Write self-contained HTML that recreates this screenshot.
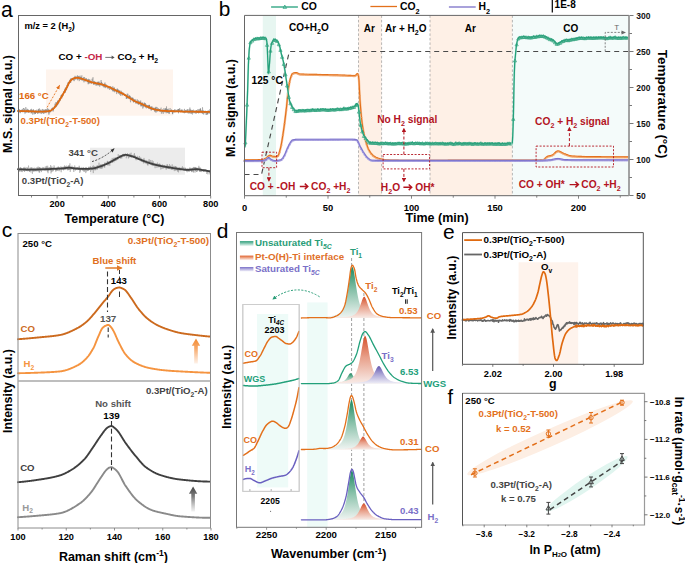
<!DOCTYPE html>
<html><head><meta charset="utf-8"><style>
html,body{margin:0;padding:0;background:#fff;width:685px;height:563px;overflow:hidden}
svg{display:block}
text{font-family:"Liberation Sans", sans-serif}
</style></head><body>
<svg width="685" height="563" viewBox="0 0 685 563" font-family='"Liberation Sans", sans-serif'>
<text x="1" y="16.8" font-size="21.2" font-weight="normal" fill="#000" text-anchor="start" ><tspan>a</tspan></text>
<rect x="46" y="69.5" width="127" height="46.2" fill="#fef4ed" />
<rect x="90" y="147.7" width="95" height="27" fill="#ececec" />
<path d="M18 111 L18.3 111.49 L18.6 110.57 L18.9 109.57 L19.2 110.29 L19.5 109.42 L19.8 111.14 L20.1 113.23 L20.4 110.26 L20.7 110.05 L21 111.87 L21.3 111.66 L21.6 111.25 L21.9 109.58 L22.2 111.05 L22.5 112.24 L22.8 108.93 L23.1 110.38 L23.4 108.04 L23.7 109.04 L24 108.15 L24.3 110.77 L24.6 109.1 L24.9 111.61 L25.2 111.43 L25.5 110.88 L25.8 107.1 L26.1 110.32 L26.4 111.12 L26.7 111.4 L27 108.73 L27.3 110.45 L27.6 109.65 L27.9 109.93 L28.2 112.98 L28.5 109.95 L28.8 111.21 L29.1 112.71 L29.4 110.34 L29.7 111.11 L30 111.48 L30.3 111.41 L30.6 109.33 L30.9 111.45 L31.2 113.55 L31.5 108.83 L31.8 112.76 L32.1 111.56 L32.4 110.34 L32.7 114.64 L33 112.64 L33.3 109.47 L33.6 111.55 L33.9 112.38 L34.2 111.15 L34.5 112.57 L34.8 111.37 L35.1 112.57 L35.4 113.84 L35.7 110.41 L36 111.85 L36.3 110.78 L36.6 111.75 L36.9 109.62 L37.2 110.62 L37.5 111.25 L37.8 113.03 L38.1 113.44 L38.4 109.43 L38.7 110.3 L39 112.65 L39.3 108.36 L39.6 110.85 L39.9 111.44 L40.2 113.64 L40.5 112.72 L40.8 111.07 L41.1 111 L41.4 111.19 L41.7 114.06 L42 110.89 L42.3 111.08 L42.6 112.14 L42.9 111.37 L43.2 111.24 L43.5 109.74 L43.8 111.52 L44.1 110.81 L44.4 113.41 L44.7 112.57 L45 111.46 L45.3 112.57 L45.6 110.92 L45.9 113.17 L46.2 111.43 L46.5 112.37 L46.8 109.31 L47.1 111.96 L47.4 108.62 L47.7 108.02 L48 110.79 L48.3 109.77 L48.6 111.44 L48.9 114.75 L49.2 109.67 L49.5 109.93 L49.8 111.19 L50.1 111.57 L50.4 110.37 L50.7 110.19 L51 111.52 L51.3 111.05 L51.6 108.34 L51.9 109.69 L52.2 109.67 L52.5 107.67 L52.8 109.58 L53.1 107.52 L53.4 110.23 L53.7 108.67 L54 108.18 L54.3 106.73 L54.6 107.13 L54.9 103.7 L55.2 104.72 L55.5 106.75 L55.8 102.3 L56.1 106.74 L56.4 102.12 L56.7 105.77 L57 102.73 L57.3 104.92 L57.6 103.41 L57.9 100.24 L58.2 104.29 L58.5 104.13 L58.8 101.21 L59.1 100.4 L59.4 100.1 L59.7 98.29 L60 101.17 L60.3 98 L60.6 98.3 L60.9 96.58 L61.2 96.35 L61.5 94.78 L61.8 98.38 L62.1 95.58 L62.4 96.89 L62.7 94.82 L63 93.15 L63.3 93.23 L63.6 92.33 L63.9 92.73 L64.2 91.58 L64.5 91.17 L64.8 88.89 L65.1 89.29 L65.4 92.76 L65.7 88.44 L66 87.29 L66.3 89 L66.6 90.15 L66.9 84.9 L67.2 86.31 L67.5 84.99 L67.8 82.53 L68.1 85.96 L68.4 84.12 L68.7 83.68 L69 81.78 L69.3 83.21 L69.6 81.1 L69.9 81.3 L70.2 79.33 L70.5 78.82 L70.8 82.67 L71.1 79.39 L71.4 80.41 L71.7 79.61 L72 78.7 L72.3 78.36 L72.6 80 L72.9 78.29 L73.2 78.37 L73.5 78.51 L73.8 80.27 L74.1 79.38 L74.4 78.82 L74.7 77.21 L75 75.81 L75.3 79.53 L75.6 79.5 L75.9 77.66 L76.2 78.73 L76.5 79.09 L76.8 79.15 L77.1 79.3 L77.4 77.07 L77.7 80.3 L78 75.86 L78.3 79.33 L78.6 78.79 L78.9 79.47 L79.2 81.17 L79.5 80.6 L79.8 76.4 L80.1 75.58 L80.4 79.72 L80.7 76.81 L81 78.52 L81.3 79.99 L81.6 76.04 L81.9 75.37 L82.2 79.32 L82.5 79.06 L82.8 78.69 L83.1 79.26 L83.4 77.9 L83.7 76.94 L84 79.23 L84.3 78.03 L84.6 77.05 L84.9 80.64 L85.2 79.83 L85.5 80.69 L85.8 78.53 L86.1 79.16 L86.4 78.71 L86.7 79 L87 80.87 L87.3 79.39 L87.6 81.35 L87.9 81.43 L88.2 84.28 L88.5 78.84 L88.8 82.66 L89.1 81.18 L89.4 81.42 L89.7 79.19 L90 80.91 L90.3 82.97 L90.6 81.73 L90.9 82.1 L91.2 81.59 L91.5 84.03 L91.8 82.21 L92.1 78.75 L92.4 81.28 L92.7 79.29 L93 77.28 L93.3 81.77 L93.6 84.87 L93.9 82.85 L94.2 80.93 L94.5 81.37 L94.8 84.8 L95.1 83.28 L95.4 83.16 L95.7 83.06 L96 83.26 L96.3 84.57 L96.6 84.22 L96.9 83.73 L97.2 81.74 L97.5 84.32 L97.8 82.44 L98.1 85.38 L98.4 81.6 L98.7 83.5 L99 83.77 L99.3 81.7 L99.6 86.71 L99.9 86.35 L100.2 83.29 L100.5 85.37 L100.8 84.8 L101.1 80.01 L101.4 84.74 L101.7 84.32 L102 84.64 L102.3 82.84 L102.6 84.24 L102.9 84.48 L103.2 86.79 L103.5 85.5 L103.8 85.05 L104.1 87.64 L104.4 84.36 L104.7 84.73 L105 82.52 L105.3 88.13 L105.6 87.26 L105.9 87.3 L106.2 87.01 L106.5 86.22 L106.8 86.51 L107.1 85.87 L107.4 86.07 L107.7 86.62 L108 89.11 L108.3 87.68 L108.6 86.81 L108.9 86.09 L109.2 86.12 L109.5 89.89 L109.8 88.24 L110.1 87.65 L110.4 87.11 L110.7 86.01 L111 87.85 L111.3 89.52 L111.6 87.61 L111.9 88.03 L112.2 88.19 L112.5 88.88 L112.8 86.27 L113.1 88.63 L113.4 87.78 L113.7 90.76 L114 88.23 L114.3 90.58 L114.6 92.27 L114.9 89.44 L115.2 89.13 L115.5 90.57 L115.8 90.4 L116.1 88.93 L116.4 91.44 L116.7 94.11 L117 90.55 L117.3 90.78 L117.6 89.55 L117.9 91.9 L118.2 89.49 L118.5 89.85 L118.8 93.86 L119.1 90.44 L119.4 93.8 L119.7 94.66 L120 92.74 L120.3 93.36 L120.6 95.77 L120.9 92.42 L121.2 91.92 L121.5 90.84 L121.8 93.25 L122.1 95.74 L122.4 95.06 L122.7 92.13 L123 92.44 L123.3 93.19 L123.6 94.66 L123.9 94.04 L124.2 94.9 L124.5 95.23 L124.8 94.45 L125.1 95.07 L125.4 95.66 L125.7 95.38 L126 96.54 L126.3 98.95 L126.6 97.07 L126.9 96.39 L127.2 93.76 L127.5 97.32 L127.8 93.71 L128.1 94.77 L128.4 98.64 L128.7 98.58 L129 97.38 L129.3 95.04 L129.6 97.41 L129.9 97.1 L130.2 99.43 L130.5 102.26 L130.8 99.13 L131.1 97.7 L131.4 97.26 L131.7 99.25 L132 99.24 L132.3 97.84 L132.6 100.08 L132.9 98.2 L133.2 102.05 L133.5 102.14 L133.8 102.34 L134.1 99.97 L134.4 101.73 L134.7 100.84 L135 100.56 L135.3 100.79 L135.6 99.37 L135.9 99.27 L136.2 103.04 L136.5 101.57 L136.8 102.36 L137.1 103.76 L137.4 99.44 L137.7 101.1 L138 102.78 L138.3 103.26 L138.6 102.12 L138.9 104.53 L139.2 103.31 L139.5 101.12 L139.8 101.7 L140.1 104.64 L140.4 104.2 L140.7 100.48 L141 105.88 L141.3 104.78 L141.6 106.12 L141.9 103.44 L142.2 103.71 L142.5 102.49 L142.8 108.58 L143.1 104.31 L143.4 107.31 L143.7 103.83 L144 105.3 L144.3 102.47 L144.6 104.71 L144.9 107.09 L145.2 103.61 L145.5 107.53 L145.8 106.49 L146.1 104.39 L146.4 105.42 L146.7 105.62 L147 106.42 L147.3 105.76 L147.6 105.42 L147.9 106.39 L148.2 105.35 L148.5 105.06 L148.8 107.2 L149.1 108.85 L149.4 105.05 L149.7 107.67 L150 106.74 L150.3 106.33 L150.6 109.43 L150.9 107.32 L151.2 110.72 L151.5 107.13 L151.8 109.14 L152.1 108.25 L152.4 107.51 L152.7 109.79 L153 108.69 L153.3 110.01 L153.6 109.05 L153.9 107.45 L154.2 109.13 L154.5 109.46 L154.8 111.01 L155.1 108.05 L155.4 109.53 L155.7 106.86 L156 110.78 L156.3 108.03 L156.6 106.91 L156.9 109.82 L157.2 111.77 L157.5 107.56 L157.8 108.32 L158.1 108.94 L158.4 108.37 L158.7 110.87 L159 109 L159.3 109.19 L159.6 111.35 L159.9 109.22 L160.2 111.2 L160.5 108.96 L160.8 108.61 L161.1 107.63 L161.4 113.68 L161.7 110.16 L162 111.11 L162.3 110.69 L162.6 111.03 L162.9 110.87 L163.2 113.91 L163.5 109.15 L163.8 108.32 L164.1 109.23 L164.4 108.72 L164.7 112.12 L165 112.26 L165.3 109.38 L165.6 108.7 L165.9 110.39 L166.2 113.25 L166.5 106.42 L166.8 111.87 L167.1 109.28 L167.4 112.73 L167.7 109.3 L168 110.6 L168.3 108.63 L168.6 109.5 L168.9 113.35 L169.2 112.44 L169.5 110.47 L169.8 109.72 L170.1 108.06 L170.4 110.51 L170.7 111.11 L171 111.03 L171.3 111.03 L171.6 109.37 L171.9 111.09 L172.2 111.15 L172.5 113.32 L172.8 114.26 L173.1 111.01 L173.4 110 L173.7 111.15 L174 110.28 L174.3 110.07 L174.6 111.19 L174.9 109.6 L175.2 112.29 L175.5 111.15 L175.8 111.73 L176.1 111.04 L176.4 110.17 L176.7 109.82 L177 110.99 L177.3 110.49 L177.6 111.77 L177.9 111.4 L178.2 109.2 L178.5 111.53 L178.8 109.25 L179.1 110.44 L179.4 110.98 L179.7 108.09 L180 111.62 L180.3 111.73 L180.6 111.24 L180.9 110.82 L181.2 110.91 L181.5 109.94 L181.8 111.09 L182.1 110.64 L182.4 111.7 L182.7 109.6 L183 111.95 L183.3 111.8 L183.6 111.35 L183.9 110.87 L184.2 112.48 L184.5 108.89 L184.8 112.35 L185.1 112 L185.4 112.07 L185.7 112.23 L186 110.55 L186.3 111.2 L186.6 112.66 L186.9 112.33 L187.2 111.97 L187.5 109.17 L187.8 112.51 L188.1 113.54 L188.4 113.29 L188.7 112.03 L189 109.12 L189.3 113.19 L189.6 111.42 L189.9 107.55 L190.2 112.28 L190.5 109.25 L190.8 109.57 L191.1 110.65 L191.4 113.75 L191.7 111.08 L192 112.13 L192.3 114.53 L192.6 114.29 L192.9 111.53 L193.2 111.31 L193.5 109.66 L193.8 110.58 L194.1 112.4 L194.4 112.36 L194.7 111.9 L195 113.34 L195.3 110.47 L195.6 111.63 L195.9 112.92 L196.2 112.68 L196.5 113.47 L196.8 112.38 L197.1 111.24 L197.4 112.33 L197.7 110.12 L198 109.08 L198.3 112.69 L198.6 111.66 L198.9 112.26 L199.2 109 L199.5 111.17 L199.8 110.79 L200.1 110.36 L200.4 108.1 L200.7 111.22 L201 113.23 L201.3 112.39 L201.6 110.8 L201.9 111.75 L202.2 113.01 L202.5 107.29 L202.8 111.58 L203.1 112.66 L203.4 112.89 L203.7 114.55 L204 113.63 L204.3 112.3 L204.6 112.28 L204.9 113.07 L205.2 110.91 L205.5 111.73 L205.8 113.27 L206.1 114.97 L206.4 111.54 L206.7 111.72 L207 112.12 L207.3 113.98 L207.6 111.75 L207.9 114.19 L208.2 110.23 L208.5 111.5 L208.8 111.48 L209.1 113.08 L209.4 113.5 L209.7 109.35 L210 110.31" fill="none" stroke="#8a8a8a" stroke-width="0.5" stroke-linejoin="round" stroke-linecap="round" />
<path d="M18 111.38 L18.3 110.27 L18.6 109.3 L18.9 112.19 L19.2 111.58 L19.5 111.59 L19.8 110.51 L20.1 112.21 L20.4 110.78 L20.7 112.3 L21 110.04 L21.3 110.12 L21.6 111.31 L21.9 110.3 L22.2 111.86 L22.5 111.4 L22.8 110.07 L23.1 111.2 L23.4 110.73 L23.7 112.17 L24 110.43 L24.3 110.66 L24.6 112.52 L24.9 113.68 L25.2 113.42 L25.5 111.25 L25.8 111.43 L26.1 112.92 L26.4 111.06 L26.7 110.11 L27 111.35 L27.3 111.74 L27.6 110.3 L27.9 109.39 L28.2 109.63 L28.5 112.01 L28.8 110.41 L29.1 111.12 L29.4 111.52 L29.7 111.99 L30 110.92 L30.3 111.87 L30.6 110.32 L30.9 110.92 L31.2 110.18 L31.5 112.62 L31.8 111.33 L32.1 110.54 L32.4 110.99 L32.7 111.14 L33 112.19 L33.3 109.62 L33.6 110.26 L33.9 111.02 L34.2 114.3 L34.5 112.54 L34.8 111.35 L35.1 112.29 L35.4 113.81 L35.7 111.25 L36 111.11 L36.3 112.89 L36.6 112.1 L36.9 112.3 L37.2 110.99 L37.5 113.73 L37.8 113.5 L38.1 112.22 L38.4 112.36 L38.7 109.31 L39 112.31 L39.3 111.38 L39.6 112.09 L39.9 112.37 L40.2 111.22 L40.5 109.7 L40.8 112.01 L41.1 110.76 L41.4 111.22 L41.7 110.91 L42 111.2 L42.3 108.98 L42.6 112.94 L42.9 111.85 L43.2 112.81 L43.5 113.78 L43.8 111.56 L44.1 109.5 L44.4 110.51 L44.7 110.15 L45 110.93 L45.3 111.57 L45.6 109.22 L45.9 111.84 L46.2 109.74 L46.5 111.76 L46.8 111.29 L47.1 111.04 L47.4 111.29 L47.7 110.72 L48 110.6 L48.3 109.34 L48.6 111.14 L48.9 113.18 L49.2 113.25 L49.5 112.43 L49.8 111.65 L50.1 110.01 L50.4 112.28 L50.7 110.46 L51 110.3 L51.3 109.88 L51.6 110.12 L51.9 109.33 L52.2 109.52 L52.5 108.17 L52.8 108.74 L53.1 111.48 L53.4 108.57 L53.7 108.09 L54 108.63 L54.3 108.48 L54.6 106.07 L54.9 106.71 L55.2 107.59 L55.5 106.46 L55.8 105.9 L56.1 107.12 L56.4 104.2 L56.7 104.63 L57 103.52 L57.3 105.33 L57.6 101 L57.9 101.98 L58.2 101.67 L58.5 102.54 L58.8 102 L59.1 102.41 L59.4 98.59 L59.7 100.72 L60 99.05 L60.3 98.13 L60.6 98.99 L60.9 96.84 L61.2 95.03 L61.5 96.44 L61.8 94.66 L62.1 95.1 L62.4 95.73 L62.7 95.15 L63 96.07 L63.3 93.54 L63.6 91.51 L63.9 91.86 L64.2 91.15 L64.5 90.29 L64.8 91.62 L65.1 89.87 L65.4 87.84 L65.7 90.32 L66 88.87 L66.3 88.85 L66.6 87.99 L66.9 87.97 L67.2 86.69 L67.5 87.41 L67.8 85.87 L68.1 85.21 L68.4 84.62 L68.7 81.93 L69 82.82 L69.3 82.18 L69.6 82.21 L69.9 80 L70.2 82.97 L70.5 80.92 L70.8 79.14 L71.1 78.29 L71.4 79.62 L71.7 79.57 L72 78.61 L72.3 79.29 L72.6 78.25 L72.9 79.4 L73.2 77.8 L73.5 78.43 L73.8 79.46 L74.1 81.17 L74.4 77.06 L74.7 77.6 L75 77.11 L75.3 78.87 L75.6 76.64 L75.9 77.34 L76.2 77.81 L76.5 76.72 L76.8 76.73 L77.1 77.27 L77.4 75.45 L77.7 76.22 L78 77.42 L78.3 78.1 L78.6 77.78 L78.9 76.06 L79.2 77.6 L79.5 79.09 L79.8 78.88 L80.1 78.23 L80.4 77.39 L80.7 79.17 L81 77.89 L81.3 77.31 L81.6 77.81 L81.9 80.43 L82.2 79.14 L82.5 80.3 L82.8 78.55 L83.1 80.25 L83.4 78.62 L83.7 79.22 L84 82.3 L84.3 80.47 L84.6 79.15 L84.9 79.73 L85.2 80.29 L85.5 81.39 L85.8 79.58 L86.1 78.27 L86.4 80.02 L86.7 80.46 L87 80.67 L87.3 82.14 L87.6 81.12 L87.9 81.79 L88.2 79.75 L88.5 82.08 L88.8 83.58 L89.1 82.2 L89.4 81.73 L89.7 81.72 L90 83.67 L90.3 80.72 L90.6 81.74 L90.9 82.48 L91.2 82.9 L91.5 81.66 L91.8 82.59 L92.1 82.01 L92.4 82.54 L92.7 82.34 L93 81.28 L93.3 82.61 L93.6 83.69 L93.9 81.68 L94.2 82.56 L94.5 83.65 L94.8 81.76 L95.1 83.23 L95.4 81.89 L95.7 84.42 L96 85.8 L96.3 85.54 L96.6 83.07 L96.9 84.21 L97.2 83.57 L97.5 83.6 L97.8 85.29 L98.1 82.12 L98.4 84.85 L98.7 83.67 L99 85.37 L99.3 84.06 L99.6 83.16 L99.9 84.29 L100.2 84.87 L100.5 84.16 L100.8 84.74 L101.1 83.67 L101.4 81.94 L101.7 85.43 L102 85.29 L102.3 84.75 L102.6 84.75 L102.9 85.93 L103.2 84.34 L103.5 84.16 L103.8 84.84 L104.1 86.49 L104.4 83.7 L104.7 86.71 L105 84.75 L105.3 84.35 L105.6 87.11 L105.9 85.7 L106.2 84.46 L106.5 85.64 L106.8 87.21 L107.1 87.62 L107.4 85.92 L107.7 86.98 L108 87.45 L108.3 86.05 L108.6 87.3 L108.9 86.99 L109.2 86.55 L109.5 86.73 L109.8 87.49 L110.1 87.58 L110.4 87.04 L110.7 87.33 L111 89.21 L111.3 88.34 L111.6 89.24 L111.9 89.75 L112.2 89.21 L112.5 91.26 L112.8 87.93 L113.1 89.92 L113.4 88.81 L113.7 91.41 L114 91.4 L114.3 87.44 L114.6 88.71 L114.9 90.7 L115.2 90.99 L115.5 91.08 L115.8 90.32 L116.1 91.06 L116.4 91.43 L116.7 90.74 L117 92.13 L117.3 88.57 L117.6 91.96 L117.9 90.21 L118.2 92.59 L118.5 91.39 L118.8 90.78 L119.1 92.33 L119.4 91.02 L119.7 91.16 L120 90.56 L120.3 92.43 L120.6 93.16 L120.9 93.89 L121.2 92.73 L121.5 94.21 L121.8 93.21 L122.1 93.24 L122.4 94.15 L122.7 94.85 L123 93.45 L123.3 93.73 L123.6 94.01 L123.9 94.46 L124.2 93.54 L124.5 95.9 L124.8 94.49 L125.1 95.65 L125.4 94.4 L125.7 95.92 L126 96.16 L126.3 95.44 L126.6 98.38 L126.9 96.72 L127.2 98.5 L127.5 97.77 L127.8 96.13 L128.1 96.63 L128.4 97.74 L128.7 97.51 L129 97.68 L129.3 97.5 L129.6 95.97 L129.9 97.95 L130.2 95.9 L130.5 99 L130.8 97.96 L131.1 98.16 L131.4 98.91 L131.7 99.65 L132 97.92 L132.3 97.75 L132.6 98.69 L132.9 97.77 L133.2 99.16 L133.5 102.2 L133.8 99.39 L134.1 101.48 L134.4 99.36 L134.7 101.39 L135 100.84 L135.3 101.27 L135.6 102.12 L135.9 103.59 L136.2 101.97 L136.5 102.02 L136.8 100.91 L137.1 102.79 L137.4 101.98 L137.7 103.31 L138 102.45 L138.3 104.58 L138.6 100.51 L138.9 102.52 L139.2 103.96 L139.5 102.7 L139.8 102.32 L140.1 103.03 L140.4 101.89 L140.7 103.7 L141 106.43 L141.3 105.1 L141.6 102.69 L141.9 103.08 L142.2 103.73 L142.5 105.45 L142.8 103.53 L143.1 103.82 L143.4 105.73 L143.7 105.85 L144 104.61 L144.3 103.92 L144.6 103.59 L144.9 104.7 L145.2 103.13 L145.5 106.64 L145.8 105.23 L146.1 106.63 L146.4 108.33 L146.7 107.69 L147 105.2 L147.3 107.61 L147.6 108.06 L147.9 106.05 L148.2 105.95 L148.5 107.03 L148.8 105.48 L149.1 109.07 L149.4 104.83 L149.7 106.42 L150 107.49 L150.3 107.66 L150.6 108.23 L150.9 108.47 L151.2 108.04 L151.5 109.68 L151.8 106.11 L152.1 108.62 L152.4 107.93 L152.7 108.99 L153 109.19 L153.3 108.01 L153.6 108.41 L153.9 110.11 L154.2 109.69 L154.5 108.61 L154.8 111.75 L155.1 112.12 L155.4 107.94 L155.7 110 L156 112.54 L156.3 110.67 L156.6 110.1 L156.9 109.68 L157.2 109.36 L157.5 109.79 L157.8 109.47 L158.1 110.99 L158.4 109.75 L158.7 109.76 L159 108.96 L159.3 110.3 L159.6 109.4 L159.9 110.25 L160.2 111.67 L160.5 110.95 L160.8 111.15 L161.1 111.02 L161.4 110.72 L161.7 110.54 L162 110.37 L162.3 111.6 L162.6 109.55 L162.9 112.3 L163.2 110.85 L163.5 109.99 L163.8 110.3 L164.1 110.11 L164.4 111.07 L164.7 110.1 L165 112.21 L165.3 110.06 L165.6 108.4 L165.9 110.15 L166.2 108.73 L166.5 110.95 L166.8 112.2 L167.1 111.75 L167.4 109.53 L167.7 110.19 L168 113.06 L168.3 111.43 L168.6 111.09 L168.9 112.29 L169.2 113.87 L169.5 112.58 L169.8 111.29 L170.1 111.54 L170.4 111.84 L170.7 110.47 L171 109.98 L171.3 111.24 L171.6 110.12 L171.9 111.13 L172.2 111.32 L172.5 113.85 L172.8 110.27 L173.1 111.1 L173.4 111.06 L173.7 111.75 L174 112.44 L174.3 110.72 L174.6 110.36 L174.9 109.45 L175.2 110.26 L175.5 111.92 L175.8 111.38 L176.1 110.2 L176.4 110.93 L176.7 111.4 L177 111.94 L177.3 110.71 L177.6 111.11 L177.9 109.36 L178.2 110.12 L178.5 113.24 L178.8 108.97 L179.1 111.07 L179.4 111.7 L179.7 111.05 L180 110.57 L180.3 111.42 L180.6 111.49 L180.9 111.41 L181.2 109.4 L181.5 111.36 L181.8 110.57 L182.1 110.92 L182.4 111.8 L182.7 112.28 L183 112.57 L183.3 111.01 L183.6 112.62 L183.9 112.9 L184.2 112.87 L184.5 113.16 L184.8 111.43 L185.1 111.41 L185.4 112.53 L185.7 110.07 L186 111.85 L186.3 111.02 L186.6 111.21 L186.9 109.67 L187.2 110.63 L187.5 111.61 L187.8 112.64 L188.1 112.76 L188.4 111.55 L188.7 111.44 L189 110.72 L189.3 112.11 L189.6 111.38 L189.9 112.35 L190.2 113.64 L190.5 111.63 L190.8 109.99 L191.1 110.71 L191.4 110.04 L191.7 110.34 L192 113.16 L192.3 111.95 L192.6 109.98 L192.9 112.43 L193.2 113.12 L193.5 111.3 L193.8 110.95 L194.1 111.33 L194.4 112.03 L194.7 112.44 L195 113.05 L195.3 113.09 L195.6 113.06 L195.9 113.26 L196.2 112.48 L196.5 110.01 L196.8 111.59 L197.1 112.09 L197.4 111.31 L197.7 112.77 L198 111.34 L198.3 110.71 L198.6 113.38 L198.9 112.5 L199.2 112 L199.5 112.8 L199.8 112.96 L200.1 112.15 L200.4 109 L200.7 111.01 L201 111.26 L201.3 110.66 L201.6 112 L201.9 113.12 L202.2 111.23 L202.5 110.5 L202.8 114.06 L203.1 111.27 L203.4 110.4 L203.7 112.05 L204 112.26 L204.3 110.99 L204.6 112.68 L204.9 111.24 L205.2 110.75 L205.5 111.99 L205.8 112.66 L206.1 111.08 L206.4 112.17 L206.7 111.69 L207 114.97 L207.3 111 L207.6 113.35 L207.9 111.74 L208.2 111.66 L208.5 112.61 L208.8 112.81 L209.1 113.23 L209.4 112.17 L209.7 111.12 L210 111.2" fill="none" stroke="#7a7a7a" stroke-width="0.5" stroke-linejoin="round" stroke-linecap="round" />
<path d="M18 111 L18.35 111.01 L18.7 111.02 L19.05 111.02 L19.4 111.03 L19.75 111.04 L20.1 111.05 L20.45 111.06 L20.8 111.06 L21.15 111.07 L21.5 111.08 L21.85 111.09 L22.2 111.1 L22.55 111.11 L22.9 111.12 L23.25 111.12 L23.6 111.13 L23.95 111.14 L24.3 111.15 L24.65 111.16 L25 111.17 L25.35 111.18 L25.7 111.19 L26.05 111.19 L26.4 111.2 L26.75 111.21 L27.1 111.22 L27.45 111.23 L27.8 111.24 L28.15 111.25 L28.5 111.26 L28.85 111.27 L29.2 111.28 L29.55 111.29 L29.9 111.3 L30.25 111.31 L30.6 111.32 L30.95 111.33 L31.3 111.34 L31.65 111.35 L32 111.37 L32.35 111.38 L32.7 111.39 L33.05 111.41 L33.4 111.42 L33.75 111.43 L34.1 111.45 L34.45 111.46 L34.8 111.48 L35.15 111.49 L35.5 111.5 L35.85 111.52 L36.2 111.53 L36.55 111.54 L36.9 111.55 L37.25 111.56 L37.6 111.57 L37.95 111.58 L38.3 111.58 L38.65 111.59 L39 111.59 L39.35 111.6 L39.7 111.6 L40.05 111.6 L40.4 111.6 L40.75 111.6 L41.1 111.59 L41.45 111.59 L41.8 111.59 L42.15 111.58 L42.5 111.57 L42.85 111.57 L43.2 111.56 L43.55 111.55 L43.9 111.54 L44.25 111.52 L44.6 111.51 L44.95 111.5 L45.3 111.48 L45.65 111.47 L46 111.45 L46.35 111.43 L46.7 111.42 L47.05 111.4 L47.4 111.37 L47.75 111.32 L48.1 111.27 L48.45 111.2 L48.8 111.12 L49.15 111.04 L49.5 110.94 L49.85 110.84 L50.2 110.73 L50.55 110.6 L50.9 110.43 L51.25 110.24 L51.6 110.02 L51.95 109.79 L52.3 109.54 L52.65 109.27 L53 109 L53.35 108.7 L53.7 108.36 L54.05 107.98 L54.4 107.57 L54.75 107.13 L55.1 106.69 L55.45 106.23 L55.8 105.76 L56.15 105.3 L56.5 104.82 L56.85 104.32 L57.2 103.8 L57.55 103.27 L57.9 102.73 L58.25 102.18 L58.6 101.63 L58.95 101.08 L59.3 100.52 L59.65 99.96 L60 99.38 L60.35 98.8 L60.7 98.21 L61.05 97.62 L61.4 97.02 L61.75 96.43 L62.1 95.83 L62.45 95.23 L62.8 94.63 L63.15 94.02 L63.5 93.41 L63.85 92.8 L64.2 92.19 L64.55 91.57 L64.9 90.95 L65.25 90.33 L65.6 89.71 L65.95 89.09 L66.3 88.45 L66.65 87.77 L67 87.06 L67.35 86.33 L67.7 85.6 L68.05 84.87 L68.4 84.16 L68.75 83.47 L69.1 82.82 L69.45 82.22 L69.8 81.67 L70.15 81.2 L70.5 80.8 L70.85 80.45 L71.2 80.12 L71.55 79.8 L71.9 79.5 L72.25 79.23 L72.6 78.98 L72.95 78.75 L73.3 78.57 L73.65 78.41 L74 78.3 L74.35 78.21 L74.7 78.12 L75.05 78.04 L75.4 77.97 L75.75 77.91 L76.1 77.86 L76.45 77.82 L76.8 77.8 L77.15 77.8 L77.5 77.82 L77.85 77.86 L78.2 77.92 L78.55 77.98 L78.9 78.05 L79.25 78.13 L79.6 78.21 L79.95 78.29 L80.3 78.37 L80.65 78.45 L81 78.54 L81.35 78.64 L81.7 78.74 L82.05 78.85 L82.4 78.96 L82.75 79.07 L83.1 79.19 L83.45 79.31 L83.8 79.44 L84.15 79.56 L84.5 79.68 L84.85 79.81 L85.2 79.93 L85.55 80.05 L85.9 80.17 L86.25 80.28 L86.6 80.41 L86.95 80.53 L87.3 80.66 L87.65 80.79 L88 80.92 L88.35 81.05 L88.7 81.18 L89.05 81.31 L89.4 81.44 L89.75 81.57 L90.1 81.69 L90.45 81.82 L90.8 81.93 L91.15 82.05 L91.5 82.16 L91.85 82.26 L92.2 82.35 L92.55 82.45 L92.9 82.53 L93.25 82.62 L93.6 82.7 L93.95 82.78 L94.3 82.86 L94.65 82.93 L95 83 L95.35 83.07 L95.7 83.14 L96.05 83.21 L96.4 83.28 L96.75 83.35 L97.1 83.41 L97.45 83.48 L97.8 83.55 L98.15 83.62 L98.5 83.69 L98.85 83.76 L99.2 83.83 L99.55 83.9 L99.9 83.98 L100.25 84.06 L100.6 84.14 L100.95 84.22 L101.3 84.31 L101.65 84.4 L102 84.5 L102.35 84.6 L102.7 84.7 L103.05 84.81 L103.4 84.92 L103.75 85.04 L104.1 85.16 L104.45 85.28 L104.8 85.4 L105.15 85.53 L105.5 85.66 L105.85 85.79 L106.2 85.93 L106.55 86.06 L106.9 86.2 L107.25 86.34 L107.6 86.49 L107.95 86.63 L108.3 86.78 L108.65 86.92 L109 87.07 L109.35 87.22 L109.7 87.37 L110.05 87.52 L110.4 87.68 L110.75 87.84 L111.1 88 L111.45 88.17 L111.8 88.35 L112.15 88.52 L112.5 88.7 L112.85 88.88 L113.2 89.06 L113.55 89.25 L113.9 89.43 L114.25 89.61 L114.6 89.8 L114.95 89.98 L115.3 90.15 L115.65 90.33 L116 90.5 L116.35 90.67 L116.7 90.83 L117.05 90.99 L117.4 91.15 L117.75 91.31 L118.1 91.47 L118.45 91.62 L118.8 91.78 L119.15 91.93 L119.5 92.09 L119.85 92.25 L120.2 92.41 L120.55 92.57 L120.9 92.74 L121.25 92.91 L121.6 93.08 L121.95 93.26 L122.3 93.45 L122.65 93.64 L123 93.83 L123.35 94.04 L123.7 94.25 L124.05 94.46 L124.4 94.68 L124.75 94.9 L125.1 95.13 L125.45 95.36 L125.8 95.59 L126.15 95.82 L126.5 96.04 L126.85 96.27 L127.2 96.5 L127.55 96.72 L127.9 96.94 L128.25 97.15 L128.6 97.37 L128.95 97.59 L129.3 97.82 L129.65 98.04 L130 98.27 L130.35 98.49 L130.7 98.71 L131.05 98.94 L131.4 99.16 L131.75 99.38 L132.1 99.59 L132.45 99.8 L132.8 100.01 L133.15 100.22 L133.5 100.42 L133.85 100.61 L134.2 100.79 L134.55 100.97 L134.9 101.15 L135.25 101.32 L135.6 101.48 L135.95 101.64 L136.3 101.79 L136.65 101.94 L137 102.09 L137.35 102.24 L137.7 102.38 L138.05 102.52 L138.4 102.66 L138.75 102.8 L139.1 102.93 L139.45 103.07 L139.8 103.21 L140.15 103.35 L140.5 103.49 L140.85 103.63 L141.2 103.77 L141.55 103.91 L141.9 104.06 L142.25 104.21 L142.6 104.36 L142.95 104.52 L143.3 104.69 L143.65 104.86 L144 105.03 L144.35 105.21 L144.7 105.39 L145.05 105.56 L145.4 105.74 L145.75 105.92 L146.1 106.09 L146.45 106.25 L146.8 106.41 L147.15 106.56 L147.5 106.72 L147.85 106.87 L148.2 107.02 L148.55 107.17 L148.9 107.32 L149.25 107.48 L149.6 107.62 L149.95 107.77 L150.3 107.92 L150.65 108.06 L151 108.2 L151.35 108.34 L151.7 108.48 L152.05 108.61 L152.4 108.73 L152.75 108.85 L153.1 108.97 L153.45 109.08 L153.8 109.19 L154.15 109.29 L154.5 109.38 L154.85 109.47 L155.2 109.55 L155.55 109.62 L155.9 109.7 L156.25 109.78 L156.6 109.85 L156.95 109.92 L157.3 109.99 L157.65 110.06 L158 110.13 L158.35 110.19 L158.7 110.26 L159.05 110.32 L159.4 110.37 L159.75 110.43 L160.1 110.48 L160.45 110.53 L160.8 110.58 L161.15 110.62 L161.5 110.66 L161.85 110.7 L162.2 110.74 L162.55 110.77 L162.9 110.79 L163.25 110.82 L163.6 110.84 L163.95 110.86 L164.3 110.88 L164.65 110.9 L165 110.92 L165.35 110.94 L165.7 110.96 L166.05 110.98 L166.4 110.99 L166.75 111.01 L167.1 111.03 L167.45 111.04 L167.8 111.06 L168.15 111.07 L168.5 111.08 L168.85 111.1 L169.2 111.11 L169.55 111.12 L169.9 111.13 L170.25 111.15 L170.6 111.16 L170.95 111.17 L171.3 111.18 L171.65 111.19 L172 111.2 L172.35 111.21 L172.7 111.22 L173.05 111.24 L173.4 111.25 L173.75 111.26 L174.1 111.27 L174.45 111.28 L174.8 111.29 L175.15 111.31 L175.5 111.32 L175.85 111.33 L176.2 111.34 L176.55 111.36 L176.9 111.37 L177.25 111.38 L177.6 111.39 L177.95 111.41 L178.3 111.42 L178.65 111.43 L179 111.44 L179.35 111.45 L179.7 111.47 L180.05 111.48 L180.4 111.49 L180.75 111.5 L181.1 111.51 L181.45 111.52 L181.8 111.53 L182.15 111.54 L182.5 111.55 L182.85 111.56 L183.2 111.57 L183.55 111.57 L183.9 111.58 L184.25 111.59 L184.6 111.59 L184.95 111.6 L185.3 111.6 L185.65 111.61 L186 111.61 L186.35 111.62 L186.7 111.62 L187.05 111.63 L187.4 111.63 L187.75 111.64 L188.1 111.64 L188.45 111.65 L188.8 111.65 L189.15 111.65 L189.5 111.66 L189.85 111.66 L190.2 111.67 L190.55 111.67 L190.9 111.68 L191.25 111.68 L191.6 111.68 L191.95 111.69 L192.3 111.69 L192.65 111.7 L193 111.7 L193.35 111.7 L193.7 111.71 L194.05 111.71 L194.4 111.71 L194.75 111.72 L195.1 111.72 L195.45 111.72 L195.8 111.73 L196.15 111.73 L196.5 111.73 L196.85 111.74 L197.2 111.74 L197.55 111.74 L197.9 111.75 L198.25 111.75 L198.6 111.75 L198.95 111.75 L199.3 111.76 L199.65 111.76 L200 111.76 L200.35 111.77 L200.7 111.77 L201.05 111.77 L201.4 111.77 L201.75 111.77 L202.1 111.78 L202.45 111.78 L202.8 111.78 L203.15 111.78 L203.5 111.78 L203.85 111.79 L204.2 111.79 L204.55 111.79 L204.9 111.79 L205.25 111.79 L205.6 111.79 L205.95 111.79 L206.3 111.79 L206.65 111.8 L207 111.8 L207.35 111.8 L207.7 111.8 L208.05 111.8 L208.4 111.8 L208.75 111.8 L209.1 111.8 L209.45 111.8 L209.8 111.8" fill="none" stroke="#e06a10" stroke-width="1.8" stroke-linejoin="round" stroke-linecap="round" />
<path d="M18 170 L18.3 170.13 L18.6 171.42 L18.9 169.91 L19.2 170.92 L19.5 171.65 L19.8 169.56 L20.1 166.99 L20.4 167.49 L20.7 167.1 L21 171.85 L21.3 168.05 L21.6 171.31 L21.9 170.32 L22.2 172.1 L22.5 171 L22.8 169.28 L23.1 169.14 L23.4 169.6 L23.7 169.75 L24 168.66 L24.3 169.45 L24.6 172.02 L24.9 166.86 L25.2 169.93 L25.5 168.12 L25.8 169.84 L26.1 170.86 L26.4 169.47 L26.7 170.77 L27 167.09 L27.3 171.31 L27.6 168.64 L27.9 170.56 L28.2 169.87 L28.5 165.55 L28.8 168.41 L29.1 169.94 L29.4 172.03 L29.7 170.05 L30 170 L30.3 167.39 L30.6 171.84 L30.9 172.42 L31.2 169.64 L31.5 169.25 L31.8 167.06 L32.1 170.97 L32.4 173.81 L32.7 170.71 L33 171.56 L33.3 170.43 L33.6 168.04 L33.9 171.66 L34.2 167.64 L34.5 169.23 L34.8 169.99 L35.1 170.93 L35.4 170.2 L35.7 170.15 L36 168.35 L36.3 167.52 L36.6 169.62 L36.9 168.41 L37.2 167.47 L37.5 167.53 L37.8 168.73 L38.1 166.6 L38.4 167.38 L38.7 166.92 L39 169.76 L39.3 170.1 L39.6 172.59 L39.9 167.11 L40.2 168.38 L40.5 170.86 L40.8 169.09 L41.1 168.91 L41.4 172.09 L41.7 168.88 L42 167.59 L42.3 167.33 L42.6 169.91 L42.9 169.85 L43.2 167.22 L43.5 167.82 L43.8 170.18 L44.1 170.24 L44.4 168.32 L44.7 170.28 L45 170.19 L45.3 166.5 L45.6 168.79 L45.9 169.91 L46.2 168.35 L46.5 165.89 L46.8 168.78 L47.1 170.38 L47.4 171.66 L47.7 165.75 L48 173.24 L48.3 167.38 L48.6 170.62 L48.9 171.04 L49.2 170.63 L49.5 169.31 L49.8 167.25 L50.1 170.03 L50.4 167.91 L50.7 165.07 L51 173.42 L51.3 170.09 L51.6 171.81 L51.9 167.53 L52.2 171.23 L52.5 171.4 L52.8 171.33 L53.1 168.86 L53.4 167 L53.7 168.58 L54 165.4 L54.3 166.17 L54.6 168.96 L54.9 167.26 L55.2 168.53 L55.5 168.61 L55.8 171.78 L56.1 170.78 L56.4 168.67 L56.7 170.62 L57 167.5 L57.3 168.18 L57.6 170.12 L57.9 166.75 L58.2 168.24 L58.5 166.6 L58.8 168.84 L59.1 171.19 L59.4 167.46 L59.7 168.97 L60 167.2 L60.3 166.8 L60.6 166.65 L60.9 170.84 L61.2 172.24 L61.5 169.28 L61.8 167.39 L62.1 169.59 L62.4 167.95 L62.7 169.69 L63 168.86 L63.3 168.81 L63.6 169.28 L63.9 167.39 L64.2 167.62 L64.5 165.51 L64.8 167.47 L65.1 165.89 L65.4 167.84 L65.7 166.52 L66 168.13 L66.3 168.63 L66.6 165.66 L66.9 166.57 L67.2 166.34 L67.5 168.95 L67.8 170.42 L68.1 169.06 L68.4 167.17 L68.7 169.99 L69 165.33 L69.3 170.05 L69.6 166.69 L69.9 163.39 L70.2 171.9 L70.5 170.26 L70.8 166.22 L71.1 168.13 L71.4 167.58 L71.7 168.12 L72 165.7 L72.3 167 L72.6 168.85 L72.9 168.52 L73.2 170.1 L73.5 168.41 L73.8 172 L74.1 167.26 L74.4 168.83 L74.7 165.48 L75 166.55 L75.3 170.62 L75.6 167.1 L75.9 169.42 L76.2 168.51 L76.5 166.99 L76.8 168.1 L77.1 167.85 L77.4 167.91 L77.7 169.87 L78 169.72 L78.3 167.82 L78.6 167.31 L78.9 169.19 L79.2 168.6 L79.5 170.38 L79.8 172.93 L80.1 170.11 L80.4 168.75 L80.7 168.55 L81 167.49 L81.3 167.42 L81.6 167.28 L81.9 168.24 L82.2 168.2 L82.5 170.03 L82.8 168.25 L83.1 168.57 L83.4 166.98 L83.7 171.46 L84 169.69 L84.3 171.69 L84.6 170.14 L84.9 171.23 L85.2 168.51 L85.5 170.02 L85.8 173.12 L86.1 166.98 L86.4 170.72 L86.7 171.53 L87 169.53 L87.3 170.06 L87.6 170.85 L87.9 167.79 L88.2 169.48 L88.5 167.43 L88.8 167.72 L89.1 167.8 L89.4 168.54 L89.7 168.99 L90 169.46 L90.3 166.45 L90.6 171.86 L90.9 170.53 L91.2 169.82 L91.5 168.06 L91.8 168.47 L92.1 169.47 L92.4 169.22 L92.7 165.84 L93 169.68 L93.3 173.11 L93.6 165.43 L93.9 169.92 L94.2 168.86 L94.5 168.02 L94.8 170.33 L95.1 166.15 L95.4 168.23 L95.7 170.23 L96 167.48 L96.3 167.04 L96.6 167.8 L96.9 166.81 L97.2 169.91 L97.5 165.87 L97.8 168.63 L98.1 165.12 L98.4 168.1 L98.7 166.76 L99 162.68 L99.3 166.72 L99.6 164.92 L99.9 165.82 L100.2 168.91 L100.5 164.54 L100.8 164.53 L101.1 168.45 L101.4 166.21 L101.7 168.39 L102 166.33 L102.3 164.28 L102.6 165.48 L102.9 167.44 L103.2 166.86 L103.5 165.23 L103.8 165.18 L104.1 164.8 L104.4 163.93 L104.7 167.83 L105 164.62 L105.3 162.66 L105.6 163.58 L105.9 165.38 L106.2 165.11 L106.5 163.72 L106.8 162.73 L107.1 163.71 L107.4 160.84 L107.7 161.3 L108 164.54 L108.3 162.34 L108.6 163.57 L108.9 164.79 L109.2 163.73 L109.5 162.57 L109.8 165.82 L110.1 163.32 L110.4 161.53 L110.7 163.12 L111 162.44 L111.3 160.25 L111.6 161.57 L111.9 161.02 L112.2 157.95 L112.5 160.65 L112.8 160.29 L113.1 159.86 L113.4 157.74 L113.7 159.63 L114 159.96 L114.3 160 L114.6 157.83 L114.9 160.49 L115.2 157.34 L115.5 158.76 L115.8 161.04 L116.1 157.66 L116.4 157.79 L116.7 160.17 L117 157.67 L117.3 157.66 L117.6 158.34 L117.9 159.53 L118.2 154.17 L118.5 156.24 L118.8 155.8 L119.1 155.53 L119.4 155.75 L119.7 155.62 L120 157.29 L120.3 155.23 L120.6 156.7 L120.9 156.99 L121.2 155.03 L121.5 156.27 L121.8 158.54 L122.1 156.3 L122.4 154.64 L122.7 155.43 L123 153.95 L123.3 155.75 L123.6 156.6 L123.9 153.83 L124.2 154.73 L124.5 156.78 L124.8 154.16 L125.1 155.22 L125.4 153.27 L125.7 153.59 L126 154.09 L126.3 158.33 L126.6 154.32 L126.9 154.16 L127.2 154.15 L127.5 154.83 L127.8 156.17 L128.1 155.5 L128.4 158.49 L128.7 155.68 L129 157.69 L129.3 155.94 L129.6 156.54 L129.9 153.43 L130.2 155.57 L130.5 155.75 L130.8 155.57 L131.1 152.68 L131.4 157.5 L131.7 155.61 L132 155.62 L132.3 155.99 L132.6 156.12 L132.9 157.21 L133.2 154.69 L133.5 155.33 L133.8 157.35 L134.1 157.23 L134.4 156.53 L134.7 156.34 L135 156.06 L135.3 157.39 L135.6 159.46 L135.9 156.09 L136.2 160.25 L136.5 159.32 L136.8 157.42 L137.1 159.48 L137.4 156.1 L137.7 155.82 L138 156.64 L138.3 158.14 L138.6 158.4 L138.9 158.23 L139.2 159.31 L139.5 155.94 L139.8 160.17 L140.1 157.3 L140.4 158.6 L140.7 159.11 L141 158.07 L141.3 157.86 L141.6 158.55 L141.9 160.22 L142.2 161.28 L142.5 161.36 L142.8 159.05 L143.1 159.49 L143.4 159.4 L143.7 161.66 L144 157.9 L144.3 163.13 L144.6 160.56 L144.9 160.21 L145.2 162.07 L145.5 163.27 L145.8 162.3 L146.1 163.52 L146.4 162.2 L146.7 164.02 L147 164.15 L147.3 162.15 L147.6 164.66 L147.9 162.77 L148.2 162.75 L148.5 161.27 L148.8 162.36 L149.1 164.13 L149.4 160.96 L149.7 164.13 L150 163.76 L150.3 163.74 L150.6 159.96 L150.9 163.34 L151.2 164.61 L151.5 162.5 L151.8 163.92 L152.1 160.16 L152.4 165.01 L152.7 163.01 L153 165.5 L153.3 161.34 L153.6 165.39 L153.9 164.02 L154.2 165.73 L154.5 163.1 L154.8 163.66 L155.1 168.21 L155.4 163.48 L155.7 163.75 L156 164.49 L156.3 163.4 L156.6 166.93 L156.9 167.83 L157.2 164.1 L157.5 162.57 L157.8 167.17 L158.1 167.14 L158.4 166.75 L158.7 167.34 L159 164.24 L159.3 165.4 L159.6 163.56 L159.9 163.57 L160.2 167.38 L160.5 164.86 L160.8 169.53 L161.1 166.14 L161.4 165.08 L161.7 167.39 L162 169.01 L162.3 167.02 L162.6 164.41 L162.9 166.95 L163.2 168.57 L163.5 165.71 L163.8 165.32 L164.1 168.17 L164.4 166.86 L164.7 164.97 L165 166.15 L165.3 165.61 L165.6 167.31 L165.9 167.07 L166.2 168.74 L166.5 168.1 L166.8 164.6 L167.1 167.73 L167.4 168.54 L167.7 167.9 L168 168.85 L168.3 166.43 L168.6 165.85 L168.9 168.84 L169.2 165.77 L169.5 164.11 L169.8 169.13 L170.1 166.45 L170.4 167.15 L170.7 165.5 L171 165.66 L171.3 165.97 L171.6 167.27 L171.9 168.46 L172.2 164.34 L172.5 169.15 L172.8 166.18 L173.1 166.41 L173.4 169.18 L173.7 168.06 L174 165.82 L174.3 171.15 L174.6 166.97 L174.9 168.75 L175.2 168.72 L175.5 170.66 L175.8 167.78 L176.1 170.12 L176.4 167.42 L176.7 170.38 L177 167.48 L177.3 168.14 L177.6 171.71 L177.9 169.28 L178.2 169 L178.5 172.37 L178.8 169.47 L179.1 167.67 L179.4 170.14 L179.7 167.18 L180 170.84 L180.3 171 L180.6 168.26 L180.9 168.22 L181.2 169.52 L181.5 169.31 L181.8 167.8 L182.1 170.26 L182.4 166.22 L182.7 168.77 L183 168.86 L183.3 169.1 L183.6 170.04 L183.9 167.67 L184.2 170.54 L184.5 169.37 L184.8 168.66 L185.1 167.57 L185.4 167.88 L185.7 170.31 L186 168.26 L186.3 169.88 L186.6 171.45 L186.9 171.41 L187.2 172.24 L187.5 169.34 L187.8 168.1 L188.1 171.38 L188.4 170.26 L188.7 171.52 L189 169.77 L189.3 171.6 L189.6 171.03 L189.9 170.81 L190.2 170.45 L190.5 170.26 L190.8 169.97 L191.1 169.93 L191.4 171.1 L191.7 168.72 L192 172.2 L192.3 169.29 L192.6 170.97 L192.9 169.26 L193.2 168.99 L193.5 172.52 L193.8 168.84 L194.1 167.3 L194.4 168.16 L194.7 168.76 L195 172.61 L195.3 169.55 L195.6 170.67 L195.9 167.64 L196.2 169.75 L196.5 170.25 L196.8 172.02 L197.1 168.13 L197.4 170.19 L197.7 169.74 L198 167.71 L198.3 169.31 L198.6 168.97 L198.9 165.8 L199.2 170.42 L199.5 170.38 L199.8 168.91 L200.1 167.56 L200.4 172.02 L200.7 170.19 L201 171.42 L201.3 172.09 L201.6 169.14 L201.9 171.28 L202.2 169.69 L202.5 170.02 L202.8 170.03 L203.1 170.21 L203.4 172 L203.7 170.5 L204 170.11 L204.3 169.97 L204.6 170.98 L204.9 169.1 L205.2 169.76 L205.5 170.51 L205.8 169.75 L206.1 170.5 L206.4 169.77 L206.7 173.91 L207 172.9 L207.3 171.57 L207.6 170.83 L207.9 174.39 L208.2 171.52 L208.5 170.93 L208.8 171.58 L209.1 171.63 L209.4 173.41 L209.7 171.22 L210 174.58" fill="none" stroke="#9a9a9a" stroke-width="0.5" stroke-linejoin="round" stroke-linecap="round" />
<path d="M18 168.26 L18.3 169.95 L18.6 168.17 L18.9 171.18 L19.2 168.92 L19.5 169.22 L19.8 170.28 L20.1 170.65 L20.4 168.15 L20.7 168.98 L21 167.88 L21.3 169.52 L21.6 169.28 L21.9 169.03 L22.2 168.69 L22.5 169.02 L22.8 168.65 L23.1 170.02 L23.4 171.08 L23.7 167.43 L24 169.36 L24.3 169.05 L24.6 170.03 L24.9 168.51 L25.2 169.37 L25.5 168.43 L25.8 170.28 L26.1 169.66 L26.4 169.39 L26.7 169.96 L27 169.31 L27.3 167.92 L27.6 170.21 L27.9 169.89 L28.2 169.43 L28.5 170.64 L28.8 170.89 L29.1 168.44 L29.4 168.77 L29.7 171.24 L30 171.11 L30.3 168.82 L30.6 168.34 L30.9 168.92 L31.2 169.07 L31.5 167.91 L31.8 169.63 L32.1 168.23 L32.4 168.3 L32.7 170.56 L33 168.86 L33.3 169.5 L33.6 170.24 L33.9 170.44 L34.2 169.21 L34.5 169.61 L34.8 168.68 L35.1 171.41 L35.4 170.24 L35.7 168.37 L36 169.54 L36.3 170.29 L36.6 170.03 L36.9 171.46 L37.2 170.97 L37.5 168.93 L37.8 169.4 L38.1 168.13 L38.4 169.75 L38.7 169.64 L39 172.34 L39.3 169.57 L39.6 167.23 L39.9 168.74 L40.2 169.56 L40.5 168.1 L40.8 168.51 L41.1 169.03 L41.4 169.78 L41.7 169.23 L42 168.46 L42.3 170.23 L42.6 168.81 L42.9 168.84 L43.2 167.9 L43.5 168.52 L43.8 170.04 L44.1 167.62 L44.4 169.25 L44.7 170.07 L45 168.9 L45.3 169.54 L45.6 168.09 L45.9 170.65 L46.2 170.42 L46.5 169.48 L46.8 167.35 L47.1 168.09 L47.4 170.23 L47.7 170.99 L48 169.47 L48.3 170.47 L48.6 168.48 L48.9 168.91 L49.2 169.1 L49.5 169.53 L49.8 167.44 L50.1 170.05 L50.4 170.44 L50.7 167.8 L51 167.56 L51.3 169.36 L51.6 168.27 L51.9 166.43 L52.2 169.8 L52.5 169.09 L52.8 168.4 L53.1 171.14 L53.4 169.02 L53.7 168.06 L54 168.95 L54.3 167.73 L54.6 168.01 L54.9 169.21 L55.2 168.2 L55.5 168.3 L55.8 170.54 L56.1 169.67 L56.4 169.6 L56.7 169.29 L57 169.24 L57.3 170.26 L57.6 168.68 L57.9 170.66 L58.2 167.67 L58.5 168.39 L58.8 167.19 L59.1 168.28 L59.4 169.18 L59.7 170.16 L60 167.9 L60.3 168.6 L60.6 168.2 L60.9 167.78 L61.2 167.28 L61.5 168.59 L61.8 166.67 L62.1 168.61 L62.4 168.49 L62.7 167.74 L63 167.34 L63.3 166.9 L63.6 170.32 L63.9 166.87 L64.2 169.9 L64.5 168.84 L64.8 167.77 L65.1 166.88 L65.4 169.17 L65.7 169.85 L66 166.98 L66.3 167.61 L66.6 169 L66.9 168.2 L67.2 169.94 L67.5 167.17 L67.8 168.33 L68.1 166.4 L68.4 169.94 L68.7 166.93 L69 165.35 L69.3 167.57 L69.6 167.57 L69.9 169.77 L70.2 167.4 L70.5 167.78 L70.8 168.46 L71.1 169.56 L71.4 167.85 L71.7 169.07 L72 168.56 L72.3 167.75 L72.6 168.2 L72.9 168.21 L73.2 167.26 L73.5 169.57 L73.8 166.86 L74.1 169.63 L74.4 169.44 L74.7 168.37 L75 167.7 L75.3 168.3 L75.6 169.07 L75.9 169.38 L76.2 168.92 L76.5 169.68 L76.8 168.05 L77.1 168.91 L77.4 167.01 L77.7 169.5 L78 168.87 L78.3 168.28 L78.6 169.97 L78.9 169.48 L79.2 165.77 L79.5 168.81 L79.8 167.24 L80.1 169.93 L80.4 171.45 L80.7 168.27 L81 168.91 L81.3 168.57 L81.6 169.22 L81.9 169.54 L82.2 170.23 L82.5 167.82 L82.8 170.55 L83.1 167.89 L83.4 169.18 L83.7 170.12 L84 169.65 L84.3 167.9 L84.6 168.15 L84.9 168.41 L85.2 168.85 L85.5 170.12 L85.8 167.52 L86.1 169.39 L86.4 169.53 L86.7 169.47 L87 169.37 L87.3 170.47 L87.6 169.37 L87.9 169.75 L88.2 169.43 L88.5 170.72 L88.8 166.78 L89.1 170.15 L89.4 168.49 L89.7 168.45 L90 167.7 L90.3 166.73 L90.6 168.29 L90.9 167.95 L91.2 169.18 L91.5 167.07 L91.8 170.14 L92.1 168.88 L92.4 168.3 L92.7 167.78 L93 167.65 L93.3 167.24 L93.6 167.81 L93.9 168.34 L94.2 168.08 L94.5 166.7 L94.8 167.84 L95.1 167.1 L95.4 168.14 L95.7 169.87 L96 168.46 L96.3 167.38 L96.6 165.89 L96.9 166.02 L97.2 165.63 L97.5 168.1 L97.8 166.41 L98.1 167.19 L98.4 166.37 L98.7 167.02 L99 168.32 L99.3 166 L99.6 166.27 L99.9 165.68 L100.2 167.36 L100.5 165.25 L100.8 165.03 L101.1 164.66 L101.4 164.53 L101.7 166.42 L102 168.54 L102.3 164.64 L102.6 166.59 L102.9 165.73 L103.2 164.18 L103.5 164.93 L103.8 164.86 L104.1 164.25 L104.4 166.91 L104.7 162.71 L105 165.01 L105.3 164.83 L105.6 163.73 L105.9 164.37 L106.2 165.01 L106.5 164.11 L106.8 164.25 L107.1 164.41 L107.4 161.37 L107.7 164.96 L108 165.67 L108.3 164.15 L108.6 164.05 L108.9 161.33 L109.2 162.56 L109.5 161.68 L109.8 161.77 L110.1 163.28 L110.4 161.25 L110.7 161.81 L111 159.76 L111.3 161.45 L111.6 161.55 L111.9 160.53 L112.2 160.34 L112.5 162.93 L112.8 159.46 L113.1 159.45 L113.4 159.53 L113.7 161.48 L114 162.25 L114.3 160.19 L114.6 158.89 L114.9 159.02 L115.2 160.43 L115.5 158.15 L115.8 160.49 L116.1 160.28 L116.4 158.68 L116.7 159.13 L117 159.08 L117.3 159.79 L117.6 156.87 L117.9 159.1 L118.2 157.31 L118.5 156.75 L118.8 157.53 L119.1 157.04 L119.4 156.07 L119.7 155.27 L120 155.81 L120.3 158.2 L120.6 158.59 L120.9 157.04 L121.2 157.46 L121.5 155.51 L121.8 155.84 L122.1 156.08 L122.4 154.51 L122.7 154.48 L123 155.52 L123.3 154.98 L123.6 154.09 L123.9 155.55 L124.2 154.78 L124.5 156.09 L124.8 154.95 L125.1 154.6 L125.4 155.04 L125.7 154.72 L126 154.2 L126.3 154.5 L126.6 155.75 L126.9 155.68 L127.2 156.4 L127.5 153.29 L127.8 154.73 L128.1 154.77 L128.4 155.46 L128.7 154.87 L129 154.88 L129.3 156.34 L129.6 155.78 L129.9 154.44 L130.2 157.19 L130.5 156.92 L130.8 155.34 L131.1 156.92 L131.4 155.35 L131.7 157.41 L132 156.07 L132.3 155.53 L132.6 156.08 L132.9 155.76 L133.2 156.88 L133.5 156.97 L133.8 156.93 L134.1 156.41 L134.4 153.23 L134.7 157.34 L135 155.35 L135.3 157.74 L135.6 158.81 L135.9 158.03 L136.2 157.45 L136.5 157.81 L136.8 157.99 L137.1 157.68 L137.4 157.77 L137.7 157.54 L138 159.91 L138.3 158.76 L138.6 159.92 L138.9 158.77 L139.2 159.24 L139.5 159.1 L139.8 159.89 L140.1 160.4 L140.4 159.89 L140.7 159.04 L141 159.05 L141.3 161.76 L141.6 159.82 L141.9 159.93 L142.2 161.92 L142.5 161.64 L142.8 161.17 L143.1 160.3 L143.4 163.34 L143.7 161.38 L144 161.66 L144.3 161.02 L144.6 159.81 L144.9 160.01 L145.2 161.98 L145.5 162.07 L145.8 161.51 L146.1 160.63 L146.4 160.46 L146.7 161.75 L147 160.65 L147.3 163.26 L147.6 163.63 L147.9 165.52 L148.2 163.55 L148.5 162.08 L148.8 161.89 L149.1 159.25 L149.4 162.38 L149.7 162.93 L150 164.24 L150.3 163.96 L150.6 164.03 L150.9 163.73 L151.2 164.3 L151.5 165.23 L151.8 162.65 L152.1 163.39 L152.4 162.49 L152.7 165.77 L153 165.51 L153.3 165.02 L153.6 163.03 L153.9 164.57 L154.2 164.22 L154.5 164.63 L154.8 164.43 L155.1 165.25 L155.4 164.36 L155.7 165.76 L156 165.18 L156.3 164.68 L156.6 164.95 L156.9 164.67 L157.2 166.07 L157.5 164.98 L157.8 165.65 L158.1 164.99 L158.4 163.89 L158.7 166.5 L159 164.47 L159.3 166.38 L159.6 166.17 L159.9 164.03 L160.2 164.84 L160.5 165.36 L160.8 165.09 L161.1 164.77 L161.4 166.87 L161.7 165.89 L162 166.61 L162.3 165.8 L162.6 166.64 L162.9 165.57 L163.2 166.4 L163.5 167.1 L163.8 166.58 L164.1 166.1 L164.4 165.48 L164.7 166.87 L165 167.11 L165.3 166.52 L165.6 166.03 L165.9 167.47 L166.2 169.58 L166.5 166.67 L166.8 167.4 L167.1 167.49 L167.4 164.42 L167.7 167.32 L168 166.49 L168.3 168.76 L168.6 167.07 L168.9 166.56 L169.2 167.2 L169.5 167.66 L169.8 166.94 L170.1 167.53 L170.4 166.19 L170.7 167.44 L171 168.55 L171.3 169.87 L171.6 168.58 L171.9 168.17 L172.2 169.19 L172.5 169.06 L172.8 169.79 L173.1 169.23 L173.4 168 L173.7 168.45 L174 168.41 L174.3 168.59 L174.6 168.53 L174.9 167.53 L175.2 166.17 L175.5 167.74 L175.8 166.34 L176.1 168.61 L176.4 168.59 L176.7 166.85 L177 169.4 L177.3 169.63 L177.6 168.85 L177.9 170.56 L178.2 170.81 L178.5 167.58 L178.8 170.01 L179.1 169.41 L179.4 169.43 L179.7 170.02 L180 168.31 L180.3 168.49 L180.6 168.28 L180.9 168.4 L181.2 169.14 L181.5 167.74 L181.8 168.22 L182.1 169.98 L182.4 169.33 L182.7 169.86 L183 167.48 L183.3 168.69 L183.6 168.97 L183.9 169.63 L184.2 169 L184.5 170.64 L184.8 169.62 L185.1 169.72 L185.4 169.74 L185.7 170.5 L186 169.26 L186.3 170.97 L186.6 170.28 L186.9 169.96 L187.2 169.84 L187.5 170.35 L187.8 170.88 L188.1 170.79 L188.4 170.18 L188.7 170.7 L189 169.88 L189.3 171.06 L189.6 169.68 L189.9 167.48 L190.2 171.08 L190.5 169.75 L190.8 168.36 L191.1 169.37 L191.4 168.61 L191.7 171.75 L192 170.02 L192.3 167.79 L192.6 170.01 L192.9 168.98 L193.2 171.41 L193.5 168.23 L193.8 166.93 L194.1 169.37 L194.4 168.91 L194.7 168.81 L195 166.96 L195.3 169.68 L195.6 170.99 L195.9 167.18 L196.2 170.45 L196.5 168.6 L196.8 171.7 L197.1 169.68 L197.4 169.04 L197.7 170.44 L198 169.86 L198.3 168.71 L198.6 170.14 L198.9 168.89 L199.2 167.58 L199.5 171.69 L199.8 169.22 L200.1 169 L200.4 170.07 L200.7 168.11 L201 168.39 L201.3 169.36 L201.6 169.4 L201.9 170.08 L202.2 171.26 L202.5 169.61 L202.8 170.69 L203.1 170.85 L203.4 169.11 L203.7 170.55 L204 169.35 L204.3 171.53 L204.6 170.93 L204.9 170.51 L205.2 169.12 L205.5 170.71 L205.8 169.82 L206.1 171.43 L206.4 170.6 L206.7 169.91 L207 171.81 L207.3 171.64 L207.6 170.29 L207.9 172.2 L208.2 170.7 L208.5 170.73 L208.8 171.24 L209.1 170.36 L209.4 170.73 L209.7 171.08 L210 172.93" fill="none" stroke="#8a8a8a" stroke-width="0.5" stroke-linejoin="round" stroke-linecap="round" />
<path d="M18 169.2 L18.35 169.22 L18.7 169.24 L19.05 169.26 L19.4 169.28 L19.75 169.3 L20.1 169.32 L20.45 169.33 L20.8 169.35 L21.15 169.37 L21.5 169.38 L21.85 169.4 L22.2 169.42 L22.55 169.43 L22.9 169.45 L23.25 169.46 L23.6 169.47 L23.95 169.49 L24.3 169.5 L24.65 169.51 L25 169.52 L25.35 169.53 L25.7 169.54 L26.05 169.55 L26.4 169.56 L26.75 169.57 L27.1 169.57 L27.45 169.58 L27.8 169.58 L28.15 169.59 L28.5 169.59 L28.85 169.6 L29.2 169.6 L29.55 169.6 L29.9 169.6 L30.25 169.6 L30.6 169.6 L30.95 169.6 L31.3 169.6 L31.65 169.59 L32 169.59 L32.35 169.59 L32.7 169.59 L33.05 169.58 L33.4 169.58 L33.75 169.57 L34.1 169.57 L34.45 169.56 L34.8 169.56 L35.15 169.55 L35.5 169.55 L35.85 169.54 L36.2 169.53 L36.55 169.53 L36.9 169.52 L37.25 169.51 L37.6 169.5 L37.95 169.5 L38.3 169.49 L38.65 169.48 L39 169.47 L39.35 169.46 L39.7 169.46 L40.05 169.45 L40.4 169.44 L40.75 169.43 L41.1 169.42 L41.45 169.41 L41.8 169.4 L42.15 169.4 L42.5 169.39 L42.85 169.38 L43.2 169.37 L43.55 169.35 L43.9 169.34 L44.25 169.33 L44.6 169.32 L44.95 169.3 L45.3 169.29 L45.65 169.27 L46 169.26 L46.35 169.24 L46.7 169.22 L47.05 169.21 L47.4 169.19 L47.75 169.17 L48.1 169.15 L48.45 169.14 L48.8 169.12 L49.15 169.1 L49.5 169.08 L49.85 169.06 L50.2 169.04 L50.55 169.02 L50.9 169 L51.25 168.99 L51.6 168.97 L51.95 168.95 L52.3 168.93 L52.65 168.91 L53 168.9 L53.35 168.88 L53.7 168.86 L54.05 168.84 L54.4 168.83 L54.75 168.81 L55.1 168.8 L55.45 168.78 L55.8 168.77 L56.15 168.75 L56.5 168.74 L56.85 168.73 L57.2 168.71 L57.55 168.7 L57.9 168.69 L58.25 168.68 L58.6 168.66 L58.95 168.65 L59.3 168.63 L59.65 168.62 L60 168.61 L60.35 168.59 L60.7 168.57 L61.05 168.55 L61.4 168.54 L61.75 168.52 L62.1 168.49 L62.45 168.47 L62.8 168.43 L63.15 168.39 L63.5 168.35 L63.85 168.3 L64.2 168.25 L64.55 168.19 L64.9 168.14 L65.25 168.08 L65.6 168.03 L65.95 167.98 L66.3 167.93 L66.65 167.88 L67 167.83 L67.35 167.79 L67.7 167.76 L68.05 167.73 L68.4 167.71 L68.75 167.7 L69.1 167.7 L69.45 167.71 L69.8 167.73 L70.15 167.76 L70.5 167.79 L70.85 167.84 L71.2 167.89 L71.55 167.94 L71.9 168 L72.25 168.06 L72.6 168.12 L72.95 168.18 L73.3 168.25 L73.65 168.31 L74 168.37 L74.35 168.42 L74.7 168.47 L75.05 168.52 L75.4 168.55 L75.75 168.58 L76.1 168.61 L76.45 168.62 L76.8 168.64 L77.15 168.66 L77.5 168.68 L77.85 168.7 L78.2 168.71 L78.55 168.73 L78.9 168.75 L79.25 168.76 L79.6 168.78 L79.95 168.79 L80.3 168.8 L80.65 168.82 L81 168.83 L81.35 168.84 L81.7 168.85 L82.05 168.86 L82.4 168.87 L82.75 168.88 L83.1 168.88 L83.45 168.89 L83.8 168.89 L84.15 168.9 L84.5 168.9 L84.85 168.9 L85.2 168.9 L85.55 168.9 L85.9 168.89 L86.25 168.89 L86.6 168.88 L86.95 168.87 L87.3 168.86 L87.65 168.85 L88 168.84 L88.35 168.82 L88.7 168.8 L89.05 168.79 L89.4 168.77 L89.75 168.75 L90.1 168.73 L90.45 168.71 L90.8 168.68 L91.15 168.66 L91.5 168.64 L91.85 168.61 L92.2 168.58 L92.55 168.55 L92.9 168.5 L93.25 168.45 L93.6 168.39 L93.95 168.32 L94.3 168.25 L94.65 168.16 L95 168.08 L95.35 167.98 L95.7 167.89 L96.05 167.78 L96.4 167.68 L96.75 167.57 L97.1 167.46 L97.45 167.34 L97.8 167.23 L98.15 167.11 L98.5 166.99 L98.85 166.88 L99.2 166.76 L99.55 166.65 L99.9 166.53 L100.25 166.42 L100.6 166.3 L100.95 166.18 L101.3 166.06 L101.65 165.94 L102 165.81 L102.35 165.68 L102.7 165.54 L103.05 165.41 L103.4 165.27 L103.75 165.13 L104.1 164.98 L104.45 164.84 L104.8 164.69 L105.15 164.54 L105.5 164.39 L105.85 164.23 L106.2 164.08 L106.55 163.92 L106.9 163.76 L107.25 163.6 L107.6 163.44 L107.95 163.28 L108.3 163.11 L108.65 162.95 L109 162.78 L109.35 162.61 L109.7 162.44 L110.05 162.28 L110.4 162.1 L110.75 161.92 L111.1 161.73 L111.45 161.54 L111.8 161.34 L112.15 161.14 L112.5 160.93 L112.85 160.72 L113.2 160.51 L113.55 160.29 L113.9 160.08 L114.25 159.87 L114.6 159.66 L114.95 159.45 L115.3 159.24 L115.65 159.03 L116 158.83 L116.35 158.64 L116.7 158.45 L117.05 158.26 L117.4 158.09 L117.75 157.92 L118.1 157.75 L118.45 157.59 L118.8 157.42 L119.15 157.24 L119.5 157.07 L119.85 156.89 L120.2 156.71 L120.55 156.53 L120.9 156.35 L121.25 156.18 L121.6 156.01 L121.95 155.85 L122.3 155.7 L122.65 155.55 L123 155.42 L123.35 155.3 L123.7 155.19 L124.05 155.1 L124.4 155.02 L124.75 154.96 L125.1 154.92 L125.45 154.9 L125.8 154.9 L126.15 154.92 L126.5 154.94 L126.85 154.98 L127.2 155.03 L127.55 155.1 L127.9 155.16 L128.25 155.24 L128.6 155.33 L128.95 155.42 L129.3 155.51 L129.65 155.61 L130 155.71 L130.35 155.81 L130.7 155.92 L131.05 156.02 L131.4 156.13 L131.75 156.23 L132.1 156.33 L132.45 156.43 L132.8 156.54 L133.15 156.66 L133.5 156.78 L133.85 156.91 L134.2 157.04 L134.55 157.18 L134.9 157.32 L135.25 157.46 L135.6 157.61 L135.95 157.76 L136.3 157.91 L136.65 158.06 L137 158.22 L137.35 158.37 L137.7 158.52 L138.05 158.67 L138.4 158.82 L138.75 158.97 L139.1 159.12 L139.45 159.26 L139.8 159.4 L140.15 159.54 L140.5 159.68 L140.85 159.82 L141.2 159.96 L141.55 160.1 L141.9 160.24 L142.25 160.38 L142.6 160.52 L142.95 160.66 L143.3 160.8 L143.65 160.94 L144 161.08 L144.35 161.22 L144.7 161.35 L145.05 161.49 L145.4 161.62 L145.75 161.75 L146.1 161.88 L146.45 162.01 L146.8 162.13 L147.15 162.25 L147.5 162.37 L147.85 162.49 L148.2 162.61 L148.55 162.73 L148.9 162.85 L149.25 162.97 L149.6 163.08 L149.95 163.2 L150.3 163.31 L150.65 163.42 L151 163.53 L151.35 163.64 L151.7 163.75 L152.05 163.86 L152.4 163.96 L152.75 164.06 L153.1 164.17 L153.45 164.26 L153.8 164.36 L154.15 164.46 L154.5 164.55 L154.85 164.64 L155.2 164.73 L155.55 164.81 L155.9 164.9 L156.25 164.98 L156.6 165.07 L156.95 165.15 L157.3 165.23 L157.65 165.31 L158 165.38 L158.35 165.46 L158.7 165.53 L159.05 165.61 L159.4 165.68 L159.75 165.75 L160.1 165.83 L160.45 165.9 L160.8 165.97 L161.15 166.03 L161.5 166.1 L161.85 166.17 L162.2 166.24 L162.55 166.3 L162.9 166.37 L163.25 166.43 L163.6 166.5 L163.95 166.56 L164.3 166.62 L164.65 166.68 L165 166.74 L165.35 166.8 L165.7 166.86 L166.05 166.92 L166.4 166.98 L166.75 167.04 L167.1 167.09 L167.45 167.15 L167.8 167.21 L168.15 167.26 L168.5 167.32 L168.85 167.38 L169.2 167.44 L169.55 167.49 L169.9 167.55 L170.25 167.61 L170.6 167.66 L170.95 167.72 L171.3 167.78 L171.65 167.84 L172 167.89 L172.35 167.95 L172.7 168.01 L173.05 168.07 L173.4 168.12 L173.75 168.18 L174.1 168.24 L174.45 168.29 L174.8 168.35 L175.15 168.4 L175.5 168.45 L175.85 168.5 L176.2 168.56 L176.55 168.61 L176.9 168.65 L177.25 168.7 L177.6 168.75 L177.95 168.79 L178.3 168.84 L178.65 168.88 L179 168.93 L179.35 168.98 L179.7 169.03 L180.05 169.08 L180.4 169.13 L180.75 169.18 L181.1 169.23 L181.45 169.28 L181.8 169.33 L182.15 169.38 L182.5 169.42 L182.85 169.47 L183.2 169.51 L183.55 169.55 L183.9 169.59 L184.25 169.63 L184.6 169.66 L184.95 169.69 L185.3 169.72 L185.65 169.74 L186 169.76 L186.35 169.78 L186.7 169.79 L187.05 169.8 L187.4 169.8 L187.75 169.8 L188.1 169.79 L188.45 169.78 L188.8 169.76 L189.15 169.74 L189.5 169.72 L189.85 169.69 L190.2 169.66 L190.55 169.63 L190.9 169.6 L191.25 169.56 L191.6 169.53 L191.95 169.5 L192.3 169.46 L192.65 169.43 L193 169.39 L193.35 169.36 L193.7 169.33 L194.05 169.3 L194.4 169.28 L194.75 169.25 L195.1 169.23 L195.45 169.22 L195.8 169.21 L196.15 169.2 L196.5 169.2 L196.85 169.21 L197.2 169.23 L197.55 169.25 L197.9 169.29 L198.25 169.33 L198.6 169.38 L198.95 169.44 L199.3 169.5 L199.65 169.56 L200 169.63 L200.35 169.7 L200.7 169.77 L201.05 169.84 L201.4 169.91 L201.75 169.98 L202.1 170.05 L202.45 170.11 L202.8 170.17 L203.15 170.22 L203.5 170.28 L203.85 170.33 L204.2 170.39 L204.55 170.44 L204.9 170.49 L205.25 170.55 L205.6 170.6 L205.95 170.66 L206.3 170.71 L206.65 170.77 L207 170.82 L207.35 170.88 L207.7 170.93 L208.05 170.99 L208.4 171.04 L208.75 171.1 L209.1 171.16 L209.45 171.21 L209.8 171.27" fill="none" stroke="#404040" stroke-width="1.8" stroke-linejoin="round" stroke-linecap="round" />
<rect x="18.5" y="15.5" width="192" height="180" fill="none" stroke="#666" stroke-width="1"/>
<line x1="31.5" y1="196" x2="31.5" y2="197.5" stroke="#666" stroke-width="0.8" />
<line x1="57.1" y1="196" x2="57.1" y2="198.5" stroke="#666" stroke-width="0.8" />
<line x1="82.7" y1="196" x2="82.7" y2="197.5" stroke="#666" stroke-width="0.8" />
<line x1="108.3" y1="196" x2="108.3" y2="198.5" stroke="#666" stroke-width="0.8" />
<line x1="133.9" y1="196" x2="133.9" y2="197.5" stroke="#666" stroke-width="0.8" />
<line x1="159.5" y1="196" x2="159.5" y2="198.5" stroke="#666" stroke-width="0.8" />
<line x1="185.1" y1="196" x2="185.1" y2="197.5" stroke="#666" stroke-width="0.8" />
<line x1="210.7" y1="196" x2="210.7" y2="198.5" stroke="#666" stroke-width="0.8" />
<text x="57.1" y="207.3" font-size="9.2" font-weight="bold" fill="#000" text-anchor="middle" ><tspan>200</tspan></text>
<text x="108.3" y="207.3" font-size="9.2" font-weight="bold" fill="#000" text-anchor="middle" ><tspan>400</tspan></text>
<text x="159.5" y="207.3" font-size="9.2" font-weight="bold" fill="#000" text-anchor="middle" ><tspan>600</tspan></text>
<text x="210.7" y="207.3" font-size="9.2" font-weight="bold" fill="#000" text-anchor="middle" ><tspan>800</tspan></text>
<text x="64.6" y="222.7" font-size="12.4" font-weight="bold" fill="#000" text-anchor="start" ><tspan>Temperature (°C)</tspan></text>
<text x="11.8" y="104" font-size="12.4" font-weight="bold" fill="#000" text-anchor="middle" transform="rotate(-90 11.8 104)"><tspan>M.S. signal (a.u.)</tspan></text>
<text x="24.5" y="29.2" font-size="9.3" font-weight="bold" fill="#000" text-anchor="start" ><tspan>m/z = 2 (H</tspan><tspan dy="2.79" font-size="6.51">2</tspan><tspan dy="-2.79">)</tspan></text>
<text x="58.5" y="60.3" font-size="9.8" font-weight="bold" fill="#000"><tspan>CO + </tspan><tspan fill="#c62848">-OH</tspan></text>
<path d="M105.3 57.4 H112.8" stroke="#666" stroke-width="0.9"/><path d="M111.6 55.6 L114.6 57.4 L111.6 59.2 Z" fill="#555"/>
<text x="117.5" y="60.3" font-size="9.8" font-weight="bold" fill="#000" text-anchor="start" ><tspan>CO</tspan><tspan dy="2.94" font-size="6.86">2</tspan><tspan dy="-2.94"> + H</tspan><tspan dy="2.94" font-size="6.86">2</tspan></text>
<text x="19" y="98.9" font-size="9.7" font-weight="bold" fill="#e06a10" text-anchor="start" ><tspan>166 °C</tspan></text>
<text x="20.6" y="124.2" font-size="9.6" font-weight="bold" fill="#e3701b" text-anchor="start" ><tspan>0.3Pt/(TiO</tspan><tspan dy="2.88" font-size="6.72">2</tspan><tspan dy="-2.88">-T-500)</tspan></text>
<text x="68.4" y="155.8" font-size="9.6" font-weight="bold" fill="#444" text-anchor="start" ><tspan>341 °C</tspan></text>
<text x="21.8" y="184" font-size="9.6" font-weight="bold" fill="#444" text-anchor="start" ><tspan>0.3Pt/(TiO</tspan><tspan dy="2.88" font-size="6.72">2</tspan><tspan dy="-2.88">-A)</tspan></text>
<defs><marker id="ah_o" viewBox="0 0 10 10" refX="8" refY="5" markerWidth="5" markerHeight="5" orient="auto"><path d="M0 1 L10 5 L0 9 z" fill="#e3701b"/></marker><marker id="ah_g" viewBox="0 0 10 10" refX="8" refY="5" markerWidth="5" markerHeight="5" orient="auto"><path d="M0 1 L10 5 L0 9 z" fill="#333"/></marker></defs>
<path d="M47.1 107.4 L59.5 85.5" stroke="#e3701b" stroke-width="0.9" stroke-dasharray="2 1.5" fill="none" marker-end="url(#ah_o)"/>
<path d="M92 161.6 Q104 158 114 148.8" stroke="#333" stroke-width="0.9" stroke-dasharray="2 1.5" fill="none" marker-end="url(#ah_g)"/>
<text x="218.8" y="16.4" font-size="20.8" font-weight="normal" fill="#000" text-anchor="start" ><tspan>b</tspan></text>
<rect x="262.8" y="15.4" width="13.2" height="180.3" fill="#e7f6f1" />
<rect x="358.5" y="15.4" width="23.1" height="180.3" fill="#fef0e6" />
<rect x="430" y="15.4" width="82.4" height="180.3" fill="#fef0e6" />
<rect x="512.4" y="15.4" width="116.6" height="180.3" fill="#f4fbfa" />
<line x1="358.5" y1="15.4" x2="358.5" y2="195.7" stroke="#999" stroke-width="0.7" stroke-dasharray="2.5 2"/>
<line x1="381.6" y1="15.4" x2="381.6" y2="195.7" stroke="#999" stroke-width="0.7" stroke-dasharray="2.5 2"/>
<line x1="430" y1="15.4" x2="430" y2="195.7" stroke="#999" stroke-width="0.7" stroke-dasharray="2.5 2"/>
<line x1="512.4" y1="15.4" x2="512.4" y2="195.7" stroke="#999" stroke-width="0.7" stroke-dasharray="2.5 2"/>
<path d="M244.5 174.5 L261.5 174.5 L289.3 51.5 L629 51.5" fill="none" stroke="#4a4a4a" stroke-width="1.15" stroke-dasharray="5 4"/>
<path d="M244.5 160.3 L245 160.3 L245.5 160.3 L246 160.3 L246.5 160.3 L247 160.3 L247.5 160.3 L248 160.29 L248.5 160.29 L249 160.29 L249.5 160.29 L250 160.29 L250.5 160.28 L251 160.28 L251.5 160.28 L252 160.27 L252.5 160.27 L253 160.26 L253.5 160.26 L254 160.25 L254.5 160.25 L255 160.24 L255.5 160.23 L256 160.23 L256.5 160.22 L257 160.21 L257.5 160.2 L258 160.19 L258.5 160.18 L259 160.17 L259.5 160.16 L260 160.15 L260.5 160.14 L261 160.13 L261.5 160.11 L262 160.1 L262.5 160.05 L263 159.93 L263.5 159.76 L264 159.54 L264.5 159.3 L265 159.03 L265.5 158.76 L266 158.5 L266.5 158.18 L267 157.76 L267.5 157.29 L268 156.81 L268.5 156.38 L269 156.04 L269.5 155.84 L270 155.81 L270.5 155.91 L271 156.09 L271.5 156.3 L272 156.52 L272.5 156.7 L273 156.8 L273.5 156.85 L274 156.9 L274.5 156.94 L275 156.97 L275.5 156.99 L276 157 L276.5 156.92 L277 156.71 L277.5 156.39 L278 156 L278.5 155.27 L279 154 L279.5 152.35 L280 150.46 L280.5 148.5 L281 146.32 L281.5 143.76 L282 140.88 L282.5 137.77 L283 134.51 L283.5 131.17 L284 127.74 L284.5 124.07 L285 120.18 L285.5 116.13 L286 111.93 L286.5 107.61 L287 102.69 L287.5 97.42 L288 92.48 L288.5 88.5 L289 85.38 L289.5 82.63 L290 80.31 L290.5 78.5 L291 77 L291.5 75.64 L292 74.58 L292.5 73.96 L293 73.73 L293.5 73.54 L294 73.38 L294.5 73.26 L295 73.17 L295.5 73.12 L296 73.1 L296.5 73.16 L297 73.31 L297.5 73.52 L298 73.77 L298.5 74.02 L299 74.25 L299.5 74.42 L300 74.5 L300.5 74.53 L301 74.55 L301.5 74.58 L302 74.6 L302.5 74.63 L303 74.65 L303.5 74.67 L304 74.68 L304.5 74.7 L305 74.72 L305.5 74.73 L306 74.75 L306.5 74.76 L307 74.77 L307.5 74.78 L308 74.79 L308.5 74.8 L309 74.81 L309.5 74.82 L310 74.83 L310.5 74.84 L311 74.85 L311.5 74.86 L312 74.86 L312.5 74.87 L313 74.88 L313.5 74.88 L314 74.89 L314.5 74.9 L315 74.91 L315.5 74.91 L316 74.92 L316.5 74.93 L317 74.94 L317.5 74.95 L318 74.96 L318.5 74.97 L319 74.98 L319.5 74.99 L320 75 L320.5 75.01 L321 75.02 L321.5 75.04 L322 75.05 L322.5 75.06 L323 75.07 L323.5 75.09 L324 75.1 L324.5 75.11 L325 75.12 L325.5 75.13 L326 75.15 L326.5 75.16 L327 75.17 L327.5 75.18 L328 75.19 L328.5 75.21 L329 75.22 L329.5 75.23 L330 75.24 L330.5 75.25 L331 75.27 L331.5 75.28 L332 75.29 L332.5 75.3 L333 75.31 L333.5 75.33 L334 75.34 L334.5 75.35 L335 75.36 L335.5 75.38 L336 75.39 L336.5 75.4 L337 75.42 L337.5 75.43 L338 75.44 L338.5 75.46 L339 75.47 L339.5 75.49 L340 75.5 L340.5 75.51 L341 75.53 L341.5 75.55 L342 75.57 L342.5 75.59 L343 75.61 L343.5 75.63 L344 75.65 L344.5 75.67 L345 75.69 L345.5 75.71 L346 75.74 L346.5 75.76 L347 75.78 L347.5 75.8 L348 75.82 L348.5 75.84 L349 75.86 L349.5 75.88 L350 75.9 L350.5 75.91 L351 75.93 L351.5 75.95 L352 75.96 L352.5 75.97 L353 75.98 L353.5 75.99 L354 75.99 L354.5 76 L355 76 L355.5 75.91 L356 75.44 L356.5 74.81 L357 74.24 L357.5 74 L358 74.6 L358.5 76.12 L359 80.94 L359.5 91.14 L360 100.5 L360.5 107.07 L361 113.06 L361.5 118.27 L362 122.5 L362.5 125.97 L363 129.05 L363.5 131.8 L364 134.26 L364.5 136.47 L365 138.5 L365.5 140.41 L366 142.24 L366.5 143.96 L367 145.57 L367.5 147.05 L368 148.37 L368.5 149.53 L369 150.5 L369.5 151.34 L370 152.14 L370.5 152.87 L371 153.56 L371.5 154.19 L372 154.76 L372.5 155.28 L373 155.74 L373.5 156.15 L374 156.5 L374.5 156.81 L375 157.11 L375.5 157.39 L376 157.66 L376.5 157.91 L377 158.14 L377.5 158.36 L378 158.56 L378.5 158.75 L379 158.92 L379.5 159.07 L380 159.21 L380.5 159.33 L381 159.44 L381.5 159.54 L382 159.64 L382.5 159.74 L383 159.83 L383.5 159.91 L384 159.99 L384.5 160.06 L385 160.13 L385.5 160.19 L386 160.25 L386.5 160.3 L387 160.34 L387.5 160.37 L388 160.4 L388.5 160.42 L389 160.44 L389.5 160.46 L390 160.48 L390.5 160.5 L391 160.52 L391.5 160.54 L392 160.56 L392.5 160.57 L393 160.59 L393.5 160.6 L394 160.62 L394.5 160.63 L395 160.64 L395.5 160.65 L396 160.66 L396.5 160.67 L397 160.68 L397.5 160.68 L398 160.69 L398.5 160.69 L399 160.7 L399.5 160.7 L400 160.7 L400.5 160.7 L401 160.7 L401.5 160.7 L402 160.7 L402.5 160.7 L403 160.7 L403.5 160.7 L404 160.7 L404.5 160.7 L405 160.7 L405.5 160.7 L406 160.7 L406.5 160.7 L407 160.7 L407.5 160.7 L408 160.7 L408.5 160.7 L409 160.7 L409.5 160.7 L410 160.7 L410.5 160.7 L411 160.7 L411.5 160.7 L412 160.7 L412.5 160.7 L413 160.7 L413.5 160.7 L414 160.7 L414.5 160.7 L415 160.7 L415.5 160.7 L416 160.7 L416.5 160.7 L417 160.7 L417.5 160.7 L418 160.7 L418.5 160.7 L419 160.7 L419.5 160.7 L420 160.7 L420.5 160.7 L421 160.7 L421.5 160.7 L422 160.7 L422.5 160.7 L423 160.7 L423.5 160.7 L424 160.7 L424.5 160.7 L425 160.7 L425.5 160.7 L426 160.7 L426.5 160.7 L427 160.7 L427.5 160.7 L428 160.7 L428.5 160.7 L429 160.7 L429.5 160.7 L430 160.7 L430.5 160.7 L431 160.7 L431.5 160.7 L432 160.7 L432.5 160.7 L433 160.7 L433.5 160.7 L434 160.7 L434.5 160.7 L435 160.7 L435.5 160.7 L436 160.7 L436.5 160.7 L437 160.7 L437.5 160.7 L438 160.7 L438.5 160.7 L439 160.7 L439.5 160.7 L440 160.7 L440.5 160.7 L441 160.7 L441.5 160.7 L442 160.7 L442.5 160.7 L443 160.7 L443.5 160.7 L444 160.7 L444.5 160.7 L445 160.7 L445.5 160.7 L446 160.7 L446.5 160.7 L447 160.7 L447.5 160.7 L448 160.69 L448.5 160.69 L449 160.69 L449.5 160.69 L450 160.69 L450.5 160.69 L451 160.69 L451.5 160.69 L452 160.69 L452.5 160.69 L453 160.69 L453.5 160.69 L454 160.69 L454.5 160.69 L455 160.69 L455.5 160.69 L456 160.69 L456.5 160.69 L457 160.69 L457.5 160.69 L458 160.69 L458.5 160.69 L459 160.69 L459.5 160.69 L460 160.69 L460.5 160.69 L461 160.68 L461.5 160.68 L462 160.68 L462.5 160.68 L463 160.68 L463.5 160.68 L464 160.68 L464.5 160.68 L465 160.68 L465.5 160.68 L466 160.68 L466.5 160.68 L467 160.68 L467.5 160.68 L468 160.68 L468.5 160.68 L469 160.68 L469.5 160.68 L470 160.67 L470.5 160.67 L471 160.67 L471.5 160.67 L472 160.67 L472.5 160.67 L473 160.67 L473.5 160.67 L474 160.67 L474.5 160.67 L475 160.67 L475.5 160.67 L476 160.67 L476.5 160.67 L477 160.67 L477.5 160.66 L478 160.66 L478.5 160.66 L479 160.66 L479.5 160.66 L480 160.66 L480.5 160.66 L481 160.66 L481.5 160.66 L482 160.66 L482.5 160.66 L483 160.66 L483.5 160.66 L484 160.65 L484.5 160.65 L485 160.65 L485.5 160.65 L486 160.65 L486.5 160.65 L487 160.65 L487.5 160.65 L488 160.65 L488.5 160.65 L489 160.65 L489.5 160.65 L490 160.64 L490.5 160.64 L491 160.64 L491.5 160.64 L492 160.64 L492.5 160.64 L493 160.64 L493.5 160.64 L494 160.64 L494.5 160.64 L495 160.64 L495.5 160.63 L496 160.63 L496.5 160.63 L497 160.63 L497.5 160.63 L498 160.63 L498.5 160.63 L499 160.63 L499.5 160.63 L500 160.63 L500.5 160.62 L501 160.62 L501.5 160.62 L502 160.62 L502.5 160.62 L503 160.62 L503.5 160.62 L504 160.62 L504.5 160.62 L505 160.62 L505.5 160.61 L506 160.61 L506.5 160.61 L507 160.61 L507.5 160.61 L508 160.61 L508.5 160.61 L509 160.61 L509.5 160.61 L510 160.6 L510.5 160.6 L511 160.6 L511.5 160.6 L512 160.6 L512.5 160.6 L513 160.6 L513.5 160.6 L514 160.6 L514.5 160.59 L515 160.59 L515.5 160.59 L516 160.59 L516.5 160.59 L517 160.59 L517.5 160.59 L518 160.59 L518.5 160.59 L519 160.58 L519.5 160.58 L520 160.58 L520.5 160.58 L521 160.58 L521.5 160.58 L522 160.58 L522.5 160.58 L523 160.57 L523.5 160.57 L524 160.57 L524.5 160.57 L525 160.57 L525.5 160.56 L526 160.56 L526.5 160.56 L527 160.56 L527.5 160.56 L528 160.55 L528.5 160.55 L529 160.55 L529.5 160.54 L530 160.54 L530.5 160.54 L531 160.53 L531.5 160.53 L532 160.53 L532.5 160.52 L533 160.52 L533.5 160.52 L534 160.51 L534.5 160.51 L535 160.5 L535.5 160.5 L536 160.49 L536.5 160.49 L537 160.48 L537.5 160.47 L538 160.47 L538.5 160.46 L539 160.46 L539.5 160.45 L540 160.44 L540.5 160.43 L541 160.43 L541.5 160.42 L542 160.41 L542.5 160.4 L543 160.36 L543.5 160.17 L544 159.84 L544.5 159.42 L545 158.94 L545.5 158.43 L546 157.93 L546.5 157.48 L547 157.11 L547.5 156.86 L548 156.67 L548.5 156.52 L549 156.38 L549.5 156.26 L550 156.15 L550.5 156.03 L551 155.9 L551.5 155.75 L552 155.58 L552.5 155.36 L553 155.04 L553.5 154.64 L554 154.19 L554.5 153.7 L555 153.21 L555.5 152.73 L556 152.29 L556.5 151.91 L557 151.63 L557.5 151.45 L558 151.4 L558.5 151.45 L559 151.55 L559.5 151.71 L560 151.91 L560.5 152.14 L561 152.4 L561.5 152.67 L562 152.96 L562.5 153.24 L563 153.51 L563.5 153.77 L564 154 L564.5 154.2 L565 154.38 L565.5 154.57 L566 154.76 L566.5 154.95 L567 155.14 L567.5 155.33 L568 155.52 L568.5 155.69 L569 155.86 L569.5 156.01 L570 156.14 L570.5 156.26 L571 156.36 L571.5 156.44 L572 156.49 L572.5 156.53 L573 156.56 L573.5 156.59 L574 156.62 L574.5 156.65 L575 156.68 L575.5 156.7 L576 156.73 L576.5 156.75 L577 156.78 L577.5 156.8 L578 156.82 L578.5 156.84 L579 156.86 L579.5 156.88 L580 156.9 L580.5 156.91 L581 156.93 L581.5 156.94 L582 156.96 L582.5 156.97 L583 156.98 L583.5 157 L584 157.01 L584.5 157.02 L585 157.03 L585.5 157.04 L586 157.05 L586.5 157.06 L587 157.06 L587.5 157.07 L588 157.08 L588.5 157.08 L589 157.09 L589.5 157.09 L590 157.1 L590.5 157.1 L591 157.11 L591.5 157.11 L592 157.12 L592.5 157.12 L593 157.13 L593.5 157.13 L594 157.14 L594.5 157.14 L595 157.15 L595.5 157.15 L596 157.15 L596.5 157.16 L597 157.16 L597.5 157.17 L598 157.17 L598.5 157.18 L599 157.18 L599.5 157.18 L600 157.19 L600.5 157.19 L601 157.19 L601.5 157.2 L602 157.2 L602.5 157.2 L603 157.21 L603.5 157.21 L604 157.22 L604.5 157.22 L605 157.22 L605.5 157.22 L606 157.23 L606.5 157.23 L607 157.23 L607.5 157.24 L608 157.24 L608.5 157.24 L609 157.25 L609.5 157.25 L610 157.25 L610.5 157.25 L611 157.26 L611.5 157.26 L612 157.26 L612.5 157.26 L613 157.26 L613.5 157.27 L614 157.27 L614.5 157.27 L615 157.27 L615.5 157.27 L616 157.28 L616.5 157.28 L617 157.28 L617.5 157.28 L618 157.28 L618.5 157.28 L619 157.29 L619.5 157.29 L620 157.29 L620.5 157.29 L621 157.29 L621.5 157.29 L622 157.29 L622.5 157.29 L623 157.29 L623.5 157.3 L624 157.3 L624.5 157.3 L625 157.3 L625.5 157.3 L626 157.3 L626.5 157.3 L627 157.3 L627.5 157.3 L628 157.3 L628.5 157.3 L629 157.3" fill="none" stroke="#f7c49c" stroke-width="2.3" stroke-linejoin="round" stroke-linecap="round" />
<path d="M244.5 159.8 L245 159.8 L245.5 159.8 L246 159.8 L246.5 159.8 L247 159.8 L247.5 159.8 L248 159.79 L248.5 159.79 L249 159.79 L249.5 159.79 L250 159.79 L250.5 159.78 L251 159.78 L251.5 159.78 L252 159.77 L252.5 159.77 L253 159.76 L253.5 159.76 L254 159.75 L254.5 159.75 L255 159.74 L255.5 159.73 L256 159.73 L256.5 159.72 L257 159.71 L257.5 159.7 L258 159.69 L258.5 159.68 L259 159.67 L259.5 159.66 L260 159.65 L260.5 159.64 L261 159.63 L261.5 159.61 L262 159.6 L262.5 159.55 L263 159.43 L263.5 159.26 L264 159.04 L264.5 158.8 L265 158.53 L265.5 158.26 L266 158 L266.5 157.68 L267 157.26 L267.5 156.79 L268 156.31 L268.5 155.88 L269 155.54 L269.5 155.34 L270 155.31 L270.5 155.41 L271 155.59 L271.5 155.8 L272 156.02 L272.5 156.2 L273 156.3 L273.5 156.35 L274 156.4 L274.5 156.44 L275 156.47 L275.5 156.49 L276 156.5 L276.5 156.42 L277 156.21 L277.5 155.89 L278 155.5 L278.5 154.77 L279 153.5 L279.5 151.85 L280 149.96 L280.5 148 L281 145.82 L281.5 143.26 L282 140.38 L282.5 137.27 L283 134.01 L283.5 130.67 L284 127.24 L284.5 123.57 L285 119.68 L285.5 115.63 L286 111.43 L286.5 107.11 L287 102.19 L287.5 96.92 L288 91.98 L288.5 88 L289 84.88 L289.5 82.13 L290 79.81 L290.5 78 L291 76.5 L291.5 75.14 L292 74.08 L292.5 73.46 L293 73.23 L293.5 73.04 L294 72.88 L294.5 72.76 L295 72.67 L295.5 72.62 L296 72.6 L296.5 72.66 L297 72.81 L297.5 73.02 L298 73.27 L298.5 73.52 L299 73.75 L299.5 73.92 L300 74 L300.5 74.03 L301 74.05 L301.5 74.08 L302 74.1 L302.5 74.13 L303 74.15 L303.5 74.17 L304 74.18 L304.5 74.2 L305 74.22 L305.5 74.23 L306 74.25 L306.5 74.26 L307 74.27 L307.5 74.28 L308 74.29 L308.5 74.3 L309 74.31 L309.5 74.32 L310 74.33 L310.5 74.34 L311 74.35 L311.5 74.36 L312 74.36 L312.5 74.37 L313 74.38 L313.5 74.38 L314 74.39 L314.5 74.4 L315 74.41 L315.5 74.41 L316 74.42 L316.5 74.43 L317 74.44 L317.5 74.45 L318 74.46 L318.5 74.47 L319 74.48 L319.5 74.49 L320 74.5 L320.5 74.51 L321 74.52 L321.5 74.54 L322 74.55 L322.5 74.56 L323 74.57 L323.5 74.59 L324 74.6 L324.5 74.61 L325 74.62 L325.5 74.63 L326 74.65 L326.5 74.66 L327 74.67 L327.5 74.68 L328 74.69 L328.5 74.71 L329 74.72 L329.5 74.73 L330 74.74 L330.5 74.75 L331 74.77 L331.5 74.78 L332 74.79 L332.5 74.8 L333 74.81 L333.5 74.83 L334 74.84 L334.5 74.85 L335 74.86 L335.5 74.88 L336 74.89 L336.5 74.9 L337 74.92 L337.5 74.93 L338 74.94 L338.5 74.96 L339 74.97 L339.5 74.99 L340 75 L340.5 75.01 L341 75.03 L341.5 75.05 L342 75.07 L342.5 75.09 L343 75.11 L343.5 75.13 L344 75.15 L344.5 75.17 L345 75.19 L345.5 75.21 L346 75.24 L346.5 75.26 L347 75.28 L347.5 75.3 L348 75.32 L348.5 75.34 L349 75.36 L349.5 75.38 L350 75.4 L350.5 75.41 L351 75.43 L351.5 75.45 L352 75.46 L352.5 75.47 L353 75.48 L353.5 75.49 L354 75.49 L354.5 75.5 L355 75.5 L355.5 75.41 L356 74.94 L356.5 74.31 L357 73.74 L357.5 73.5 L358 74.1 L358.5 75.62 L359 80.44 L359.5 90.64 L360 100 L360.5 106.57 L361 112.56 L361.5 117.77 L362 122 L362.5 125.47 L363 128.55 L363.5 131.3 L364 133.76 L364.5 135.97 L365 138 L365.5 139.91 L366 141.74 L366.5 143.46 L367 145.07 L367.5 146.55 L368 147.87 L368.5 149.03 L369 150 L369.5 150.84 L370 151.64 L370.5 152.37 L371 153.06 L371.5 153.69 L372 154.26 L372.5 154.78 L373 155.24 L373.5 155.65 L374 156 L374.5 156.31 L375 156.61 L375.5 156.89 L376 157.16 L376.5 157.41 L377 157.64 L377.5 157.86 L378 158.06 L378.5 158.25 L379 158.42 L379.5 158.57 L380 158.71 L380.5 158.83 L381 158.94 L381.5 159.04 L382 159.14 L382.5 159.24 L383 159.33 L383.5 159.41 L384 159.49 L384.5 159.56 L385 159.63 L385.5 159.69 L386 159.75 L386.5 159.8 L387 159.84 L387.5 159.87 L388 159.9 L388.5 159.92 L389 159.94 L389.5 159.96 L390 159.98 L390.5 160 L391 160.02 L391.5 160.04 L392 160.06 L392.5 160.07 L393 160.09 L393.5 160.1 L394 160.12 L394.5 160.13 L395 160.14 L395.5 160.15 L396 160.16 L396.5 160.17 L397 160.18 L397.5 160.18 L398 160.19 L398.5 160.19 L399 160.2 L399.5 160.2 L400 160.2 L400.5 160.2 L401 160.2 L401.5 160.2 L402 160.2 L402.5 160.2 L403 160.2 L403.5 160.2 L404 160.2 L404.5 160.2 L405 160.2 L405.5 160.2 L406 160.2 L406.5 160.2 L407 160.2 L407.5 160.2 L408 160.2 L408.5 160.2 L409 160.2 L409.5 160.2 L410 160.2 L410.5 160.2 L411 160.2 L411.5 160.2 L412 160.2 L412.5 160.2 L413 160.2 L413.5 160.2 L414 160.2 L414.5 160.2 L415 160.2 L415.5 160.2 L416 160.2 L416.5 160.2 L417 160.2 L417.5 160.2 L418 160.2 L418.5 160.2 L419 160.2 L419.5 160.2 L420 160.2 L420.5 160.2 L421 160.2 L421.5 160.2 L422 160.2 L422.5 160.2 L423 160.2 L423.5 160.2 L424 160.2 L424.5 160.2 L425 160.2 L425.5 160.2 L426 160.2 L426.5 160.2 L427 160.2 L427.5 160.2 L428 160.2 L428.5 160.2 L429 160.2 L429.5 160.2 L430 160.2 L430.5 160.2 L431 160.2 L431.5 160.2 L432 160.2 L432.5 160.2 L433 160.2 L433.5 160.2 L434 160.2 L434.5 160.2 L435 160.2 L435.5 160.2 L436 160.2 L436.5 160.2 L437 160.2 L437.5 160.2 L438 160.2 L438.5 160.2 L439 160.2 L439.5 160.2 L440 160.2 L440.5 160.2 L441 160.2 L441.5 160.2 L442 160.2 L442.5 160.2 L443 160.2 L443.5 160.2 L444 160.2 L444.5 160.2 L445 160.2 L445.5 160.2 L446 160.2 L446.5 160.2 L447 160.2 L447.5 160.2 L448 160.19 L448.5 160.19 L449 160.19 L449.5 160.19 L450 160.19 L450.5 160.19 L451 160.19 L451.5 160.19 L452 160.19 L452.5 160.19 L453 160.19 L453.5 160.19 L454 160.19 L454.5 160.19 L455 160.19 L455.5 160.19 L456 160.19 L456.5 160.19 L457 160.19 L457.5 160.19 L458 160.19 L458.5 160.19 L459 160.19 L459.5 160.19 L460 160.19 L460.5 160.19 L461 160.18 L461.5 160.18 L462 160.18 L462.5 160.18 L463 160.18 L463.5 160.18 L464 160.18 L464.5 160.18 L465 160.18 L465.5 160.18 L466 160.18 L466.5 160.18 L467 160.18 L467.5 160.18 L468 160.18 L468.5 160.18 L469 160.18 L469.5 160.18 L470 160.17 L470.5 160.17 L471 160.17 L471.5 160.17 L472 160.17 L472.5 160.17 L473 160.17 L473.5 160.17 L474 160.17 L474.5 160.17 L475 160.17 L475.5 160.17 L476 160.17 L476.5 160.17 L477 160.17 L477.5 160.16 L478 160.16 L478.5 160.16 L479 160.16 L479.5 160.16 L480 160.16 L480.5 160.16 L481 160.16 L481.5 160.16 L482 160.16 L482.5 160.16 L483 160.16 L483.5 160.16 L484 160.15 L484.5 160.15 L485 160.15 L485.5 160.15 L486 160.15 L486.5 160.15 L487 160.15 L487.5 160.15 L488 160.15 L488.5 160.15 L489 160.15 L489.5 160.15 L490 160.14 L490.5 160.14 L491 160.14 L491.5 160.14 L492 160.14 L492.5 160.14 L493 160.14 L493.5 160.14 L494 160.14 L494.5 160.14 L495 160.14 L495.5 160.13 L496 160.13 L496.5 160.13 L497 160.13 L497.5 160.13 L498 160.13 L498.5 160.13 L499 160.13 L499.5 160.13 L500 160.13 L500.5 160.12 L501 160.12 L501.5 160.12 L502 160.12 L502.5 160.12 L503 160.12 L503.5 160.12 L504 160.12 L504.5 160.12 L505 160.12 L505.5 160.11 L506 160.11 L506.5 160.11 L507 160.11 L507.5 160.11 L508 160.11 L508.5 160.11 L509 160.11 L509.5 160.11 L510 160.1 L510.5 160.1 L511 160.1 L511.5 160.1 L512 160.1 L512.5 160.1 L513 160.1 L513.5 160.1 L514 160.1 L514.5 160.09 L515 160.09 L515.5 160.09 L516 160.09 L516.5 160.09 L517 160.09 L517.5 160.09 L518 160.09 L518.5 160.09 L519 160.08 L519.5 160.08 L520 160.08 L520.5 160.08 L521 160.08 L521.5 160.08 L522 160.08 L522.5 160.08 L523 160.07 L523.5 160.07 L524 160.07 L524.5 160.07 L525 160.07 L525.5 160.06 L526 160.06 L526.5 160.06 L527 160.06 L527.5 160.06 L528 160.05 L528.5 160.05 L529 160.05 L529.5 160.04 L530 160.04 L530.5 160.04 L531 160.03 L531.5 160.03 L532 160.03 L532.5 160.02 L533 160.02 L533.5 160.02 L534 160.01 L534.5 160.01 L535 160 L535.5 160 L536 159.99 L536.5 159.99 L537 159.98 L537.5 159.97 L538 159.97 L538.5 159.96 L539 159.96 L539.5 159.95 L540 159.94 L540.5 159.93 L541 159.93 L541.5 159.92 L542 159.91 L542.5 159.9 L543 159.86 L543.5 159.67 L544 159.34 L544.5 158.92 L545 158.44 L545.5 157.93 L546 157.43 L546.5 156.98 L547 156.61 L547.5 156.36 L548 156.17 L548.5 156.02 L549 155.88 L549.5 155.76 L550 155.65 L550.5 155.53 L551 155.4 L551.5 155.25 L552 155.08 L552.5 154.86 L553 154.54 L553.5 154.14 L554 153.69 L554.5 153.2 L555 152.71 L555.5 152.23 L556 151.79 L556.5 151.41 L557 151.13 L557.5 150.95 L558 150.9 L558.5 150.95 L559 151.05 L559.5 151.21 L560 151.41 L560.5 151.64 L561 151.9 L561.5 152.17 L562 152.46 L562.5 152.74 L563 153.01 L563.5 153.27 L564 153.5 L564.5 153.7 L565 153.88 L565.5 154.07 L566 154.26 L566.5 154.45 L567 154.64 L567.5 154.83 L568 155.02 L568.5 155.19 L569 155.36 L569.5 155.51 L570 155.64 L570.5 155.76 L571 155.86 L571.5 155.94 L572 155.99 L572.5 156.03 L573 156.06 L573.5 156.09 L574 156.12 L574.5 156.15 L575 156.18 L575.5 156.2 L576 156.23 L576.5 156.25 L577 156.28 L577.5 156.3 L578 156.32 L578.5 156.34 L579 156.36 L579.5 156.38 L580 156.4 L580.5 156.41 L581 156.43 L581.5 156.44 L582 156.46 L582.5 156.47 L583 156.48 L583.5 156.5 L584 156.51 L584.5 156.52 L585 156.53 L585.5 156.54 L586 156.55 L586.5 156.56 L587 156.56 L587.5 156.57 L588 156.58 L588.5 156.58 L589 156.59 L589.5 156.59 L590 156.6 L590.5 156.6 L591 156.61 L591.5 156.61 L592 156.62 L592.5 156.62 L593 156.63 L593.5 156.63 L594 156.64 L594.5 156.64 L595 156.65 L595.5 156.65 L596 156.65 L596.5 156.66 L597 156.66 L597.5 156.67 L598 156.67 L598.5 156.68 L599 156.68 L599.5 156.68 L600 156.69 L600.5 156.69 L601 156.69 L601.5 156.7 L602 156.7 L602.5 156.7 L603 156.71 L603.5 156.71 L604 156.72 L604.5 156.72 L605 156.72 L605.5 156.72 L606 156.73 L606.5 156.73 L607 156.73 L607.5 156.74 L608 156.74 L608.5 156.74 L609 156.75 L609.5 156.75 L610 156.75 L610.5 156.75 L611 156.76 L611.5 156.76 L612 156.76 L612.5 156.76 L613 156.76 L613.5 156.77 L614 156.77 L614.5 156.77 L615 156.77 L615.5 156.77 L616 156.78 L616.5 156.78 L617 156.78 L617.5 156.78 L618 156.78 L618.5 156.78 L619 156.79 L619.5 156.79 L620 156.79 L620.5 156.79 L621 156.79 L621.5 156.79 L622 156.79 L622.5 156.79 L623 156.79 L623.5 156.8 L624 156.8 L624.5 156.8 L625 156.8 L625.5 156.8 L626 156.8 L626.5 156.8 L627 156.8 L627.5 156.8 L628 156.8 L628.5 156.8 L629 156.8" fill="none" stroke="#e3701b" stroke-width="1.15" stroke-linejoin="round" stroke-linecap="round" />
<path d="M243.5 160.6 h2 M245.17 160.6 h2 M246.84 160.6 h2 M248.51 160.59 h2 M250.18 160.58 h2 M251.85 160.56 h2 M253.52 160.55 h2 M255.19 160.52 h2 M256.86 160.5 h2 M258.53 160.46 h2 M260.2 160.42 h2 M261.87 160.26 h2 M263.54 159.58 h2 M265.21 158.67 h2 M266.88 157.23 h2 M268.55 156.13 h2 M270.22 156.48 h2 M271.89 157.08 h2 M273.56 157.24 h2 M275.23 157.26 h2 M276.9 156.38 h2 M278.57 152.38 h2 M280.24 145.39 h2 M281.91 135.4 h2 M283.58 123.74 h2 M285.25 110.07 h2 M286.92 93.57 h2 M288.59 82.51 h2 M290.26 76.59 h2 M291.93 74.06 h2 M293.6 73.54 h2 M295.27 73.43 h2 M296.94 74.04 h2 M298.61 74.74 h2 M300.28 74.87 h2 M301.95 74.94 h2 M303.62 75.01 h2 M305.29 75.05 h2 M306.96 75.09 h2 M308.63 75.13 h2 M310.3 75.15 h2 M311.97 75.18 h2 M313.64 75.2 h2 M315.31 75.23 h2 M316.98 75.26 h2 M318.65 75.29 h2 M320.32 75.33 h2 M321.99 75.37 h2 M323.66 75.41 h2 M325.33 75.45 h2 M327 75.49 h2 M328.67 75.53 h2 M330.34 75.57 h2 M332.01 75.61 h2 M333.68 75.66 h2 M335.35 75.7 h2 M337.02 75.74 h2 M338.69 75.79 h2 M340.36 75.84 h2 M342.03 75.91 h2 M343.7 75.98 h2 M345.37 76.05 h2 M347.04 76.12 h2 M348.71 76.19 h2 M350.38 76.24 h2 M352.05 76.28 h2 M353.72 76.3 h2 M355.39 75.25 h2 M357.06 75.08 h2 M358.73 95.75 h2 M360.4 117.52 h2 M362.07 129.74 h2 M363.74 137.75 h2 M365.41 143.95 h2 M367.08 148.86 h2 M368.75 152.04 h2 M370.42 154.39 h2 M372.09 156.12 h2 M373.76 157.27 h2 M375.43 158.18 h2 M377.1 158.9 h2 M378.77 159.45 h2 M380.44 159.83 h2 M382.11 160.14 h2 M383.78 160.4 h2 M385.45 160.59 h2 M387.12 160.71 h2 M388.79 160.78 h2 M390.46 160.84 h2 M392.13 160.89 h2 M393.8 160.94 h2 M395.47 160.97 h2 M397.14 160.99 h2 M398.81 161 h2 M400.48 161 h2 M402.15 161 h2 M403.82 161 h2 M405.49 161 h2 M407.16 161 h2 M408.83 161 h2 M410.5 161 h2 M412.17 161 h2 M413.84 161 h2 M415.51 161 h2 M417.18 161 h2 M418.85 161 h2 M420.52 161 h2 M422.19 161 h2 M423.86 161 h2 M425.53 161 h2 M427.2 161 h2 M428.87 161 h2 M430.54 161 h2 M432.21 161 h2 M433.88 161 h2 M435.55 161 h2 M437.22 161 h2 M438.89 161 h2 M440.56 161 h2 M442.23 161 h2 M443.9 161 h2 M445.57 161 h2 M447.24 160.99 h2 M448.91 160.99 h2 M450.58 160.99 h2 M452.25 160.99 h2 M453.92 160.99 h2 M455.59 160.99 h2 M457.26 160.99 h2 M458.93 160.99 h2 M460.6 160.98 h2 M462.27 160.98 h2 M463.94 160.98 h2 M465.61 160.98 h2 M467.28 160.98 h2 M468.95 160.97 h2 M470.62 160.97 h2 M472.29 160.97 h2 M473.96 160.97 h2 M475.63 160.97 h2 M477.3 160.96 h2 M478.97 160.96 h2 M480.64 160.96 h2 M482.31 160.96 h2 M483.98 160.95 h2 M485.65 160.95 h2 M487.32 160.95 h2 M488.99 160.94 h2 M490.66 160.94 h2 M492.33 160.94 h2 M494 160.94 h2 M495.67 160.93 h2 M497.34 160.93 h2 M499.01 160.93 h2 M500.68 160.92 h2 M502.35 160.92 h2 M504.02 160.92 h2 M505.69 160.91 h2 M507.36 160.91 h2 M509.03 160.9 h2 M510.7 160.9 h2 M512.37 160.9 h2 M514.04 160.89 h2 M515.71 160.89 h2 M517.38 160.89 h2 M519.05 160.88 h2 M520.72 160.88 h2 M522.39 160.87 h2 M524.06 160.87 h2 M525.73 160.86 h2 M527.4 160.85 h2 M529.07 160.84 h2 M530.74 160.83 h2 M532.41 160.82 h2 M534.08 160.8 h2 M535.75 160.78 h2 M537.42 160.76 h2 M539.09 160.74 h2 M540.76 160.72 h2 M542.43 160.5 h2 M544.1 159.14 h2 M545.77 157.58 h2 M547.44 156.84 h2 M549.11 156.42 h2 M550.78 155.96 h2 M552.45 154.98 h2 M554.12 153.39 h2 M555.79 152.05 h2 M557.46 151.74 h2 M559.13 152.27 h2 M560.8 153.14 h2 M562.47 154.06 h2 M564.14 154.73 h2 M565.81 155.37 h2 M567.48 155.98 h2 M569.15 156.48 h2 M570.82 156.77 h2 M572.49 156.89 h2 M574.16 156.98 h2 M575.83 157.07 h2 M577.5 157.14 h2 M579.17 157.2 h2 M580.84 157.25 h2 M582.51 157.3 h2 M584.18 157.33 h2 M585.85 157.36 h2 M587.52 157.38 h2 M589.19 157.4 h2 M590.86 157.42 h2 M592.53 157.43 h2 M594.2 157.45 h2 M595.87 157.46 h2 M597.54 157.48 h2 M599.21 157.49 h2 M600.88 157.5 h2 M602.55 157.51 h2 M604.22 157.52 h2 M605.89 157.53 h2 M607.56 157.54 h2 M609.23 157.55 h2 M610.9 157.56 h2 M612.57 157.57 h2 M614.24 157.57 h2 M615.91 157.58 h2 M617.58 157.58 h2 M619.25 157.59 h2 M620.92 157.59 h2 M622.59 157.6 h2 M624.26 157.6 h2 M625.93 157.6 h2 " stroke="#ee9a5a" stroke-width="0.8" fill="none"/>
<path d="M244.5 161.1 L245 161.1 L245.5 161.1 L246 161.1 L246.5 161.1 L247 161.1 L247.5 161.1 L248 161.1 L248.5 161.1 L249 161.1 L249.5 161.09 L250 161.09 L250.5 161.09 L251 161.09 L251.5 161.09 L252 161.09 L252.5 161.08 L253 161.08 L253.5 161.08 L254 161.08 L254.5 161.07 L255 161.07 L255.5 161.07 L256 161.06 L256.5 161.06 L257 161.06 L257.5 161.05 L258 161.05 L258.5 161.04 L259 161.04 L259.5 161.03 L260 161.03 L260.5 161.02 L261 161.01 L261.5 161.01 L262 161 L262.5 160.97 L263 160.91 L263.5 160.81 L264 160.69 L264.5 160.54 L265 160.38 L265.5 160.19 L266 160 L266.5 159.66 L267 159.15 L267.5 158.61 L268 158.18 L268.5 158 L269 158.15 L269.5 158.52 L270 159 L270.5 159.47 L271 159.8 L271.5 160.03 L272 160.26 L272.5 160.48 L273 160.68 L273.5 160.85 L274 160.98 L274.5 161.07 L275 161.1 L275.5 161.09 L276 161.05 L276.5 161 L277 160.94 L277.5 160.87 L278 160.8 L278.5 160.72 L279 160.64 L279.5 160.54 L280 160.41 L280.5 160.26 L281 160.08 L281.5 159.83 L282 159.39 L282.5 158.79 L283 158.08 L283.5 157.3 L284 156.5 L284.5 155.61 L285 154.55 L285.5 153.37 L286 152.12 L286.5 150.86 L287 149.64 L287.5 148.5 L288 147.5 L288.5 146.56 L289 145.58 L289.5 144.6 L290 143.66 L290.5 142.77 L291 141.98 L291.5 141.33 L292 140.83 L292.5 140.53 L293 140.39 L293.5 140.26 L294 140.15 L294.5 140.05 L295 139.96 L295.5 139.89 L296 139.84 L296.5 139.81 L297 139.8 L297.5 139.8 L298 139.8 L298.5 139.8 L299 139.8 L299.5 139.8 L300 139.8 L300.5 139.8 L301 139.8 L301.5 139.8 L302 139.8 L302.5 139.8 L303 139.8 L303.5 139.8 L304 139.8 L304.5 139.8 L305 139.8 L305.5 139.8 L306 139.8 L306.5 139.8 L307 139.8 L307.5 139.8 L308 139.8 L308.5 139.8 L309 139.8 L309.5 139.8 L310 139.8 L310.5 139.8 L311 139.8 L311.5 139.8 L312 139.8 L312.5 139.8 L313 139.8 L313.5 139.8 L314 139.8 L314.5 139.8 L315 139.8 L315.5 139.8 L316 139.8 L316.5 139.8 L317 139.8 L317.5 139.8 L318 139.8 L318.5 139.8 L319 139.8 L319.5 139.8 L320 139.8 L320.5 139.8 L321 139.8 L321.5 139.8 L322 139.8 L322.5 139.8 L323 139.8 L323.5 139.8 L324 139.8 L324.5 139.79 L325 139.79 L325.5 139.79 L326 139.79 L326.5 139.79 L327 139.79 L327.5 139.78 L328 139.78 L328.5 139.78 L329 139.78 L329.5 139.78 L330 139.77 L330.5 139.77 L331 139.77 L331.5 139.77 L332 139.76 L332.5 139.76 L333 139.76 L333.5 139.76 L334 139.75 L334.5 139.75 L335 139.75 L335.5 139.75 L336 139.75 L336.5 139.74 L337 139.74 L337.5 139.74 L338 139.74 L338.5 139.73 L339 139.73 L339.5 139.73 L340 139.73 L340.5 139.72 L341 139.72 L341.5 139.72 L342 139.72 L342.5 139.72 L343 139.71 L343.5 139.71 L344 139.71 L344.5 139.71 L345 139.71 L345.5 139.71 L346 139.7 L346.5 139.7 L347 139.7 L347.5 139.7 L348 139.7 L348.5 139.7 L349 139.7 L349.5 139.7 L350 139.7 L350.5 139.7 L351 139.71 L351.5 139.72 L352 139.73 L352.5 139.75 L353 139.77 L353.5 139.8 L354 139.83 L354.5 139.86 L355 139.9 L355.5 139.97 L356 140.1 L356.5 140.27 L357 140.5 L357.5 140.99 L358 141.86 L358.5 142.98 L359 144.22 L359.5 145.44 L360 146.5 L360.5 147.44 L361 148.37 L361.5 149.3 L362 150.21 L362.5 151.09 L363 151.94 L363.5 152.74 L364 153.5 L364.5 154.23 L365 154.96 L365.5 155.67 L366 156.35 L366.5 156.98 L367 157.56 L367.5 158.07 L368 158.5 L368.5 158.88 L369 159.26 L369.5 159.62 L370 159.96 L370.5 160.24 L371 160.47 L371.5 160.63 L372 160.7 L372.5 160.73 L373 160.75 L373.5 160.77 L374 160.79 L374.5 160.81 L375 160.83 L375.5 160.84 L376 160.85 L376.5 160.86 L377 160.87 L377.5 160.88 L378 160.89 L378.5 160.89 L379 160.9 L379.5 160.9 L380 160.9 L380.5 160.9 L381 160.9 L381.5 160.9 L382 160.9 L382.5 160.9 L383 160.9 L383.5 160.9 L384 160.9 L384.5 160.9 L385 160.9 L385.5 160.9 L386 160.9 L386.5 160.9 L387 160.9 L387.5 160.9 L388 160.9 L388.5 160.9 L389 160.9 L389.5 160.9 L390 160.9 L390.5 160.9 L391 160.9 L391.5 160.9 L392 160.9 L392.5 160.9 L393 160.9 L393.5 160.9 L394 160.9 L394.5 160.9 L395 160.9 L395.5 160.9 L396 160.9 L396.5 160.9 L397 160.9 L397.5 160.9 L398 160.9 L398.5 160.9 L399 160.9 L399.5 160.9 L400 160.9 L400.5 160.9 L401 160.9 L401.5 160.9 L402 160.9 L402.5 160.9 L403 160.9 L403.5 160.9 L404 160.9 L404.5 160.9 L405 160.9 L405.5 160.9 L406 160.9 L406.5 160.9 L407 160.9 L407.5 160.9 L408 160.9 L408.5 160.9 L409 160.9 L409.5 160.9 L410 160.9 L410.5 160.9 L411 160.9 L411.5 160.9 L412 160.9 L412.5 160.9 L413 160.9 L413.5 160.9 L414 160.9 L414.5 160.9 L415 160.9 L415.5 160.9 L416 160.9 L416.5 160.9 L417 160.9 L417.5 160.9 L418 160.9 L418.5 160.9 L419 160.9 L419.5 160.9 L420 160.9 L420.5 160.9 L421 160.9 L421.5 160.9 L422 160.9 L422.5 160.9 L423 160.9 L423.5 160.9 L424 160.9 L424.5 160.9 L425 160.9 L425.5 160.9 L426 160.9 L426.5 160.9 L427 160.9 L427.5 160.9 L428 160.9 L428.5 160.9 L429 160.9 L429.5 160.9 L430 160.9 L430.5 160.9 L431 160.9 L431.5 160.9 L432 160.9 L432.5 160.9 L433 160.9 L433.5 160.9 L434 160.9 L434.5 160.9 L435 160.9 L435.5 160.9 L436 160.9 L436.5 160.9 L437 160.9 L437.5 160.9 L438 160.9 L438.5 160.9 L439 160.9 L439.5 160.9 L440 160.9 L440.5 160.9 L441 160.9 L441.5 160.9 L442 160.9 L442.5 160.9 L443 160.9 L443.5 160.9 L444 160.9 L444.5 160.9 L445 160.9 L445.5 160.9 L446 160.9 L446.5 160.9 L447 160.9 L447.5 160.9 L448 160.9 L448.5 160.9 L449 160.9 L449.5 160.9 L450 160.9 L450.5 160.9 L451 160.9 L451.5 160.9 L452 160.9 L452.5 160.9 L453 160.9 L453.5 160.9 L454 160.9 L454.5 160.9 L455 160.9 L455.5 160.9 L456 160.9 L456.5 160.9 L457 160.9 L457.5 160.9 L458 160.9 L458.5 160.9 L459 160.9 L459.5 160.9 L460 160.9 L460.5 160.9 L461 160.9 L461.5 160.9 L462 160.9 L462.5 160.9 L463 160.9 L463.5 160.9 L464 160.9 L464.5 160.9 L465 160.9 L465.5 160.9 L466 160.9 L466.5 160.9 L467 160.9 L467.5 160.9 L468 160.9 L468.5 160.9 L469 160.9 L469.5 160.9 L470 160.9 L470.5 160.9 L471 160.9 L471.5 160.9 L472 160.9 L472.5 160.9 L473 160.9 L473.5 160.9 L474 160.9 L474.5 160.9 L475 160.9 L475.5 160.9 L476 160.9 L476.5 160.9 L477 160.9 L477.5 160.9 L478 160.9 L478.5 160.9 L479 160.9 L479.5 160.9 L480 160.9 L480.5 160.9 L481 160.9 L481.5 160.9 L482 160.9 L482.5 160.9 L483 160.9 L483.5 160.9 L484 160.9 L484.5 160.9 L485 160.9 L485.5 160.9 L486 160.9 L486.5 160.9 L487 160.9 L487.5 160.9 L488 160.9 L488.5 160.9 L489 160.9 L489.5 160.9 L490 160.9 L490.5 160.9 L491 160.9 L491.5 160.9 L492 160.9 L492.5 160.9 L493 160.9 L493.5 160.9 L494 160.9 L494.5 160.9 L495 160.9 L495.5 160.9 L496 160.9 L496.5 160.9 L497 160.9 L497.5 160.9 L498 160.9 L498.5 160.9 L499 160.9 L499.5 160.9 L500 160.9 L500.5 160.9 L501 160.9 L501.5 160.9 L502 160.9 L502.5 160.9 L503 160.9 L503.5 160.9 L504 160.9 L504.5 160.9 L505 160.9 L505.5 160.9 L506 160.9 L506.5 160.9 L507 160.9 L507.5 160.9 L508 160.9 L508.5 160.9 L509 160.9 L509.5 160.9 L510 160.9 L510.5 160.9 L511 160.9 L511.5 160.9 L512 160.9 L512.5 160.9 L513 160.9 L513.5 160.9 L514 160.9 L514.5 160.9 L515 160.9 L515.5 160.9 L516 160.9 L516.5 160.9 L517 160.9 L517.5 160.9 L518 160.9 L518.5 160.9 L519 160.89 L519.5 160.89 L520 160.89 L520.5 160.89 L521 160.89 L521.5 160.89 L522 160.89 L522.5 160.89 L523 160.89 L523.5 160.88 L524 160.88 L524.5 160.88 L525 160.88 L525.5 160.88 L526 160.88 L526.5 160.88 L527 160.87 L527.5 160.87 L528 160.87 L528.5 160.87 L529 160.87 L529.5 160.86 L530 160.86 L530.5 160.86 L531 160.86 L531.5 160.85 L532 160.85 L532.5 160.85 L533 160.85 L533.5 160.84 L534 160.84 L534.5 160.84 L535 160.83 L535.5 160.83 L536 160.83 L536.5 160.82 L537 160.82 L537.5 160.82 L538 160.81 L538.5 160.81 L539 160.81 L539.5 160.8 L540 160.8 L540.5 160.79 L541 160.79 L541.5 160.78 L542 160.76 L542.5 160.75 L543 160.73 L543.5 160.71 L544 160.69 L544.5 160.66 L545 160.64 L545.5 160.61 L546 160.58 L546.5 160.55 L547 160.52 L547.5 160.48 L548 160.45 L548.5 160.41 L549 160.38 L549.5 160.34 L550 160.3 L550.5 160.25 L551 160.18 L551.5 160.1 L552 160 L552.5 159.9 L553 159.79 L553.5 159.68 L554 159.56 L554.5 159.45 L555 159.34 L555.5 159.25 L556 159.16 L556.5 159.09 L557 159.04 L557.5 159.01 L558 159 L558.5 159.02 L559 159.07 L559.5 159.13 L560 159.22 L560.5 159.32 L561 159.43 L561.5 159.54 L562 159.65 L562.5 159.76 L563 159.86 L563.5 159.95 L564 160.02 L564.5 160.07 L565 160.1 L565.5 160.11 L566 160.13 L566.5 160.14 L567 160.15 L567.5 160.16 L568 160.17 L568.5 160.18 L569 160.19 L569.5 160.2 L570 160.21 L570.5 160.22 L571 160.23 L571.5 160.24 L572 160.24 L572.5 160.25 L573 160.26 L573.5 160.26 L574 160.27 L574.5 160.27 L575 160.28 L575.5 160.28 L576 160.29 L576.5 160.29 L577 160.29 L577.5 160.29 L578 160.3 L578.5 160.3 L579 160.3 L579.5 160.3 L580 160.3 L580.5 160.3 L581 160.3 L581.5 160.3 L582 160.3 L582.5 160.3 L583 160.3 L583.5 160.3 L584 160.3 L584.5 160.3 L585 160.3 L585.5 160.3 L586 160.3 L586.5 160.3 L587 160.3 L587.5 160.3 L588 160.3 L588.5 160.3 L589 160.3 L589.5 160.3 L590 160.3 L590.5 160.3 L591 160.3 L591.5 160.3 L592 160.3 L592.5 160.3 L593 160.3 L593.5 160.3 L594 160.3 L594.5 160.3 L595 160.3 L595.5 160.3 L596 160.3 L596.5 160.3 L597 160.3 L597.5 160.3 L598 160.3 L598.5 160.3 L599 160.3 L599.5 160.3 L600 160.3 L600.5 160.3 L601 160.3 L601.5 160.3 L602 160.3 L602.5 160.3 L603 160.3 L603.5 160.3 L604 160.3 L604.5 160.3 L605 160.3 L605.5 160.3 L606 160.3 L606.5 160.3 L607 160.3 L607.5 160.3 L608 160.3 L608.5 160.3 L609 160.3 L609.5 160.3 L610 160.3 L610.5 160.3 L611 160.3 L611.5 160.3 L612 160.3 L612.5 160.3 L613 160.3 L613.5 160.3 L614 160.3 L614.5 160.3 L615 160.3 L615.5 160.3 L616 160.3 L616.5 160.3 L617 160.3 L617.5 160.3 L618 160.3 L618.5 160.3 L619 160.3 L619.5 160.3 L620 160.3 L620.5 160.3 L621 160.3 L621.5 160.3 L622 160.3 L622.5 160.3 L623 160.3 L623.5 160.3 L624 160.3 L624.5 160.3 L625 160.3 L625.5 160.3 L626 160.3 L626.5 160.3 L627 160.3 L627.5 160.3 L628 160.3 L628.5 160.3 L629 160.3" fill="none" stroke="#c6c1ee" stroke-width="2.3" stroke-linejoin="round" stroke-linecap="round" />
<path d="M244.5 160.6 L245 160.6 L245.5 160.6 L246 160.6 L246.5 160.6 L247 160.6 L247.5 160.6 L248 160.6 L248.5 160.6 L249 160.6 L249.5 160.59 L250 160.59 L250.5 160.59 L251 160.59 L251.5 160.59 L252 160.59 L252.5 160.58 L253 160.58 L253.5 160.58 L254 160.58 L254.5 160.57 L255 160.57 L255.5 160.57 L256 160.56 L256.5 160.56 L257 160.56 L257.5 160.55 L258 160.55 L258.5 160.54 L259 160.54 L259.5 160.53 L260 160.53 L260.5 160.52 L261 160.51 L261.5 160.51 L262 160.5 L262.5 160.47 L263 160.41 L263.5 160.31 L264 160.19 L264.5 160.04 L265 159.88 L265.5 159.69 L266 159.5 L266.5 159.16 L267 158.65 L267.5 158.11 L268 157.68 L268.5 157.5 L269 157.65 L269.5 158.02 L270 158.5 L270.5 158.97 L271 159.3 L271.5 159.53 L272 159.76 L272.5 159.98 L273 160.18 L273.5 160.35 L274 160.48 L274.5 160.57 L275 160.6 L275.5 160.59 L276 160.55 L276.5 160.5 L277 160.44 L277.5 160.37 L278 160.3 L278.5 160.22 L279 160.14 L279.5 160.04 L280 159.91 L280.5 159.76 L281 159.58 L281.5 159.33 L282 158.89 L282.5 158.29 L283 157.58 L283.5 156.8 L284 156 L284.5 155.11 L285 154.05 L285.5 152.87 L286 151.62 L286.5 150.36 L287 149.14 L287.5 148 L288 147 L288.5 146.06 L289 145.08 L289.5 144.1 L290 143.16 L290.5 142.27 L291 141.48 L291.5 140.83 L292 140.33 L292.5 140.03 L293 139.89 L293.5 139.76 L294 139.65 L294.5 139.55 L295 139.46 L295.5 139.39 L296 139.34 L296.5 139.31 L297 139.3 L297.5 139.3 L298 139.3 L298.5 139.3 L299 139.3 L299.5 139.3 L300 139.3 L300.5 139.3 L301 139.3 L301.5 139.3 L302 139.3 L302.5 139.3 L303 139.3 L303.5 139.3 L304 139.3 L304.5 139.3 L305 139.3 L305.5 139.3 L306 139.3 L306.5 139.3 L307 139.3 L307.5 139.3 L308 139.3 L308.5 139.3 L309 139.3 L309.5 139.3 L310 139.3 L310.5 139.3 L311 139.3 L311.5 139.3 L312 139.3 L312.5 139.3 L313 139.3 L313.5 139.3 L314 139.3 L314.5 139.3 L315 139.3 L315.5 139.3 L316 139.3 L316.5 139.3 L317 139.3 L317.5 139.3 L318 139.3 L318.5 139.3 L319 139.3 L319.5 139.3 L320 139.3 L320.5 139.3 L321 139.3 L321.5 139.3 L322 139.3 L322.5 139.3 L323 139.3 L323.5 139.3 L324 139.3 L324.5 139.29 L325 139.29 L325.5 139.29 L326 139.29 L326.5 139.29 L327 139.29 L327.5 139.28 L328 139.28 L328.5 139.28 L329 139.28 L329.5 139.28 L330 139.27 L330.5 139.27 L331 139.27 L331.5 139.27 L332 139.26 L332.5 139.26 L333 139.26 L333.5 139.26 L334 139.25 L334.5 139.25 L335 139.25 L335.5 139.25 L336 139.25 L336.5 139.24 L337 139.24 L337.5 139.24 L338 139.24 L338.5 139.23 L339 139.23 L339.5 139.23 L340 139.23 L340.5 139.22 L341 139.22 L341.5 139.22 L342 139.22 L342.5 139.22 L343 139.21 L343.5 139.21 L344 139.21 L344.5 139.21 L345 139.21 L345.5 139.21 L346 139.2 L346.5 139.2 L347 139.2 L347.5 139.2 L348 139.2 L348.5 139.2 L349 139.2 L349.5 139.2 L350 139.2 L350.5 139.2 L351 139.21 L351.5 139.22 L352 139.23 L352.5 139.25 L353 139.27 L353.5 139.3 L354 139.33 L354.5 139.36 L355 139.4 L355.5 139.47 L356 139.6 L356.5 139.77 L357 140 L357.5 140.49 L358 141.36 L358.5 142.48 L359 143.72 L359.5 144.94 L360 146 L360.5 146.94 L361 147.87 L361.5 148.8 L362 149.71 L362.5 150.59 L363 151.44 L363.5 152.24 L364 153 L364.5 153.73 L365 154.46 L365.5 155.17 L366 155.85 L366.5 156.48 L367 157.06 L367.5 157.57 L368 158 L368.5 158.38 L369 158.76 L369.5 159.12 L370 159.46 L370.5 159.74 L371 159.97 L371.5 160.13 L372 160.2 L372.5 160.23 L373 160.25 L373.5 160.27 L374 160.29 L374.5 160.31 L375 160.33 L375.5 160.34 L376 160.35 L376.5 160.36 L377 160.37 L377.5 160.38 L378 160.39 L378.5 160.39 L379 160.4 L379.5 160.4 L380 160.4 L380.5 160.4 L381 160.4 L381.5 160.4 L382 160.4 L382.5 160.4 L383 160.4 L383.5 160.4 L384 160.4 L384.5 160.4 L385 160.4 L385.5 160.4 L386 160.4 L386.5 160.4 L387 160.4 L387.5 160.4 L388 160.4 L388.5 160.4 L389 160.4 L389.5 160.4 L390 160.4 L390.5 160.4 L391 160.4 L391.5 160.4 L392 160.4 L392.5 160.4 L393 160.4 L393.5 160.4 L394 160.4 L394.5 160.4 L395 160.4 L395.5 160.4 L396 160.4 L396.5 160.4 L397 160.4 L397.5 160.4 L398 160.4 L398.5 160.4 L399 160.4 L399.5 160.4 L400 160.4 L400.5 160.4 L401 160.4 L401.5 160.4 L402 160.4 L402.5 160.4 L403 160.4 L403.5 160.4 L404 160.4 L404.5 160.4 L405 160.4 L405.5 160.4 L406 160.4 L406.5 160.4 L407 160.4 L407.5 160.4 L408 160.4 L408.5 160.4 L409 160.4 L409.5 160.4 L410 160.4 L410.5 160.4 L411 160.4 L411.5 160.4 L412 160.4 L412.5 160.4 L413 160.4 L413.5 160.4 L414 160.4 L414.5 160.4 L415 160.4 L415.5 160.4 L416 160.4 L416.5 160.4 L417 160.4 L417.5 160.4 L418 160.4 L418.5 160.4 L419 160.4 L419.5 160.4 L420 160.4 L420.5 160.4 L421 160.4 L421.5 160.4 L422 160.4 L422.5 160.4 L423 160.4 L423.5 160.4 L424 160.4 L424.5 160.4 L425 160.4 L425.5 160.4 L426 160.4 L426.5 160.4 L427 160.4 L427.5 160.4 L428 160.4 L428.5 160.4 L429 160.4 L429.5 160.4 L430 160.4 L430.5 160.4 L431 160.4 L431.5 160.4 L432 160.4 L432.5 160.4 L433 160.4 L433.5 160.4 L434 160.4 L434.5 160.4 L435 160.4 L435.5 160.4 L436 160.4 L436.5 160.4 L437 160.4 L437.5 160.4 L438 160.4 L438.5 160.4 L439 160.4 L439.5 160.4 L440 160.4 L440.5 160.4 L441 160.4 L441.5 160.4 L442 160.4 L442.5 160.4 L443 160.4 L443.5 160.4 L444 160.4 L444.5 160.4 L445 160.4 L445.5 160.4 L446 160.4 L446.5 160.4 L447 160.4 L447.5 160.4 L448 160.4 L448.5 160.4 L449 160.4 L449.5 160.4 L450 160.4 L450.5 160.4 L451 160.4 L451.5 160.4 L452 160.4 L452.5 160.4 L453 160.4 L453.5 160.4 L454 160.4 L454.5 160.4 L455 160.4 L455.5 160.4 L456 160.4 L456.5 160.4 L457 160.4 L457.5 160.4 L458 160.4 L458.5 160.4 L459 160.4 L459.5 160.4 L460 160.4 L460.5 160.4 L461 160.4 L461.5 160.4 L462 160.4 L462.5 160.4 L463 160.4 L463.5 160.4 L464 160.4 L464.5 160.4 L465 160.4 L465.5 160.4 L466 160.4 L466.5 160.4 L467 160.4 L467.5 160.4 L468 160.4 L468.5 160.4 L469 160.4 L469.5 160.4 L470 160.4 L470.5 160.4 L471 160.4 L471.5 160.4 L472 160.4 L472.5 160.4 L473 160.4 L473.5 160.4 L474 160.4 L474.5 160.4 L475 160.4 L475.5 160.4 L476 160.4 L476.5 160.4 L477 160.4 L477.5 160.4 L478 160.4 L478.5 160.4 L479 160.4 L479.5 160.4 L480 160.4 L480.5 160.4 L481 160.4 L481.5 160.4 L482 160.4 L482.5 160.4 L483 160.4 L483.5 160.4 L484 160.4 L484.5 160.4 L485 160.4 L485.5 160.4 L486 160.4 L486.5 160.4 L487 160.4 L487.5 160.4 L488 160.4 L488.5 160.4 L489 160.4 L489.5 160.4 L490 160.4 L490.5 160.4 L491 160.4 L491.5 160.4 L492 160.4 L492.5 160.4 L493 160.4 L493.5 160.4 L494 160.4 L494.5 160.4 L495 160.4 L495.5 160.4 L496 160.4 L496.5 160.4 L497 160.4 L497.5 160.4 L498 160.4 L498.5 160.4 L499 160.4 L499.5 160.4 L500 160.4 L500.5 160.4 L501 160.4 L501.5 160.4 L502 160.4 L502.5 160.4 L503 160.4 L503.5 160.4 L504 160.4 L504.5 160.4 L505 160.4 L505.5 160.4 L506 160.4 L506.5 160.4 L507 160.4 L507.5 160.4 L508 160.4 L508.5 160.4 L509 160.4 L509.5 160.4 L510 160.4 L510.5 160.4 L511 160.4 L511.5 160.4 L512 160.4 L512.5 160.4 L513 160.4 L513.5 160.4 L514 160.4 L514.5 160.4 L515 160.4 L515.5 160.4 L516 160.4 L516.5 160.4 L517 160.4 L517.5 160.4 L518 160.4 L518.5 160.4 L519 160.39 L519.5 160.39 L520 160.39 L520.5 160.39 L521 160.39 L521.5 160.39 L522 160.39 L522.5 160.39 L523 160.39 L523.5 160.38 L524 160.38 L524.5 160.38 L525 160.38 L525.5 160.38 L526 160.38 L526.5 160.38 L527 160.37 L527.5 160.37 L528 160.37 L528.5 160.37 L529 160.37 L529.5 160.36 L530 160.36 L530.5 160.36 L531 160.36 L531.5 160.35 L532 160.35 L532.5 160.35 L533 160.35 L533.5 160.34 L534 160.34 L534.5 160.34 L535 160.33 L535.5 160.33 L536 160.33 L536.5 160.32 L537 160.32 L537.5 160.32 L538 160.31 L538.5 160.31 L539 160.31 L539.5 160.3 L540 160.3 L540.5 160.29 L541 160.29 L541.5 160.28 L542 160.26 L542.5 160.25 L543 160.23 L543.5 160.21 L544 160.19 L544.5 160.16 L545 160.14 L545.5 160.11 L546 160.08 L546.5 160.05 L547 160.02 L547.5 159.98 L548 159.95 L548.5 159.91 L549 159.88 L549.5 159.84 L550 159.8 L550.5 159.75 L551 159.68 L551.5 159.6 L552 159.5 L552.5 159.4 L553 159.29 L553.5 159.18 L554 159.06 L554.5 158.95 L555 158.84 L555.5 158.75 L556 158.66 L556.5 158.59 L557 158.54 L557.5 158.51 L558 158.5 L558.5 158.52 L559 158.57 L559.5 158.63 L560 158.72 L560.5 158.82 L561 158.93 L561.5 159.04 L562 159.15 L562.5 159.26 L563 159.36 L563.5 159.45 L564 159.52 L564.5 159.57 L565 159.6 L565.5 159.61 L566 159.63 L566.5 159.64 L567 159.65 L567.5 159.66 L568 159.67 L568.5 159.68 L569 159.69 L569.5 159.7 L570 159.71 L570.5 159.72 L571 159.73 L571.5 159.74 L572 159.74 L572.5 159.75 L573 159.76 L573.5 159.76 L574 159.77 L574.5 159.77 L575 159.78 L575.5 159.78 L576 159.79 L576.5 159.79 L577 159.79 L577.5 159.79 L578 159.8 L578.5 159.8 L579 159.8 L579.5 159.8 L580 159.8 L580.5 159.8 L581 159.8 L581.5 159.8 L582 159.8 L582.5 159.8 L583 159.8 L583.5 159.8 L584 159.8 L584.5 159.8 L585 159.8 L585.5 159.8 L586 159.8 L586.5 159.8 L587 159.8 L587.5 159.8 L588 159.8 L588.5 159.8 L589 159.8 L589.5 159.8 L590 159.8 L590.5 159.8 L591 159.8 L591.5 159.8 L592 159.8 L592.5 159.8 L593 159.8 L593.5 159.8 L594 159.8 L594.5 159.8 L595 159.8 L595.5 159.8 L596 159.8 L596.5 159.8 L597 159.8 L597.5 159.8 L598 159.8 L598.5 159.8 L599 159.8 L599.5 159.8 L600 159.8 L600.5 159.8 L601 159.8 L601.5 159.8 L602 159.8 L602.5 159.8 L603 159.8 L603.5 159.8 L604 159.8 L604.5 159.8 L605 159.8 L605.5 159.8 L606 159.8 L606.5 159.8 L607 159.8 L607.5 159.8 L608 159.8 L608.5 159.8 L609 159.8 L609.5 159.8 L610 159.8 L610.5 159.8 L611 159.8 L611.5 159.8 L612 159.8 L612.5 159.8 L613 159.8 L613.5 159.8 L614 159.8 L614.5 159.8 L615 159.8 L615.5 159.8 L616 159.8 L616.5 159.8 L617 159.8 L617.5 159.8 L618 159.8 L618.5 159.8 L619 159.8 L619.5 159.8 L620 159.8 L620.5 159.8 L621 159.8 L621.5 159.8 L622 159.8 L622.5 159.8 L623 159.8 L623.5 159.8 L624 159.8 L624.5 159.8 L625 159.8 L625.5 159.8 L626 159.8 L626.5 159.8 L627 159.8 L627.5 159.8 L628 159.8 L628.5 159.8 L629 159.8" fill="none" stroke="#7b71cc" stroke-width="1.1" stroke-linejoin="round" stroke-linecap="round" />
<path d="M243.5 161.4 h2 M245.17 161.4 h2 M246.84 161.4 h2 M248.51 161.39 h2 M250.18 161.39 h2 M251.85 161.38 h2 M253.52 161.37 h2 M255.19 161.36 h2 M256.86 161.35 h2 M258.53 161.33 h2 M260.2 161.31 h2 M261.87 161.23 h2 M263.54 160.83 h2 M265.21 160.16 h2 M266.88 158.58 h2 M268.55 158.87 h2 M270.22 160.2 h2 M271.89 160.94 h2 M273.56 161.37 h2 M275.23 161.33 h2 M276.9 161.11 h2 M278.57 160.82 h2 M280.24 160.26 h2 M281.91 158.51 h2 M283.58 155.74 h2 M285.25 151.79 h2 M286.92 147.96 h2 M288.59 144.73 h2 M290.26 141.94 h2 M291.93 140.71 h2 M293.6 140.33 h2 M295.27 140.12 h2 M296.94 140.1 h2 M298.61 140.1 h2 M300.28 140.1 h2 M301.95 140.1 h2 M303.62 140.1 h2 M305.29 140.1 h2 M306.96 140.1 h2 M308.63 140.1 h2 M310.3 140.1 h2 M311.97 140.1 h2 M313.64 140.1 h2 M315.31 140.1 h2 M316.98 140.1 h2 M318.65 140.1 h2 M320.32 140.1 h2 M321.99 140.1 h2 M323.66 140.09 h2 M325.33 140.09 h2 M327 140.08 h2 M328.67 140.08 h2 M330.34 140.07 h2 M332.01 140.06 h2 M333.68 140.05 h2 M335.35 140.04 h2 M337.02 140.04 h2 M338.69 140.03 h2 M340.36 140.02 h2 M342.03 140.01 h2 M343.7 140.01 h2 M345.37 140 h2 M347.04 140 h2 M348.71 140 h2 M350.38 140.02 h2 M352.05 140.08 h2 M353.72 140.18 h2 M355.39 140.53 h2 M357.06 142.3 h2 M358.73 146.23 h2 M360.4 149.41 h2 M362.07 152.35 h2 M363.74 154.88 h2 M365.41 157.17 h2 M367.08 158.86 h2 M368.75 160.09 h2 M370.42 160.9 h2 M372.09 161.05 h2 M373.76 161.12 h2 M375.43 161.16 h2 M377.1 161.19 h2 M378.77 161.2 h2 M380.44 161.2 h2 M382.11 161.2 h2 M383.78 161.2 h2 M385.45 161.2 h2 M387.12 161.2 h2 M388.79 161.2 h2 M390.46 161.2 h2 M392.13 161.2 h2 M393.8 161.2 h2 M395.47 161.2 h2 M397.14 161.2 h2 M398.81 161.2 h2 M400.48 161.2 h2 M402.15 161.2 h2 M403.82 161.2 h2 M405.49 161.2 h2 M407.16 161.2 h2 M408.83 161.2 h2 M410.5 161.2 h2 M412.17 161.2 h2 M413.84 161.2 h2 M415.51 161.2 h2 M417.18 161.2 h2 M418.85 161.2 h2 M420.52 161.2 h2 M422.19 161.2 h2 M423.86 161.2 h2 M425.53 161.2 h2 M427.2 161.2 h2 M428.87 161.2 h2 M430.54 161.2 h2 M432.21 161.2 h2 M433.88 161.2 h2 M435.55 161.2 h2 M437.22 161.2 h2 M438.89 161.2 h2 M440.56 161.2 h2 M442.23 161.2 h2 M443.9 161.2 h2 M445.57 161.2 h2 M447.24 161.2 h2 M448.91 161.2 h2 M450.58 161.2 h2 M452.25 161.2 h2 M453.92 161.2 h2 M455.59 161.2 h2 M457.26 161.2 h2 M458.93 161.2 h2 M460.6 161.2 h2 M462.27 161.2 h2 M463.94 161.2 h2 M465.61 161.2 h2 M467.28 161.2 h2 M468.95 161.2 h2 M470.62 161.2 h2 M472.29 161.2 h2 M473.96 161.2 h2 M475.63 161.2 h2 M477.3 161.2 h2 M478.97 161.2 h2 M480.64 161.2 h2 M482.31 161.2 h2 M483.98 161.2 h2 M485.65 161.2 h2 M487.32 161.2 h2 M488.99 161.2 h2 M490.66 161.2 h2 M492.33 161.2 h2 M494 161.2 h2 M495.67 161.2 h2 M497.34 161.2 h2 M499.01 161.2 h2 M500.68 161.2 h2 M502.35 161.2 h2 M504.02 161.2 h2 M505.69 161.2 h2 M507.36 161.2 h2 M509.03 161.2 h2 M510.7 161.2 h2 M512.37 161.2 h2 M514.04 161.2 h2 M515.71 161.2 h2 M517.38 161.2 h2 M519.05 161.19 h2 M520.72 161.19 h2 M522.39 161.19 h2 M524.06 161.18 h2 M525.73 161.17 h2 M527.4 161.17 h2 M529.07 161.16 h2 M530.74 161.15 h2 M532.41 161.14 h2 M534.08 161.13 h2 M535.75 161.12 h2 M537.42 161.11 h2 M539.09 161.1 h2 M540.76 161.07 h2 M542.43 161.01 h2 M544.1 160.93 h2 M545.77 160.83 h2 M547.44 160.72 h2 M549.11 160.59 h2 M550.78 160.35 h2 M552.45 159.99 h2 M554.12 159.62 h2 M555.79 159.36 h2 M557.46 159.32 h2 M559.13 159.55 h2 M560.8 159.9 h2 M562.47 160.24 h2 M564.14 160.4 h2 M565.81 160.45 h2 M567.48 160.48 h2 M569.15 160.52 h2 M570.82 160.54 h2 M572.49 160.56 h2 M574.16 160.58 h2 M575.83 160.59 h2 M577.5 160.6 h2 M579.17 160.6 h2 M580.84 160.6 h2 M582.51 160.6 h2 M584.18 160.6 h2 M585.85 160.6 h2 M587.52 160.6 h2 M589.19 160.6 h2 M590.86 160.6 h2 M592.53 160.6 h2 M594.2 160.6 h2 M595.87 160.6 h2 M597.54 160.6 h2 M599.21 160.6 h2 M600.88 160.6 h2 M602.55 160.6 h2 M604.22 160.6 h2 M605.89 160.6 h2 M607.56 160.6 h2 M609.23 160.6 h2 M610.9 160.6 h2 M612.57 160.6 h2 M614.24 160.6 h2 M615.91 160.6 h2 M617.58 160.6 h2 M619.25 160.6 h2 M620.92 160.6 h2 M622.59 160.6 h2 M624.26 160.6 h2 M625.93 160.6 h2 " stroke="#8f86d2" stroke-width="0.8" fill="none"/>
<path d="M245.2 147.09 L245.6 139.23 L246 130.41 L246.4 121.5 L246.8 112.01 L247.2 102.14 L247.6 91.51 L248 77.91 L248.4 65.38 L248.8 57.15 L249.2 50.79 L249.6 47.35 L250 44.46 L250.4 42.98 L250.8 42.04 L251.2 42.07 L251.6 41.65 L252 41.42 L252.4 40.99 L252.8 40.72 L253.2 40.13 L253.6 39.9 L254 39.76 L254.4 39.81 L254.8 39.56 L255.2 39.37 L255.6 39.22 L256 39.23 L256.4 39.19 L256.8 39.1 L257.2 38.95 L257.6 38.68 L258 38.96 L258.4 38.94 L258.8 39.1 L259.2 38.89 L259.6 39.17 L260 38.9 L260.4 38.71 L260.8 38.57 L261.2 38.81 L261.6 38.7 L262 38.44 L262.4 38.41 L262.8 38.62 L263.2 38.81 L263.6 38.54 L264 38.43 L264.4 38.43 L264.8 38.77 L265.2 38.72 L265.6 39 L266 39.21 L266.4 40.22 L266.8 42.33 L267.2 46.47 L267.6 56.06 L268 66.28 L268.4 73.99 L268.8 71.98 L269.2 67.78 L269.6 63.22 L270 57.19 L270.4 51.76 L270.8 48.62 L271.2 46.16 L271.6 44.54 L272 43.77 L272.4 43.02 L272.8 42.15 L273.2 41.36 L273.6 40.66 L274 40.19 L274.4 40.22 L274.8 40.32 L275.2 40.71 L275.6 40.57 L276 41.04 L276.4 41.28 L276.8 41.72 L277.2 41.67 L277.6 41.93 L278 42.62 L278.4 43.77 L278.8 44.94 L279.2 45.77 L279.6 46.91 L280 48.34 L280.4 50.29 L280.8 52.14 L281.2 54.01 L281.6 55.39 L282 56.96 L282.4 58.49 L282.8 60.13 L283.2 61.51 L283.6 63.41 L284 65.76 L284.4 68.21 L284.8 70.61 L285.2 72.99 L285.6 75.81 L286 78.66 L286.4 81.14 L286.8 83.96 L287.2 86.52 L287.6 89.34 L288 92.07 L288.4 94.86 L288.8 97.46 L289.2 99.75 L289.6 101.57 L290 103.06 L290.4 103.78 L290.8 104.75 L291.2 105.51 L291.6 106.53 L292 107.33 L292.4 108.15 L292.8 108.84 L293.2 109.37 L293.6 109.75 L294 110.04 L294.4 110.66 L294.8 111.18 L295.2 111.71 L295.6 111.82 L296 111.75 L296.4 111.68 L296.8 111.28 L297.2 111.65 L297.6 111.69 L298 111.84 L298.4 111.29 L298.8 111.13 L299.2 110.85 L299.6 110.88 L300 110.91 L300.4 111.19 L300.8 111.21 L301.2 111.22 L301.6 111.04 L302 111.14 L302.4 110.9 L302.8 110.92 L303.2 110.93 L303.6 110.84 L304 111.23 L304.4 111.06 L304.8 111.49 L305.2 111.03 L305.6 111.19 L306 110.7 L306.4 110.65 L306.8 110.57 L307.2 110.84 L307.6 110.83 L308 110.97 L308.4 110.74 L308.8 110.94 L309.2 110.8 L309.6 111 L310 110.7 L310.4 110.87 L310.8 110.85 L311.2 111.05 L311.6 110.64 L312 110.29 L312.4 110.14 L312.8 110.36 L313.2 110.55 L313.6 110.57 L314 110.4 L314.4 110.67 L314.8 110.78 L315.2 110.76 L315.6 110.72 L316 110.82 L316.4 110.9 L316.8 110.6 L317.2 110.28 L317.6 110.09 L318 110.09 L318.4 110.28 L318.8 110.49 L319.2 110.63 L319.6 110.68 L320 110.65 L320.4 110.4 L320.8 110.03 L321.2 109.9 L321.6 109.9 L322 110.11 L322.4 110.13 L322.8 110.08 L323.2 110 L323.6 110.01 L324 110.2 L324.4 110.26 L324.8 110.33 L325.2 110.27 L325.6 110.21 L326 110.12 L326.4 110.43 L326.8 110.47 L327.2 110.63 L327.6 110.54 L328 110.85 L328.4 110.54 L328.8 110.63 L329.2 110.41 L329.6 110.48 L330 110.13 L330.4 110.19 L330.8 110.23 L331.2 110.22 L331.6 110.31 L332 110.18 L332.4 110.04 L332.8 109.95 L333.2 110.15 L333.6 110.46 L334 110.17 L334.4 110.21 L334.8 110.1 L335.2 110.51 L335.6 110.15 L336 110.09 L336.4 109.77 L336.8 109.7 L337.2 109.55 L337.6 109.74 L338 109.89 L338.4 109.87 L338.8 109.81 L339.2 110.01 L339.6 110.25 L340 109.98 L340.4 109.8 L340.8 109.79 L341.2 109.79 L341.6 109.66 L342 109.61 L342.4 109.92 L342.8 109.83 L343.2 109.29 L343.6 108.82 L344 108.81 L344.4 109.15 L344.8 109.43 L345.2 109.53 L345.6 109.42 L346 109.31 L346.4 109.15 L346.8 109.21 L347.2 109.04 L347.6 109.54 L348 109.61 L348.4 109.53 L348.8 108.91 L349.2 108.66 L349.6 108.46 L350 108.43 L350.4 108.3 L350.8 108.6 L351.2 108.55 L351.6 108.45 L352 108.02 L352.4 107.79 L352.8 107.75 L353.2 107.75 L353.6 107.91 L354 107.6 L354.4 107.55 L354.8 107.15 L355.2 106.91 L355.6 105.88 L356 104.97 L356.4 104.46 L356.8 104.58 L357.2 104.83 L357.6 105.37 L358 106.06 L358.4 107.35 L358.8 110.65 L359.2 114.89 L359.6 118.41 L360 121.78 L360.4 124.32 L360.8 126.36 L361.2 128.19 L361.6 129.66 L362 131.2 L362.4 132.42 L362.8 133.67 L363.2 134.68 L363.6 135.78 L364 136.71 L364.4 137.44 L364.8 137.93 L365.2 138.56 L365.6 138.77 L366 139.65 L366.4 139.93 L366.8 140.84 L367.2 140.97 L367.6 141.52 L368 141.77 L368.4 142.28 L368.8 142.8 L369.2 143.33 L369.6 143.51 L370 143.65 L370.4 143.35 L370.8 143.46 L371.2 143.4 L371.6 143.47 L372 143.4 L372.4 143.41 L372.8 143.55 L373.2 143.66 L373.6 143.63 L374 143.52 L374.4 143.61 L374.8 143.46 L375.2 143.5 L375.6 143.65 L376 143.52 L376.4 143.53 L376.8 143.42 L377.2 143.59 L377.6 144.1 L378 143.62 L378.4 144.09 L378.8 143.94 L379.2 144.48 L379.6 144.23 L380 144.06 L380.4 143.79 L380.8 143.95 L381.2 143.73 L381.6 143.82 L382 143.85 L382.4 143.86 L382.8 143.85 L383.2 143.72 L383.6 143.69 L384 143.92 L384.4 143.95 L384.8 143.93 L385.2 143.75 L385.6 143.59 L386 143.72 L386.4 143.74 L386.8 143.75 L387.2 144 L387.6 143.88 L388 144.14 L388.4 143.99 L388.8 144.22 L389.2 144 L389.6 143.93 L390 143.63 L390.4 143.8 L390.8 144.02 L391.2 144.51 L391.6 144.62 L392 144.52 L392.4 144.17 L392.8 144.04 L393.2 144 L393.6 144.25 L394 144.34 L394.4 144.22 L394.8 143.9 L395.2 143.96 L395.6 144.14 L396 144.21 L396.4 144.18 L396.8 144.08 L397.2 144.07 L397.6 143.83 L398 143.59 L398.4 143.76 L398.8 143.65 L399.2 143.86 L399.6 143.62 L400 143.92 L400.4 143.99 L400.8 144.11 L401.2 143.75 L401.6 143.75 L402 143.52 L402.4 143.82 L402.8 143.89 L403.2 144.11 L403.6 144.37 L404 144.4 L404.4 144.49 L404.8 144.21 L405.2 144.1 L405.6 144.16 L406 144.3 L406.4 144.14 L406.8 144.15 L407.2 144.07 L407.6 144.41 L408 144.32 L408.4 144.06 L408.8 143.74 L409.2 143.94 L409.6 144.17 L410 144.13 L410.4 143.91 L410.8 143.82 L411.2 143.76 L411.6 143.36 L412 143.18 L412.4 143.5 L412.8 143.83 L413.2 144.04 L413.6 144.04 L414 144.14 L414.4 143.86 L414.8 143.77 L415.2 143.56 L415.6 143.69 L416 143.66 L416.4 143.76 L416.8 143.91 L417.2 143.77 L417.6 143.72 L418 144.06 L418.4 144.12 L418.8 143.94 L419.2 143.68 L419.6 143.93 L420 144.25 L420.4 144.05 L420.8 144.11 L421.2 143.92 L421.6 143.92 L422 143.68 L422.4 143.78 L422.8 144.06 L423.2 144.24 L423.6 144.26 L424 144.29 L424.4 144.21 L424.8 144.35 L425.2 144 L425.6 143.75 L426 143.73 L426.4 143.74 L426.8 143.93 L427.2 143.8 L427.6 143.93 L428 143.91 L428.4 144.13 L428.8 143.83 L429.2 144.03 L429.6 144.17 L430 144.55 L430.4 144.41 L430.8 144.18 L431.2 144.45 L431.6 144.28 L432 144.18 L432.4 143.88 L432.8 144.14 L433.2 144.15 L433.6 144.28 L434 144.13 L434.4 144.12 L434.8 143.92 L435.2 143.88 L435.6 143.85 L436 143.93 L436.4 143.86 L436.8 144.12 L437.2 144.12 L437.6 144.09 L438 144.02 L438.4 143.93 L438.8 144.21 L439.2 144.04 L439.6 144.19 L440 144.14 L440.4 144.06 L440.8 144.03 L441.2 144.31 L441.6 144.06 L442 144.06 L442.4 143.83 L442.8 144 L443.2 143.79 L443.6 144.05 L444 144.15 L444.4 144.67 L444.8 144.43 L445.2 144.49 L445.6 144.25 L446 144.27 L446.4 144.44 L446.8 144.43 L447.2 144.36 L447.6 144.21 L448 144.35 L448.4 144.45 L448.8 144.27 L449.2 143.98 L449.6 143.9 L450 143.96 L450.4 144 L450.8 143.81 L451.2 143.86 L451.6 143.98 L452 144.28 L452.4 144.32 L452.8 144.57 L453.2 144.41 L453.6 144.89 L454 144.73 L454.4 144.81 L454.8 144.26 L455.2 143.69 L455.6 143.59 L456 143.69 L456.4 144.4 L456.8 144.22 L457.2 144.48 L457.6 144.16 L458 144.47 L458.4 143.81 L458.8 143.87 L459.2 143.71 L459.6 144.19 L460 144.18 L460.4 144.07 L460.8 144.11 L461.2 144.2 L461.6 144.46 L462 144.47 L462.4 144.53 L462.8 144.44 L463.2 144.08 L463.6 143.71 L464 143.92 L464.4 144.23 L464.8 144.45 L465.2 144.19 L465.6 144.09 L466 144.07 L466.4 144.09 L466.8 143.98 L467.2 144.3 L467.6 144.39 L468 144.4 L468.4 143.88 L468.8 143.74 L469.2 143.94 L469.6 144.25 L470 144.33 L470.4 144.23 L470.8 144.07 L471.2 143.94 L471.6 144.13 L472 144.23 L472.4 144.77 L472.8 144.46 L473.2 144.38 L473.6 144.14 L474 144.22 L474.4 144.03 L474.8 143.76 L475.2 143.81 L475.6 144.07 L476 144.2 L476.4 144.34 L476.8 144.44 L477.2 144.5 L477.6 144.35 L478 144.17 L478.4 144.2 L478.8 144.34 L479.2 144.38 L479.6 144.37 L480 144.18 L480.4 143.96 L480.8 143.75 L481.2 143.91 L481.6 144.19 L482 144.58 L482.4 144.47 L482.8 144.54 L483.2 144.5 L483.6 144.64 L484 144.42 L484.4 144.19 L484.8 144.06 L485.2 144.01 L485.6 144.11 L486 144.24 L486.4 144.32 L486.8 144.54 L487.2 144.35 L487.6 144.39 L488 144.06 L488.4 144 L488.8 144.09 L489.2 144.13 L489.6 144.49 L490 144.52 L490.4 144.59 L490.8 144.31 L491.2 144.01 L491.6 143.92 L492 143.82 L492.4 144.18 L492.8 144.19 L493.2 144.57 L493.6 144.53 L494 144.66 L494.4 144.45 L494.8 144.37 L495.2 144.34 L495.6 144.45 L496 144.31 L496.4 144.29 L496.8 144.54 L497.2 144.64 L497.6 144.52 L498 144.03 L498.4 143.82 L498.8 144.04 L499.2 144.16 L499.6 144.42 L500 144.52 L500.4 144.88 L500.8 144.71 L501.2 144.59 L501.6 144.31 L502 144.5 L502.4 144.41 L502.8 144.32 L503.2 144.5 L503.6 144.52 L504 144.57 L504.4 144.52 L504.8 144.57 L505.2 144.58 L505.6 144.45 L506 144.58 L506.4 144.58 L506.8 144.52 L507.2 144.13 L507.6 144 L508 143.86 L508.4 144 L508.8 144.1 L509.2 143.95 L509.6 143.93 L510 143.99 L510.4 144.33 L510.8 144.18 L511.2 144.27 L511.6 144.25" fill="none" stroke="#b8e2d3" stroke-width="1.8" stroke-linejoin="round" stroke-linecap="round" />
<path d="M245.2 146.19 L245.6 138.33 L246 129.51 L246.4 120.6 L246.8 111.11 L247.2 101.24 L247.6 90.61 L248 77.01 L248.4 64.48 L248.8 56.25 L249.2 49.89 L249.6 46.45 L250 43.56 L250.4 42.08 L250.8 41.14 L251.2 41.17 L251.6 40.75 L252 40.52 L252.4 40.09 L252.8 39.82 L253.2 39.23 L253.6 39 L254 38.86 L254.4 38.91 L254.8 38.66 L255.2 38.47 L255.6 38.32 L256 38.33 L256.4 38.29 L256.8 38.2 L257.2 38.05 L257.6 37.78 L258 38.06 L258.4 38.04 L258.8 38.2 L259.2 37.99 L259.6 38.27 L260 38 L260.4 37.81 L260.8 37.67 L261.2 37.91 L261.6 37.8 L262 37.54 L262.4 37.51 L262.8 37.72 L263.2 37.91 L263.6 37.64 L264 37.53 L264.4 37.53 L264.8 37.87 L265.2 37.82 L265.6 38.1 L266 38.31 L266.4 39.32 L266.8 41.43 L267.2 45.57 L267.6 55.16 L268 65.38 L268.4 73.09 L268.8 71.08 L269.2 66.88 L269.6 62.32 L270 56.29 L270.4 50.86 L270.8 47.72 L271.2 45.26 L271.6 43.64 L272 42.87 L272.4 42.12 L272.8 41.25 L273.2 40.46 L273.6 39.76 L274 39.29 L274.4 39.32 L274.8 39.42 L275.2 39.81 L275.6 39.67 L276 40.14 L276.4 40.38 L276.8 40.82 L277.2 40.77 L277.6 41.03 L278 41.72 L278.4 42.87 L278.8 44.04 L279.2 44.87 L279.6 46.01 L280 47.44 L280.4 49.39 L280.8 51.24 L281.2 53.11 L281.6 54.49 L282 56.06 L282.4 57.59 L282.8 59.23 L283.2 60.61 L283.6 62.51 L284 64.86 L284.4 67.31 L284.8 69.71 L285.2 72.09 L285.6 74.91 L286 77.76 L286.4 80.24 L286.8 83.06 L287.2 85.62 L287.6 88.44 L288 91.17 L288.4 93.96 L288.8 96.56 L289.2 98.85 L289.6 100.67 L290 102.16 L290.4 102.88 L290.8 103.85 L291.2 104.61 L291.6 105.63 L292 106.43 L292.4 107.25 L292.8 107.94 L293.2 108.47 L293.6 108.85 L294 109.14 L294.4 109.76 L294.8 110.28 L295.2 110.81 L295.6 110.92 L296 110.85 L296.4 110.78 L296.8 110.38 L297.2 110.75 L297.6 110.79 L298 110.94 L298.4 110.39 L298.8 110.23 L299.2 109.95 L299.6 109.98 L300 110.01 L300.4 110.29 L300.8 110.31 L301.2 110.32 L301.6 110.14 L302 110.24 L302.4 110 L302.8 110.02 L303.2 110.03 L303.6 109.94 L304 110.33 L304.4 110.16 L304.8 110.59 L305.2 110.13 L305.6 110.29 L306 109.8 L306.4 109.75 L306.8 109.67 L307.2 109.94 L307.6 109.93 L308 110.07 L308.4 109.84 L308.8 110.04 L309.2 109.9 L309.6 110.1 L310 109.8 L310.4 109.97 L310.8 109.95 L311.2 110.15 L311.6 109.74 L312 109.39 L312.4 109.24 L312.8 109.46 L313.2 109.65 L313.6 109.67 L314 109.5 L314.4 109.77 L314.8 109.88 L315.2 109.86 L315.6 109.82 L316 109.92 L316.4 110 L316.8 109.7 L317.2 109.38 L317.6 109.19 L318 109.19 L318.4 109.38 L318.8 109.59 L319.2 109.73 L319.6 109.78 L320 109.75 L320.4 109.5 L320.8 109.13 L321.2 109 L321.6 109 L322 109.21 L322.4 109.23 L322.8 109.18 L323.2 109.1 L323.6 109.11 L324 109.3 L324.4 109.36 L324.8 109.43 L325.2 109.37 L325.6 109.31 L326 109.22 L326.4 109.53 L326.8 109.57 L327.2 109.73 L327.6 109.64 L328 109.95 L328.4 109.64 L328.8 109.73 L329.2 109.51 L329.6 109.58 L330 109.23 L330.4 109.29 L330.8 109.33 L331.2 109.32 L331.6 109.41 L332 109.28 L332.4 109.14 L332.8 109.05 L333.2 109.25 L333.6 109.56 L334 109.27 L334.4 109.31 L334.8 109.2 L335.2 109.61 L335.6 109.25 L336 109.19 L336.4 108.87 L336.8 108.8 L337.2 108.65 L337.6 108.84 L338 108.99 L338.4 108.97 L338.8 108.91 L339.2 109.11 L339.6 109.35 L340 109.08 L340.4 108.9 L340.8 108.89 L341.2 108.89 L341.6 108.76 L342 108.71 L342.4 109.02 L342.8 108.93 L343.2 108.39 L343.6 107.92 L344 107.91 L344.4 108.25 L344.8 108.53 L345.2 108.63 L345.6 108.52 L346 108.41 L346.4 108.25 L346.8 108.31 L347.2 108.14 L347.6 108.64 L348 108.71 L348.4 108.63 L348.8 108.01 L349.2 107.76 L349.6 107.56 L350 107.53 L350.4 107.4 L350.8 107.7 L351.2 107.65 L351.6 107.55 L352 107.12 L352.4 106.89 L352.8 106.85 L353.2 106.85 L353.6 107.01 L354 106.7 L354.4 106.65 L354.8 106.25 L355.2 106.01 L355.6 104.98 L356 104.07 L356.4 103.56 L356.8 103.68 L357.2 103.93 L357.6 104.47 L358 105.16 L358.4 106.45 L358.8 109.75 L359.2 113.99 L359.6 117.51 L360 120.88 L360.4 123.42 L360.8 125.46 L361.2 127.29 L361.6 128.76 L362 130.3 L362.4 131.52 L362.8 132.77 L363.2 133.78 L363.6 134.88 L364 135.81 L364.4 136.54 L364.8 137.03 L365.2 137.66 L365.6 137.87 L366 138.75 L366.4 139.03 L366.8 139.94 L367.2 140.07 L367.6 140.62 L368 140.87 L368.4 141.38 L368.8 141.9 L369.2 142.43 L369.6 142.61 L370 142.75 L370.4 142.45 L370.8 142.56 L371.2 142.5 L371.6 142.57 L372 142.5 L372.4 142.51 L372.8 142.65 L373.2 142.76 L373.6 142.73 L374 142.62 L374.4 142.71 L374.8 142.56 L375.2 142.6 L375.6 142.75 L376 142.62 L376.4 142.63 L376.8 142.52 L377.2 142.69 L377.6 143.2 L378 142.72 L378.4 143.19 L378.8 143.04 L379.2 143.58 L379.6 143.33 L380 143.16 L380.4 142.89 L380.8 143.05 L381.2 142.83 L381.6 142.92 L382 142.95 L382.4 142.96 L382.8 142.95 L383.2 142.82 L383.6 142.79 L384 143.02 L384.4 143.05 L384.8 143.03 L385.2 142.85 L385.6 142.69 L386 142.82 L386.4 142.84 L386.8 142.85 L387.2 143.1 L387.6 142.98 L388 143.24 L388.4 143.09 L388.8 143.32 L389.2 143.1 L389.6 143.03 L390 142.73 L390.4 142.9 L390.8 143.12 L391.2 143.61 L391.6 143.72 L392 143.62 L392.4 143.27 L392.8 143.14 L393.2 143.1 L393.6 143.35 L394 143.44 L394.4 143.32 L394.8 143 L395.2 143.06 L395.6 143.24 L396 143.31 L396.4 143.28 L396.8 143.18 L397.2 143.17 L397.6 142.93 L398 142.69 L398.4 142.86 L398.8 142.75 L399.2 142.96 L399.6 142.72 L400 143.02 L400.4 143.09 L400.8 143.21 L401.2 142.85 L401.6 142.85 L402 142.62 L402.4 142.92 L402.8 142.99 L403.2 143.21 L403.6 143.47 L404 143.5 L404.4 143.59 L404.8 143.31 L405.2 143.2 L405.6 143.26 L406 143.4 L406.4 143.24 L406.8 143.25 L407.2 143.17 L407.6 143.51 L408 143.42 L408.4 143.16 L408.8 142.84 L409.2 143.04 L409.6 143.27 L410 143.23 L410.4 143.01 L410.8 142.92 L411.2 142.86 L411.6 142.46 L412 142.28 L412.4 142.6 L412.8 142.93 L413.2 143.14 L413.6 143.14 L414 143.24 L414.4 142.96 L414.8 142.87 L415.2 142.66 L415.6 142.79 L416 142.76 L416.4 142.86 L416.8 143.01 L417.2 142.87 L417.6 142.82 L418 143.16 L418.4 143.22 L418.8 143.04 L419.2 142.78 L419.6 143.03 L420 143.35 L420.4 143.15 L420.8 143.21 L421.2 143.02 L421.6 143.02 L422 142.78 L422.4 142.88 L422.8 143.16 L423.2 143.34 L423.6 143.36 L424 143.39 L424.4 143.31 L424.8 143.45 L425.2 143.1 L425.6 142.85 L426 142.83 L426.4 142.84 L426.8 143.03 L427.2 142.9 L427.6 143.03 L428 143.01 L428.4 143.23 L428.8 142.93 L429.2 143.13 L429.6 143.27 L430 143.65 L430.4 143.51 L430.8 143.28 L431.2 143.55 L431.6 143.38 L432 143.28 L432.4 142.98 L432.8 143.24 L433.2 143.25 L433.6 143.38 L434 143.23 L434.4 143.22 L434.8 143.02 L435.2 142.98 L435.6 142.95 L436 143.03 L436.4 142.96 L436.8 143.22 L437.2 143.22 L437.6 143.19 L438 143.12 L438.4 143.03 L438.8 143.31 L439.2 143.14 L439.6 143.29 L440 143.24 L440.4 143.16 L440.8 143.13 L441.2 143.41 L441.6 143.16 L442 143.16 L442.4 142.93 L442.8 143.1 L443.2 142.89 L443.6 143.15 L444 143.25 L444.4 143.77 L444.8 143.53 L445.2 143.59 L445.6 143.35 L446 143.37 L446.4 143.54 L446.8 143.53 L447.2 143.46 L447.6 143.31 L448 143.45 L448.4 143.55 L448.8 143.37 L449.2 143.08 L449.6 143 L450 143.06 L450.4 143.1 L450.8 142.91 L451.2 142.96 L451.6 143.08 L452 143.38 L452.4 143.42 L452.8 143.67 L453.2 143.51 L453.6 143.99 L454 143.83 L454.4 143.91 L454.8 143.36 L455.2 142.79 L455.6 142.69 L456 142.79 L456.4 143.5 L456.8 143.32 L457.2 143.58 L457.6 143.26 L458 143.57 L458.4 142.91 L458.8 142.97 L459.2 142.81 L459.6 143.29 L460 143.28 L460.4 143.17 L460.8 143.21 L461.2 143.3 L461.6 143.56 L462 143.57 L462.4 143.63 L462.8 143.54 L463.2 143.18 L463.6 142.81 L464 143.02 L464.4 143.33 L464.8 143.55 L465.2 143.29 L465.6 143.19 L466 143.17 L466.4 143.19 L466.8 143.08 L467.2 143.4 L467.6 143.49 L468 143.5 L468.4 142.98 L468.8 142.84 L469.2 143.04 L469.6 143.35 L470 143.43 L470.4 143.33 L470.8 143.17 L471.2 143.04 L471.6 143.23 L472 143.33 L472.4 143.87 L472.8 143.56 L473.2 143.48 L473.6 143.24 L474 143.32 L474.4 143.13 L474.8 142.86 L475.2 142.91 L475.6 143.17 L476 143.3 L476.4 143.44 L476.8 143.54 L477.2 143.6 L477.6 143.45 L478 143.27 L478.4 143.3 L478.8 143.44 L479.2 143.48 L479.6 143.47 L480 143.28 L480.4 143.06 L480.8 142.85 L481.2 143.01 L481.6 143.29 L482 143.68 L482.4 143.57 L482.8 143.64 L483.2 143.6 L483.6 143.74 L484 143.52 L484.4 143.29 L484.8 143.16 L485.2 143.11 L485.6 143.21 L486 143.34 L486.4 143.42 L486.8 143.64 L487.2 143.45 L487.6 143.49 L488 143.16 L488.4 143.1 L488.8 143.19 L489.2 143.23 L489.6 143.59 L490 143.62 L490.4 143.69 L490.8 143.41 L491.2 143.11 L491.6 143.02 L492 142.92 L492.4 143.28 L492.8 143.29 L493.2 143.67 L493.6 143.63 L494 143.76 L494.4 143.55 L494.8 143.47 L495.2 143.44 L495.6 143.55 L496 143.41 L496.4 143.39 L496.8 143.64 L497.2 143.74 L497.6 143.62 L498 143.13 L498.4 142.92 L498.8 143.14 L499.2 143.26 L499.6 143.52 L500 143.62 L500.4 143.98 L500.8 143.81 L501.2 143.69 L501.6 143.41 L502 143.6 L502.4 143.51 L502.8 143.42 L503.2 143.6 L503.6 143.62 L504 143.67 L504.4 143.62 L504.8 143.67 L505.2 143.68 L505.6 143.55 L506 143.68 L506.4 143.68 L506.8 143.62 L507.2 143.23 L507.6 143.1 L508 142.96 L508.4 143.1 L508.8 143.2 L509.2 143.05 L509.6 143.03 L510 143.09 L510.4 143.43 L510.8 143.28 L511.2 143.37 L511.6 143.35" fill="none" stroke="#22a07a" stroke-width="1.25" stroke-linejoin="round" stroke-linecap="round" />
<path d="M245.4 141.06 L247 143.96 L243.8 143.96 Z M247.07 103.25 L248.67 106.15 L245.47 106.15 Z M248.74 56.29 L250.34 59.19 L247.14 59.19 Z M250.41 40.85 L252.01 43.75 L248.81 43.75 Z M252.08 39.24 L253.68 42.14 L250.48 42.14 Z M253.75 37.75 L255.35 40.65 L252.15 40.65 Z M255.42 37.19 L257.02 40.09 L253.82 40.09 Z M257.09 36.89 L258.69 39.79 L255.49 39.79 Z M258.76 36.98 L260.36 39.88 L257.16 39.88 Z M260.43 36.6 L262.03 39.5 L258.83 39.5 Z M262.1 36.33 L263.7 39.23 L260.5 39.23 Z M263.77 36.39 L265.37 39.29 L262.17 39.29 Z M265.44 36.79 L267.04 39.69 L263.84 39.69 Z M267.11 43.44 L268.71 46.34 L265.51 46.34 Z M268.78 69.98 L270.38 72.88 L267.18 72.88 Z M270.45 49.27 L272.05 52.17 L268.85 52.17 Z M272.12 41.44 L273.72 44.34 L270.52 44.34 Z M273.79 38.33 L275.39 41.23 L272.19 41.23 Z M275.46 38.52 L277.06 41.42 L273.86 41.42 Z M277.13 39.58 L278.73 42.48 L275.53 42.48 Z M278.8 42.84 L280.4 45.74 L277.2 45.74 Z M280.47 48.51 L282.07 51.41 L278.87 51.41 Z M282.14 55.4 L283.74 58.3 L280.54 58.3 Z M283.81 62.54 L285.41 65.44 L282.21 65.44 Z M285.48 72.87 L287.08 75.77 L283.88 75.77 Z M287.15 84.1 L288.75 87 L285.55 87 Z M288.82 95.48 L290.42 98.38 L287.22 98.38 Z M290.49 101.9 L292.09 104.8 L288.89 104.8 Z M292.16 105.56 L293.76 108.46 L290.56 108.46 Z M293.83 107.82 L295.43 110.72 L292.23 110.72 Z M295.5 109.69 L297.1 112.59 L293.9 112.59 Z M297.17 109.52 L298.77 112.42 L295.57 112.42 Z M298.84 109 L300.44 111.9 L297.24 111.9 Z M300.51 109.09 L302.11 111.99 L298.91 111.99 Z M302.18 108.93 L303.78 111.83 L300.58 111.83 Z M303.85 108.98 L305.45 111.88 L302.25 111.88 Z M305.52 109.06 L307.12 111.96 L303.92 111.96 Z M307.19 108.73 L308.79 111.63 L305.59 111.63 Z M308.86 108.82 L310.46 111.72 L307.26 111.72 Z M310.53 108.77 L312.13 111.67 L308.93 111.67 Z M312.2 108.11 L313.8 111.01 L310.6 111.01 Z M313.87 108.36 L315.47 111.26 L312.27 111.26 Z M315.54 108.62 L317.14 111.52 L313.94 111.52 Z M317.21 108.18 L318.81 111.08 L315.61 111.08 Z M318.88 108.42 L320.48 111.32 L317.28 111.32 Z M320.55 108.16 L322.15 111.06 L318.95 111.06 Z M322.22 108.02 L323.82 110.92 L320.62 110.92 Z M323.89 108.05 L325.49 110.95 L322.29 110.95 Z M325.56 108.11 L327.16 111.01 L323.96 111.01 Z M327.23 108.52 L328.83 111.42 L325.63 111.42 Z M328.9 108.47 L330.5 111.37 L327.3 111.37 Z M330.57 108.11 L332.17 111.01 L328.97 111.01 Z M332.24 108 L333.84 110.9 L330.64 110.9 Z M333.91 108.13 L335.51 111.03 L332.31 111.03 Z M335.58 108.07 L337.18 110.97 L333.98 110.97 Z M337.25 107.47 L338.85 110.37 L335.65 110.37 Z M338.92 107.77 L340.52 110.67 L337.32 110.67 Z M340.59 107.7 L342.19 110.6 L338.99 110.6 Z M342.26 107.71 L343.86 110.61 L340.66 110.61 Z M343.93 106.71 L345.53 109.61 L342.33 109.61 Z M345.6 107.32 L347.2 110.22 L344 110.22 Z M347.27 107.03 L348.87 109.93 L345.67 109.93 Z M348.94 106.72 L350.54 109.62 L347.34 109.62 Z M350.61 106.36 L352.21 109.26 L349.01 109.26 Z M352.28 105.76 L353.88 108.66 L350.68 108.66 Z M353.95 105.54 L355.55 108.44 L352.35 108.44 Z M355.62 103.73 L357.22 106.63 L354.02 106.63 Z M357.29 102.85 L358.89 105.75 L355.69 105.75 Z M358.96 110.25 L360.56 113.15 L357.36 113.15 Z M360.63 123.39 L362.23 126.29 L359.03 126.29 Z M362.3 130.02 L363.9 132.92 L360.7 132.92 Z M363.97 134.54 L365.57 137.44 L362.37 137.44 Z M365.64 136.76 L367.24 139.66 L364.04 139.66 Z M367.31 139.02 L368.91 141.92 L365.71 141.92 Z M368.98 140.94 L370.58 143.84 L367.38 143.84 Z M370.65 141.32 L372.25 144.22 L369.05 144.22 Z M372.32 141.31 L373.92 144.21 L370.72 144.21 Z M373.99 141.43 L375.59 144.33 L372.39 144.33 Z M375.66 141.53 L377.26 144.43 L374.06 144.43 Z M377.33 141.66 L378.93 144.56 L375.73 144.56 Z M379 142.11 L380.6 145.01 L377.4 145.01 Z M380.67 141.79 L382.27 144.69 L379.07 144.69 Z M382.34 141.76 L383.94 144.66 L380.74 144.66 Z M384.01 141.83 L385.61 144.73 L382.41 144.73 Z M385.68 141.51 L387.28 144.41 L384.08 144.41 Z M387.35 141.85 L388.95 144.75 L385.75 144.75 Z M389.02 142 L390.62 144.9 L387.42 144.9 Z M390.69 141.86 L392.29 144.76 L389.09 144.76 Z M392.36 142.11 L393.96 145.01 L390.76 145.01 Z M394.03 142.23 L395.63 145.13 L392.43 145.13 Z M395.7 142.05 L397.3 144.95 L394.1 144.95 Z M397.37 141.87 L398.97 144.77 L395.77 144.77 Z M399.04 141.68 L400.64 144.58 L397.44 144.58 Z M400.71 141.98 L402.31 144.88 L399.11 144.88 Z M402.38 141.71 L403.98 144.61 L400.78 144.61 Z M404.05 142.31 L405.65 145.21 L402.45 145.21 Z M405.72 142.1 L407.32 145 L404.12 145 Z M407.39 142.13 L408.99 145.03 L405.79 145.03 Z M409.06 141.77 L410.66 144.67 L407.46 144.67 Z M410.73 141.74 L412.33 144.64 L409.13 144.64 Z M412.4 141.4 L414 144.3 L410.8 144.3 Z M414.07 141.99 L415.67 144.89 L412.47 144.89 Z M415.74 141.58 L417.34 144.48 L414.14 144.48 Z M417.41 141.64 L419.01 144.54 L415.81 144.54 Z M419.08 141.66 L420.68 144.56 L417.48 144.56 Z M420.75 142 L422.35 144.9 L419.15 144.9 Z M422.42 141.69 L424.02 144.59 L420.82 144.59 Z M424.09 142.17 L425.69 145.07 L422.49 145.07 Z M425.76 141.64 L427.36 144.54 L424.16 144.54 Z M427.43 141.77 L429.03 144.67 L425.83 144.67 Z M429.1 141.88 L430.7 144.78 L427.5 144.78 Z M430.77 142.1 L432.37 145 L429.17 145 Z M432.44 141.81 L434.04 144.71 L430.84 144.71 Z M434.11 142.03 L435.71 144.93 L432.51 144.93 Z M435.78 141.79 L437.38 144.69 L434.18 144.69 Z M437.45 142 L439.05 144.9 L435.85 144.9 Z M439.12 141.98 L440.72 144.88 L437.52 144.88 Z M440.79 141.93 L442.39 144.83 L439.19 144.83 Z M442.46 141.75 L444.06 144.65 L440.86 144.65 Z M444.13 142.22 L445.73 145.12 L442.53 145.12 Z M445.8 142.16 L447.4 145.06 L444.2 145.06 Z M447.47 142.16 L449.07 145.06 L445.87 145.06 Z M449.14 141.92 L450.74 144.82 L447.54 144.82 Z M450.81 141.71 L452.41 144.61 L449.21 144.61 Z M452.48 142.27 L454.08 145.17 L450.88 145.17 Z M454.15 142.66 L455.75 145.56 L452.55 145.56 Z M455.82 141.55 L457.42 144.45 L454.22 144.45 Z M457.49 142.15 L459.09 145.05 L455.89 145.05 Z M459.16 141.62 L460.76 144.52 L457.56 144.52 Z M460.83 142.01 L462.43 144.91 L459.23 144.91 Z M462.5 142.41 L464.1 145.31 L460.9 145.31 Z M464.17 141.95 L465.77 144.85 L462.57 144.85 Z M465.84 141.98 L467.44 144.88 L464.24 144.88 Z M467.51 142.27 L469.11 145.17 L465.91 145.17 Z M469.18 141.83 L470.78 144.73 L467.58 144.73 Z M470.85 141.95 L472.45 144.85 L469.25 144.85 Z M472.52 142.57 L474.12 145.47 L470.92 145.47 Z M474.19 142.03 L475.79 144.93 L472.59 144.93 Z M475.86 142.06 L477.46 144.96 L474.26 144.96 Z M477.53 142.28 L479.13 145.18 L475.93 145.18 Z M479.2 142.28 L480.8 145.18 L477.6 145.18 Z M480.87 141.68 L482.47 144.58 L479.27 144.58 Z M482.54 142.4 L484.14 145.3 L480.94 145.3 Z M484.21 142.2 L485.81 145.1 L482.61 145.1 Z M485.88 142.1 L487.48 145 L484.28 145 Z M487.55 142.29 L489.15 145.19 L485.95 145.19 Z M489.22 142.05 L490.82 144.95 L487.62 144.95 Z M490.89 142.14 L492.49 145.04 L489.29 145.04 Z M492.56 142.08 L494.16 144.98 L490.96 144.98 Z M494.23 142.44 L495.83 145.34 L492.63 145.34 Z M495.9 142.25 L497.5 145.15 L494.3 145.15 Z M497.57 142.43 L499.17 145.33 L495.97 145.33 Z M499.24 142.08 L500.84 144.98 L497.64 144.98 Z M500.91 142.57 L502.51 145.47 L499.31 145.47 Z M502.58 142.27 L504.18 145.17 L500.98 145.17 Z M504.25 142.44 L505.85 145.34 L502.65 145.34 Z M505.92 142.45 L507.52 145.35 L504.32 145.35 Z M507.59 141.91 L509.19 144.81 L505.99 144.81 Z M509.26 141.84 L510.86 144.74 L507.66 144.74 Z M510.93 142.11 L512.53 145.01 L509.33 145.01 Z " fill="none" stroke="#2fa27d" stroke-width="0.7"/>
<path d="M512.3 143.91 L512.7 137.57 L513.1 126.89 L513.5 112.26 L513.9 90.69 L514.3 74.56 L514.7 64.34 L515.1 59.53 L515.5 55.41 L515.9 51.18 L516.3 47.22 L516.7 44.63 L517.1 42.49 L517.5 41.19 L517.9 40.23 L518.3 39.18 L518.7 38.39 L519.1 37.88 L519.5 37.95 L519.9 38.11 L520.3 37.98 L520.7 37.89 L521.1 37.66 L521.5 37.96 L521.9 37.86 L522.3 37.85 L522.7 37.76 L523.1 37.59 L523.5 37.54 L523.9 37.22 L524.3 37.4 L524.7 37.56 L525.1 37.79 L525.5 37.72 L525.9 37.97 L526.3 37.94 L526.7 37.92 L527.1 37.92 L527.5 38.22 L527.9 38.4 L528.3 37.97 L528.7 37.68 L529.1 37.73 L529.5 38 L529.9 38.33 L530.3 38.03 L530.7 38.12 L531.1 37.77 L531.5 38.15 L531.9 38.01 L532.3 38.22 L532.7 37.88 L533.1 37.63 L533.5 37.26 L533.9 37.21 L534.3 37.21 L534.7 37.49 L535.1 37.72 L535.5 37.85 L535.9 37.45 L536.3 37.17 L536.7 36.96 L537.1 37.27 L537.5 37.27 L537.9 37.39 L538.3 37.06 L538.7 36.65 L539.1 36.41 L539.5 36.26 L539.9 36.58 L540.3 36.67 L540.7 36.69 L541.1 36.56 L541.5 36.76 L541.9 36.73 L542.3 36.66 L542.7 36.43 L543.1 36.53 L543.5 36.69 L543.9 36.92 L544.3 37.41 L544.7 37.36 L545.1 37.44 L545.5 37.36 L545.9 37.79 L546.3 37.96 L546.7 38.1 L547.1 38.46 L547.5 38.62 L547.9 38.85 L548.3 38.89 L548.7 39.16 L549.1 39.33 L549.5 39.66 L549.9 39.82 L550.3 40.05 L550.7 40.08 L551.1 40.12 L551.5 40.17 L551.9 40.23 L552.3 40.62 L552.7 40.86 L553.1 41.09 L553.5 41.34 L553.9 41.8 L554.3 42.04 L554.7 42.67 L555.1 43.04 L555.5 43.73 L555.9 44.04 L556.3 44.39 L556.7 44.56 L557.1 44.84 L557.5 44.65 L557.9 44.61 L558.3 44.23 L558.7 44 L559.1 43.74 L559.5 43.4 L559.9 43.65 L560.3 43.29 L560.7 43.02 L561.1 42.54 L561.5 42.46 L561.9 42.06 L562.3 41.79 L562.7 41.58 L563.1 41.63 L563.5 41.57 L563.9 41.57 L564.3 41.46 L564.7 41.25 L565.1 40.86 L565.5 40.72 L565.9 40.64 L566.3 40.69 L566.7 40.68 L567.1 40.47 L567.5 40.72 L567.9 40.98 L568.3 41 L568.7 40.79 L569.1 40.38 L569.5 40.58 L569.9 40.53 L570.3 40.52 L570.7 40.24 L571.1 40.13 L571.5 39.9 L571.9 39.96 L572.3 39.76 L572.7 39.92 L573.1 39.76 L573.5 39.96 L573.9 39.8 L574.3 39.86 L574.7 39.49 L575.1 39.51 L575.5 39.25 L575.9 39.35 L576.3 39.2 L576.7 39.32 L577.1 38.92 L577.5 38.91 L577.9 38.49 L578.3 38.93 L578.7 38.55 L579.1 38.59 L579.5 38.13 L579.9 38.65 L580.3 38.59 L580.7 38.84 L581.1 38.5 L581.5 38.41 L581.9 38.33 L582.3 38.49 L582.7 38.72 L583.1 38.9 L583.5 38.73 L583.9 38.75 L584.3 38.54 L584.7 38.63 L585.1 38.9 L585.5 39.01 L585.9 38.97 L586.3 38.58 L586.7 38.4 L587.1 38.58 L587.5 38.5 L587.9 38.47 L588.3 38.22 L588.7 38.32 L589.1 38.74 L589.5 38.39 L589.9 38.5 L590.3 38.3 L590.7 38.48 L591.1 38.32 L591.5 38.28 L591.9 38.68 L592.3 38.63 L592.7 38.33 L593.1 38.22 L593.5 38.58 L593.9 38.76 L594.3 38.28 L594.7 38.27 L595.1 38.28 L595.5 38.78 L595.9 38.55 L596.3 38.52 L596.7 38.28 L597.1 38.51 L597.5 38.78 L597.9 38.52 L598.3 38.16 L598.7 38.21 L599.1 38.47 L599.5 38.41 L599.9 38.14 L600.3 38.18 L600.7 38.37 L601.1 38.3 L601.5 38.27 L601.9 38.21 L602.3 38.34 L602.7 38.26 L603.1 38.28 L603.5 38.21 L603.9 38.53 L604.3 38.63 L604.7 38.64 L605.1 38.52 L605.5 38.53 L605.9 38.71 L606.3 38.7 L606.7 38.91 L607.1 38.95 L607.5 38.87 L607.9 38.54 L608.3 38.47 L608.7 38.55 L609.1 38.6 L609.5 38.25 L609.9 37.89 L610.3 37.96 L610.7 38.3 L611.1 38.69 L611.5 38.45 L611.9 38.49 L612.3 38.29 L612.7 38.54 L613.1 38.45 L613.5 38.41 L613.9 38.27 L614.3 37.89 L614.7 37.88 L615.1 37.7 L615.5 38.07 L615.9 38.22 L616.3 38.63 L616.7 38.62 L617.1 38.52 L617.5 38.43 L617.9 38.32 L618.3 38.51 L618.7 38.51 L619.1 38.42 L619.5 38.33 L619.9 38.3 L620.3 38.4 L620.7 38.54 L621.1 38.79 L621.5 38.78 L621.9 38.6 L622.3 38.01 L622.7 38.04 L623.1 38.03 L623.5 38.05 L623.9 38.12 L624.3 38.27 L624.7 38.49 L625.1 38.39 L625.5 38.16 L625.9 38.39 L626.3 38.22 L626.7 38.33 L627.1 38.51 L627.5 38.75 L627.9 38.8" fill="none" stroke="#b8e2d3" stroke-width="1.8" stroke-linejoin="round" stroke-linecap="round" />
<path d="M512.3 143.01 L512.7 136.67 L513.1 125.99 L513.5 111.36 L513.9 89.79 L514.3 73.66 L514.7 63.44 L515.1 58.63 L515.5 54.51 L515.9 50.28 L516.3 46.32 L516.7 43.73 L517.1 41.59 L517.5 40.29 L517.9 39.33 L518.3 38.28 L518.7 37.49 L519.1 36.98 L519.5 37.05 L519.9 37.21 L520.3 37.08 L520.7 36.99 L521.1 36.76 L521.5 37.06 L521.9 36.96 L522.3 36.95 L522.7 36.86 L523.1 36.69 L523.5 36.64 L523.9 36.32 L524.3 36.5 L524.7 36.66 L525.1 36.89 L525.5 36.82 L525.9 37.07 L526.3 37.04 L526.7 37.02 L527.1 37.02 L527.5 37.32 L527.9 37.5 L528.3 37.07 L528.7 36.78 L529.1 36.83 L529.5 37.1 L529.9 37.43 L530.3 37.13 L530.7 37.22 L531.1 36.87 L531.5 37.25 L531.9 37.11 L532.3 37.32 L532.7 36.98 L533.1 36.73 L533.5 36.36 L533.9 36.31 L534.3 36.31 L534.7 36.59 L535.1 36.82 L535.5 36.95 L535.9 36.55 L536.3 36.27 L536.7 36.06 L537.1 36.37 L537.5 36.37 L537.9 36.49 L538.3 36.16 L538.7 35.75 L539.1 35.51 L539.5 35.36 L539.9 35.68 L540.3 35.77 L540.7 35.79 L541.1 35.66 L541.5 35.86 L541.9 35.83 L542.3 35.76 L542.7 35.53 L543.1 35.63 L543.5 35.79 L543.9 36.02 L544.3 36.51 L544.7 36.46 L545.1 36.54 L545.5 36.46 L545.9 36.89 L546.3 37.06 L546.7 37.2 L547.1 37.56 L547.5 37.72 L547.9 37.95 L548.3 37.99 L548.7 38.26 L549.1 38.43 L549.5 38.76 L549.9 38.92 L550.3 39.15 L550.7 39.18 L551.1 39.22 L551.5 39.27 L551.9 39.33 L552.3 39.72 L552.7 39.96 L553.1 40.19 L553.5 40.44 L553.9 40.9 L554.3 41.14 L554.7 41.77 L555.1 42.14 L555.5 42.83 L555.9 43.14 L556.3 43.49 L556.7 43.66 L557.1 43.94 L557.5 43.75 L557.9 43.71 L558.3 43.33 L558.7 43.1 L559.1 42.84 L559.5 42.5 L559.9 42.75 L560.3 42.39 L560.7 42.12 L561.1 41.64 L561.5 41.56 L561.9 41.16 L562.3 40.89 L562.7 40.68 L563.1 40.73 L563.5 40.67 L563.9 40.67 L564.3 40.56 L564.7 40.35 L565.1 39.96 L565.5 39.82 L565.9 39.74 L566.3 39.79 L566.7 39.78 L567.1 39.57 L567.5 39.82 L567.9 40.08 L568.3 40.1 L568.7 39.89 L569.1 39.48 L569.5 39.68 L569.9 39.63 L570.3 39.62 L570.7 39.34 L571.1 39.23 L571.5 39 L571.9 39.06 L572.3 38.86 L572.7 39.02 L573.1 38.86 L573.5 39.06 L573.9 38.9 L574.3 38.96 L574.7 38.59 L575.1 38.61 L575.5 38.35 L575.9 38.45 L576.3 38.3 L576.7 38.42 L577.1 38.02 L577.5 38.01 L577.9 37.59 L578.3 38.03 L578.7 37.65 L579.1 37.69 L579.5 37.23 L579.9 37.75 L580.3 37.69 L580.7 37.94 L581.1 37.6 L581.5 37.51 L581.9 37.43 L582.3 37.59 L582.7 37.82 L583.1 38 L583.5 37.83 L583.9 37.85 L584.3 37.64 L584.7 37.73 L585.1 38 L585.5 38.11 L585.9 38.07 L586.3 37.68 L586.7 37.5 L587.1 37.68 L587.5 37.6 L587.9 37.57 L588.3 37.32 L588.7 37.42 L589.1 37.84 L589.5 37.49 L589.9 37.6 L590.3 37.4 L590.7 37.58 L591.1 37.42 L591.5 37.38 L591.9 37.78 L592.3 37.73 L592.7 37.43 L593.1 37.32 L593.5 37.68 L593.9 37.86 L594.3 37.38 L594.7 37.37 L595.1 37.38 L595.5 37.88 L595.9 37.65 L596.3 37.62 L596.7 37.38 L597.1 37.61 L597.5 37.88 L597.9 37.62 L598.3 37.26 L598.7 37.31 L599.1 37.57 L599.5 37.51 L599.9 37.24 L600.3 37.28 L600.7 37.47 L601.1 37.4 L601.5 37.37 L601.9 37.31 L602.3 37.44 L602.7 37.36 L603.1 37.38 L603.5 37.31 L603.9 37.63 L604.3 37.73 L604.7 37.74 L605.1 37.62 L605.5 37.63 L605.9 37.81 L606.3 37.8 L606.7 38.01 L607.1 38.05 L607.5 37.97 L607.9 37.64 L608.3 37.57 L608.7 37.65 L609.1 37.7 L609.5 37.35 L609.9 36.99 L610.3 37.06 L610.7 37.4 L611.1 37.79 L611.5 37.55 L611.9 37.59 L612.3 37.39 L612.7 37.64 L613.1 37.55 L613.5 37.51 L613.9 37.37 L614.3 36.99 L614.7 36.98 L615.1 36.8 L615.5 37.17 L615.9 37.32 L616.3 37.73 L616.7 37.72 L617.1 37.62 L617.5 37.53 L617.9 37.42 L618.3 37.61 L618.7 37.61 L619.1 37.52 L619.5 37.43 L619.9 37.4 L620.3 37.5 L620.7 37.64 L621.1 37.89 L621.5 37.88 L621.9 37.7 L622.3 37.11 L622.7 37.14 L623.1 37.13 L623.5 37.15 L623.9 37.22 L624.3 37.37 L624.7 37.59 L625.1 37.49 L625.5 37.26 L625.9 37.49 L626.3 37.32 L626.7 37.43 L627.1 37.61 L627.5 37.85 L627.9 37.9" fill="none" stroke="#22a07a" stroke-width="1.25" stroke-linejoin="round" stroke-linecap="round" />
<path d="M513.3 117.47 L514.9 120.37 L511.7 120.37 Z M514.97 59 L516.57 61.9 L513.37 61.9 Z M516.64 42.92 L518.24 45.82 L515.04 45.82 Z M518.31 37.06 L519.91 39.96 L516.71 39.96 Z M519.98 35.98 L521.58 38.88 L518.38 38.88 Z M521.65 35.82 L523.25 38.72 L520.05 38.72 Z M523.32 35.46 L524.92 38.36 L521.72 38.36 Z M524.99 35.63 L526.59 38.53 L523.39 38.53 Z M526.66 35.82 L528.26 38.72 L525.06 38.72 Z M528.33 35.84 L529.93 38.74 L526.73 38.74 Z M530 36.15 L531.6 39.05 L528.4 39.05 Z M531.67 35.99 L533.27 38.89 L530.07 38.89 Z M533.34 35.31 L534.94 38.21 L531.74 38.21 Z M535.01 35.57 L536.61 38.47 L533.41 38.47 Z M536.68 34.87 L538.28 37.77 L535.08 37.77 Z M538.35 34.91 L539.95 37.81 L536.75 37.81 Z M540.02 34.51 L541.62 37.41 L538.42 37.41 Z M541.69 34.65 L543.29 37.55 L540.09 37.55 Z M543.36 34.54 L544.96 37.44 L541.76 37.44 Z M545.03 35.32 L546.63 38.22 L543.43 38.22 Z M546.7 36 L548.3 38.9 L545.1 38.9 Z M548.37 36.84 L549.97 39.74 L546.77 39.74 Z M550.04 37.8 L551.64 40.7 L548.44 40.7 Z M551.71 38.1 L553.31 41 L550.11 41 Z M553.38 39.17 L554.98 42.07 L551.78 42.07 Z M555.05 40.89 L556.65 43.79 L553.45 43.79 Z M556.72 42.47 L558.32 45.37 L555.12 45.37 Z M558.39 42.08 L559.99 44.98 L556.79 44.98 Z M560.06 41.41 L561.66 44.31 L558.46 44.31 Z M561.73 40.13 L563.33 43.03 L560.13 43.03 Z M563.4 39.49 L565 42.39 L561.8 42.39 Z M565.07 38.79 L566.67 41.69 L563.47 41.69 Z M566.74 38.56 L568.34 41.46 L565.14 41.46 Z M568.41 38.84 L570.01 41.74 L566.81 41.74 Z M570.08 38.43 L571.68 41.33 L568.48 41.33 Z M571.75 37.84 L573.35 40.74 L570.15 40.74 Z M573.42 37.82 L575.02 40.72 L571.82 40.72 Z M575.09 37.41 L576.69 40.31 L573.49 40.31 Z M576.76 37.16 L578.36 40.06 L575.16 40.06 Z M578.43 36.71 L580.03 39.61 L576.83 39.61 Z M580.1 36.52 L581.7 39.42 L578.5 39.42 Z M581.77 36.26 L583.37 39.16 L580.17 39.16 Z M583.44 36.66 L585.04 39.56 L581.84 39.56 Z M585.11 36.81 L586.71 39.71 L583.51 39.71 Z M586.78 36.34 L588.38 39.24 L585.18 39.24 Z M588.45 36.16 L590.05 39.06 L586.85 39.06 Z M590.12 36.29 L591.72 39.19 L588.52 39.19 Z M591.79 36.47 L593.39 39.37 L590.19 39.37 Z M593.46 36.45 L595.06 39.35 L591.86 39.35 Z M595.13 36.22 L596.73 39.12 L593.53 39.12 Z M596.8 36.24 L598.4 39.14 L595.2 39.14 Z M598.47 36.08 L600.07 38.98 L596.87 38.98 Z M600.14 36.06 L601.74 38.96 L598.54 38.96 Z M601.81 36.13 L603.41 39.03 L600.21 39.03 Z M603.48 36.12 L605.08 39.02 L601.88 39.02 Z M605.15 36.42 L606.75 39.32 L603.55 39.32 Z M606.82 36.82 L608.42 39.72 L605.22 39.72 Z M608.49 36.41 L610.09 39.31 L606.89 39.31 Z M610.16 35.84 L611.76 38.74 L608.56 38.74 Z M611.83 36.38 L613.43 39.28 L610.23 39.28 Z M613.5 36.31 L615.1 39.21 L611.9 39.21 Z M615.17 35.66 L616.77 38.56 L613.57 38.56 Z M616.84 36.49 L618.44 39.39 L615.24 39.39 Z M618.51 36.41 L620.11 39.31 L616.91 39.31 Z M620.18 36.27 L621.78 39.17 L618.58 39.17 Z M621.85 36.52 L623.45 39.42 L620.25 39.42 Z M623.52 35.95 L625.12 38.85 L621.92 38.85 Z M625.19 36.24 L626.79 39.14 L623.59 39.14 Z M626.86 36.3 L628.46 39.2 L625.26 39.2 Z " fill="none" stroke="#2fa27d" stroke-width="0.7"/>
<path d="M244.5 15.4 H629 M244.5 15.4 V195.7 H629" fill="none" stroke="#666" stroke-width="1"/>
<line x1="629" y1="15.4" x2="629" y2="195.7" stroke="#999" stroke-width="1.8" />
<line x1="244.5" y1="195.7" x2="244.5" y2="198.7" stroke="#666" stroke-width="0.8" />
<line x1="286.25" y1="195.7" x2="286.25" y2="197.7" stroke="#666" stroke-width="0.8" />
<line x1="328" y1="195.7" x2="328" y2="198.7" stroke="#666" stroke-width="0.8" />
<line x1="369.75" y1="195.7" x2="369.75" y2="197.7" stroke="#666" stroke-width="0.8" />
<line x1="411.5" y1="195.7" x2="411.5" y2="198.7" stroke="#666" stroke-width="0.8" />
<line x1="453.25" y1="195.7" x2="453.25" y2="197.7" stroke="#666" stroke-width="0.8" />
<line x1="495" y1="195.7" x2="495" y2="198.7" stroke="#666" stroke-width="0.8" />
<line x1="536.75" y1="195.7" x2="536.75" y2="197.7" stroke="#666" stroke-width="0.8" />
<line x1="578.5" y1="195.7" x2="578.5" y2="198.7" stroke="#666" stroke-width="0.8" />
<line x1="620.25" y1="195.7" x2="620.25" y2="197.7" stroke="#666" stroke-width="0.8" />
<text x="244.5" y="210.6" font-size="9.4" font-weight="bold" fill="#000" text-anchor="middle" ><tspan>0</tspan></text>
<text x="328" y="210.6" font-size="9.4" font-weight="bold" fill="#000" text-anchor="middle" ><tspan>50</tspan></text>
<text x="411.5" y="210.6" font-size="9.4" font-weight="bold" fill="#000" text-anchor="middle" ><tspan>100</tspan></text>
<text x="495" y="210.6" font-size="9.4" font-weight="bold" fill="#000" text-anchor="middle" ><tspan>150</tspan></text>
<text x="578.5" y="210.6" font-size="9.4" font-weight="bold" fill="#000" text-anchor="middle" ><tspan>200</tspan></text>
<line x1="629.5" y1="195.5" x2="633.5" y2="195.5" stroke="#555" stroke-width="0.8" />
<line x1="629.5" y1="177.5" x2="632" y2="177.5" stroke="#555" stroke-width="0.8" />
<line x1="629.5" y1="159.5" x2="633.5" y2="159.5" stroke="#555" stroke-width="0.8" />
<line x1="629.5" y1="141.5" x2="632" y2="141.5" stroke="#555" stroke-width="0.8" />
<line x1="629.5" y1="123.5" x2="633.5" y2="123.5" stroke="#555" stroke-width="0.8" />
<line x1="629.5" y1="105.5" x2="632" y2="105.5" stroke="#555" stroke-width="0.8" />
<line x1="629.5" y1="87.5" x2="633.5" y2="87.5" stroke="#555" stroke-width="0.8" />
<line x1="629.5" y1="69.5" x2="632" y2="69.5" stroke="#555" stroke-width="0.8" />
<line x1="629.5" y1="51.5" x2="633.5" y2="51.5" stroke="#555" stroke-width="0.8" />
<line x1="629.5" y1="33.5" x2="632" y2="33.5" stroke="#555" stroke-width="0.8" />
<line x1="629.5" y1="15.5" x2="633.5" y2="15.5" stroke="#555" stroke-width="0.8" />
<text x="636.3" y="198.5" font-size="8.5" font-weight="bold" fill="#111" text-anchor="start" ><tspan>50</tspan></text>
<text x="636.3" y="162.5" font-size="8.5" font-weight="bold" fill="#111" text-anchor="start" ><tspan>100</tspan></text>
<text x="636.3" y="126.5" font-size="8.5" font-weight="bold" fill="#111" text-anchor="start" ><tspan>150</tspan></text>
<text x="636.3" y="90.5" font-size="8.5" font-weight="bold" fill="#111" text-anchor="start" ><tspan>200</tspan></text>
<text x="636.3" y="54.5" font-size="8.5" font-weight="bold" fill="#111" text-anchor="start" ><tspan>250</tspan></text>
<text x="636.3" y="18.5" font-size="8.5" font-weight="bold" fill="#111" text-anchor="start" ><tspan>300</tspan></text>
<text x="405.6" y="222.3" font-size="12.5" font-weight="bold" fill="#000" text-anchor="start" ><tspan>Time (min)</tspan></text>
<text x="235.4" y="108" font-size="12.4" font-weight="bold" fill="#000" text-anchor="middle" transform="rotate(-90 235.4 108)"><tspan>M.S. signal (a.u.)</tspan></text>
<text x="658.1" y="104.2" font-size="13.5" font-weight="bold" fill="#000" text-anchor="middle" transform="rotate(90 658.1 104.2)"><tspan>Temperature (°C)</tspan></text>
<line x1="271.1" y1="7" x2="297.9" y2="7" stroke="#22a07a" stroke-width="1.3" />
<path d="M284.8 5 L286.6 8.4 L283 8.4 z" fill="none" stroke="#22a07a" stroke-width="0.7"/>
<text x="301.3" y="10.4" font-size="10.4" font-weight="bold" fill="#000" text-anchor="start" ><tspan>CO</tspan></text>
<line x1="370.4" y1="6.5" x2="397" y2="6.5" stroke="#e3701b" stroke-width="1.3" />
<text x="400" y="10.4" font-size="10.4" font-weight="bold" fill="#000" text-anchor="start" ><tspan>CO</tspan><tspan dy="3.12" font-size="7.28">2</tspan></text>
<line x1="448.9" y1="7" x2="475.7" y2="7" stroke="#7a70c8" stroke-width="1.3" />
<text x="478.4" y="10.4" font-size="10.4" font-weight="bold" fill="#000" text-anchor="start" ><tspan>H</tspan><tspan dy="3.12" font-size="7.28">2</tspan></text>
<line x1="552.3" y1="0" x2="552.3" y2="12.6" stroke="#000" stroke-width="1.2" />
<text x="554.6" y="7.7" font-size="10" font-weight="bold" fill="#000" text-anchor="start" ><tspan>1E-8</tspan></text>
<text x="289" y="30.7" font-size="10" font-weight="bold" fill="#000" text-anchor="start" ><tspan>CO+H</tspan><tspan dy="3" font-size="7">2</tspan><tspan dy="-3">O</tspan></text>
<text x="363.8" y="31.5" font-size="10" font-weight="bold" fill="#000" text-anchor="start" ><tspan>Ar</tspan></text>
<text x="385" y="31.5" font-size="10" font-weight="bold" fill="#000" text-anchor="start" ><tspan>Ar + H</tspan><tspan dy="3" font-size="7">2</tspan><tspan dy="-3">O</tspan></text>
<text x="464.8" y="31.5" font-size="10" font-weight="bold" fill="#000" text-anchor="start" ><tspan>Ar</tspan></text>
<text x="563.2" y="32" font-size="10" font-weight="bold" fill="#000" text-anchor="start" ><tspan>CO</tspan></text>
<text x="251.5" y="84.4" font-size="10.2" font-weight="bold" fill="#000" text-anchor="start" ><tspan>125 °C</tspan></text>
<text x="614.2" y="30" font-size="8" font-weight="normal" fill="#666" text-anchor="start" ><tspan>T</tspan></text>
<path d="M605.2 51.3 V32.4 H623" fill="none" stroke="#666" stroke-width="0.8" stroke-dasharray="2 1.5"/>
<path d="M626 32.4 L621.5 30.4 L621.5 34.4 z" fill="#666"/>
<defs><marker id="ah_r" viewBox="0 0 10 10" refX="7" refY="5" markerWidth="4.5" markerHeight="4.5" orient="auto"><path d="M0 0 L10 5 L0 10 z" fill="#b3141f"/></marker></defs>
<rect x="262" y="152.2" width="14.6" height="15.5" fill="none" stroke="#b3141f" stroke-width="0.9" stroke-dasharray="2 1.5"/>
<path d="M268.9 167.7 V180.5" stroke="#b3141f" stroke-width="1" stroke-dasharray="3 2" marker-end="url(#ah_r)"/>
<text x="249.7" y="189.7" font-size="10.2" font-weight="bold" fill="#b3141f" text-anchor="start" ><tspan>CO + -OH</tspan></text>
<path d="M299.8 186.4 H307.2 M304.8 183.6 L307.8 186.4 L304.8 189.2" fill="none" stroke="#b3141f" stroke-width="1.45" stroke-linejoin="miter"/>
<text x="311.1" y="189.7" font-size="10.2" font-weight="bold" fill="#b3141f" text-anchor="start" ><tspan>CO</tspan><tspan dy="3.06" font-size="7.14">2</tspan><tspan dy="-3.06"> +H</tspan><tspan dy="3.06" font-size="7.14">2</tspan></text>
<rect x="383.1" y="154.5" width="46.5" height="14.4" fill="none" stroke="#b3141f" stroke-width="0.9" stroke-dasharray="2 1.5"/>
<path d="M403.9 154.5 V129" stroke="#b3141f" stroke-width="1" stroke-dasharray="3 2" marker-end="url(#ah_r)"/>
<path d="M403.9 168.9 V181" stroke="#b3141f" stroke-width="1" stroke-dasharray="3 2" marker-end="url(#ah_r)"/>
<text x="377.2" y="122.7" font-size="10.2" font-weight="bold" fill="#b3141f" text-anchor="start" ><tspan>No H</tspan><tspan dy="3.06" font-size="7.14">2</tspan><tspan dy="-3.06"> signal</tspan></text>
<text x="380.8" y="190.6" font-size="10.2" font-weight="bold" fill="#b3141f" text-anchor="start" ><tspan>H</tspan><tspan dy="3.06" font-size="7.14">2</tspan><tspan dy="-3.06">O</tspan></text>
<path d="M403.4 187.3 H411.1 M408.7 184.5 L411.7 187.3 L408.7 190.1" fill="none" stroke="#b3141f" stroke-width="1.45" stroke-linejoin="miter"/>
<text x="415.3" y="190.6" font-size="10.2" font-weight="bold" fill="#b3141f" text-anchor="start" ><tspan>OH*</tspan></text>
<rect x="536.1" y="146.1" width="77.4" height="20.9" fill="none" stroke="#b3141f" stroke-width="0.9" stroke-dasharray="2 1.5"/>
<path d="M569.4 146.1 V128" stroke="#b3141f" stroke-width="1" stroke-dasharray="3 2" marker-end="url(#ah_r)"/>
<text x="535.1" y="125.3" font-size="10.2" font-weight="bold" fill="#b3141f" text-anchor="start" ><tspan>CO</tspan><tspan dy="3.06" font-size="7.14">2</tspan><tspan dy="-3.06"> + H</tspan><tspan dy="3.06" font-size="7.14">2</tspan><tspan dy="-3.06"> signal</tspan></text>
<text x="518.7" y="188" font-size="10.2" font-weight="bold" fill="#b3141f" text-anchor="start" ><tspan>CO + OH*</tspan></text>
<path d="M569.6 184.6 H577.8 M575.4 181.8 L578.4 184.6 L575.4 187.4" fill="none" stroke="#b3141f" stroke-width="1.45" stroke-linejoin="miter"/>
<text x="581.3" y="188" font-size="10.2" font-weight="bold" fill="#b3141f" text-anchor="start" ><tspan>CO</tspan><tspan dy="3.06" font-size="7.14">2</tspan><tspan dy="-3.06"> +H</tspan><tspan dy="3.06" font-size="7.14">2</tspan></text>
<text x="1.8" y="236.8" font-size="21" font-weight="normal" fill="#000" text-anchor="start" ><tspan>c</tspan></text>
<path d="M18 339.2 L18.4 339.17 L18.8 339.14 L19.2 339.11 L19.6 339.08 L20 339.05 L20.4 339.02 L20.8 338.99 L21.2 338.96 L21.6 338.93 L22 338.9 L22.4 338.87 L22.8 338.84 L23.2 338.81 L23.6 338.78 L24 338.74 L24.4 338.71 L24.8 338.68 L25.2 338.65 L25.6 338.61 L26 338.58 L26.4 338.55 L26.8 338.51 L27.2 338.48 L27.6 338.45 L28 338.41 L28.4 338.38 L28.8 338.34 L29.2 338.31 L29.6 338.27 L30 338.24 L30.4 338.2 L30.8 338.17 L31.2 338.13 L31.6 338.1 L32 338.06 L32.4 338.02 L32.8 337.99 L33.2 337.95 L33.6 337.91 L34 337.88 L34.4 337.84 L34.8 337.8 L35.2 337.76 L35.6 337.73 L36 337.69 L36.4 337.65 L36.8 337.61 L37.2 337.57 L37.6 337.53 L38 337.5 L38.4 337.46 L38.8 337.42 L39.2 337.38 L39.6 337.34 L40 337.3 L40.4 337.26 L40.8 337.22 L41.2 337.18 L41.6 337.15 L42 337.11 L42.4 337.07 L42.8 337.03 L43.2 337 L43.6 336.96 L44 336.92 L44.4 336.89 L44.8 336.85 L45.2 336.81 L45.6 336.78 L46 336.74 L46.4 336.7 L46.8 336.67 L47.2 336.63 L47.6 336.59 L48 336.55 L48.4 336.51 L48.8 336.47 L49.2 336.43 L49.6 336.39 L50 336.35 L50.4 336.31 L50.8 336.27 L51.2 336.23 L51.6 336.18 L52 336.14 L52.4 336.09 L52.8 336.05 L53.2 336 L53.6 335.95 L54 335.9 L54.4 335.85 L54.8 335.8 L55.2 335.75 L55.6 335.69 L56 335.64 L56.4 335.58 L56.8 335.52 L57.2 335.46 L57.6 335.4 L58 335.34 L58.4 335.27 L58.8 335.21 L59.2 335.14 L59.6 335.07 L60 335 L60.4 334.93 L60.8 334.84 L61.2 334.76 L61.6 334.67 L62 334.57 L62.4 334.47 L62.8 334.36 L63.2 334.25 L63.6 334.14 L64 334.02 L64.4 333.89 L64.8 333.76 L65.2 333.63 L65.6 333.49 L66 333.35 L66.4 333.21 L66.8 333.06 L67.2 332.91 L67.6 332.75 L68 332.59 L68.4 332.43 L68.8 332.26 L69.2 332.09 L69.6 331.92 L70 331.74 L70.4 331.56 L70.8 331.38 L71.2 331.2 L71.6 331.01 L72 330.83 L72.4 330.64 L72.8 330.44 L73.2 330.25 L73.6 330.05 L74 329.85 L74.4 329.65 L74.8 329.45 L75.2 329.25 L75.6 329.04 L76 328.84 L76.4 328.63 L76.8 328.42 L77.2 328.21 L77.6 328.01 L78 327.79 L78.4 327.58 L78.8 327.35 L79.2 327.12 L79.6 326.88 L80 326.63 L80.4 326.38 L80.8 326.12 L81.2 325.86 L81.6 325.58 L82 325.3 L82.4 325.02 L82.8 324.73 L83.2 324.43 L83.6 324.13 L84 323.82 L84.4 323.51 L84.8 323.19 L85.2 322.87 L85.6 322.54 L86 322.21 L86.4 321.87 L86.8 321.53 L87.2 321.17 L87.6 320.8 L88 320.42 L88.4 320.03 L88.8 319.63 L89.2 319.21 L89.6 318.79 L90 318.36 L90.4 317.92 L90.8 317.48 L91.2 317.03 L91.6 316.57 L92 316.11 L92.4 315.65 L92.8 315.18 L93.2 314.71 L93.6 314.24 L94 313.77 L94.4 313.29 L94.8 312.82 L95.2 312.35 L95.6 311.88 L96 311.41 L96.4 310.93 L96.8 310.43 L97.2 309.94 L97.6 309.44 L98 308.93 L98.4 308.42 L98.8 307.91 L99.2 307.39 L99.6 306.88 L100 306.36 L100.4 305.85 L100.8 305.34 L101.2 304.83 L101.6 304.33 L102 303.83 L102.4 303.34 L102.8 302.86 L103.2 302.38 L103.6 301.92 L104 301.45 L104.4 300.99 L104.8 300.53 L105.2 300.08 L105.6 299.62 L106 299.16 L106.4 298.7 L106.8 298.23 L107.2 297.75 L107.6 297.27 L108 296.77 L108.4 296.25 L108.8 295.7 L109.2 295.12 L109.6 294.52 L110 293.92 L110.4 293.32 L110.8 292.74 L111.2 292.17 L111.6 291.62 L112 291.11 L112.4 290.65 L112.8 290.23 L113.2 289.88 L113.6 289.57 L114 289.28 L114.4 289.01 L114.8 288.76 L115.2 288.53 L115.6 288.33 L116 288.16 L116.4 288.03 L116.8 287.92 L117.2 287.83 L117.6 287.73 L118 287.65 L118.4 287.59 L118.8 287.54 L119.2 287.51 L119.6 287.5 L120 287.55 L120.4 287.65 L120.8 287.79 L121.2 287.96 L121.6 288.13 L122 288.3 L122.4 288.47 L122.8 288.64 L123.2 288.84 L123.6 289.04 L124 289.27 L124.4 289.52 L124.8 289.8 L125.2 290.11 L125.6 290.48 L126 290.89 L126.4 291.33 L126.8 291.82 L127.2 292.33 L127.6 292.87 L128 293.43 L128.4 294 L128.8 294.59 L129.2 295.18 L129.6 295.78 L130 296.37 L130.4 296.95 L130.8 297.52 L131.2 298.08 L131.6 298.65 L132 299.24 L132.4 299.84 L132.8 300.45 L133.2 301.07 L133.6 301.7 L134 302.33 L134.4 302.96 L134.8 303.59 L135.2 304.21 L135.6 304.83 L136 305.44 L136.4 306.04 L136.8 306.63 L137.2 307.2 L137.6 307.74 L138 308.27 L138.4 308.78 L138.8 309.29 L139.2 309.79 L139.6 310.29 L140 310.78 L140.4 311.27 L140.8 311.75 L141.2 312.23 L141.6 312.7 L142 313.16 L142.4 313.62 L142.8 314.06 L143.2 314.5 L143.6 314.94 L144 315.36 L144.4 315.77 L144.8 316.18 L145.2 316.57 L145.6 316.95 L146 317.32 L146.4 317.68 L146.8 318.03 L147.2 318.37 L147.6 318.7 L148 319.02 L148.4 319.34 L148.8 319.66 L149.2 319.97 L149.6 320.27 L150 320.57 L150.4 320.87 L150.8 321.16 L151.2 321.44 L151.6 321.72 L152 322 L152.4 322.27 L152.8 322.53 L153.2 322.79 L153.6 323.05 L154 323.29 L154.4 323.54 L154.8 323.78 L155.2 324.01 L155.6 324.24 L156 324.46 L156.4 324.68 L156.8 324.89 L157.2 325.1 L157.6 325.3 L158 325.5 L158.4 325.69 L158.8 325.88 L159.2 326.07 L159.6 326.25 L160 326.43 L160.4 326.61 L160.8 326.79 L161.2 326.96 L161.6 327.13 L162 327.29 L162.4 327.46 L162.8 327.62 L163.2 327.78 L163.6 327.93 L164 328.09 L164.4 328.24 L164.8 328.39 L165.2 328.53 L165.6 328.68 L166 328.82 L166.4 328.96 L166.8 329.1 L167.2 329.24 L167.6 329.38 L168 329.51 L168.4 329.65 L168.8 329.78 L169.2 329.91 L169.6 330.04 L170 330.17 L170.4 330.3 L170.8 330.42 L171.2 330.55 L171.6 330.68 L172 330.8 L172.4 330.92 L172.8 331.05 L173.2 331.17 L173.6 331.29 L174 331.41 L174.4 331.53 L174.8 331.64 L175.2 331.75 L175.6 331.86 L176 331.97 L176.4 332.08 L176.8 332.18 L177.2 332.28 L177.6 332.38 L178 332.48 L178.4 332.57 L178.8 332.66 L179.2 332.74 L179.6 332.82 L180 332.9 L180.4 332.97 L180.8 333.05 L181.2 333.12 L181.6 333.19 L182 333.26 L182.4 333.33 L182.8 333.39 L183.2 333.46 L183.6 333.52 L184 333.58 L184.4 333.64 L184.8 333.7 L185.2 333.76 L185.6 333.82 L186 333.87 L186.4 333.93 L186.8 333.98 L187.2 334.04 L187.6 334.09 L188 334.14 L188.4 334.2 L188.8 334.25 L189.2 334.3 L189.6 334.35 L190 334.4 L190.4 334.45 L190.8 334.49 L191.2 334.54 L191.6 334.59 L192 334.64 L192.4 334.69 L192.8 334.74 L193.2 334.78 L193.6 334.83 L194 334.88 L194.4 334.93 L194.8 334.98 L195.2 335.02 L195.6 335.07 L196 335.12 L196.4 335.17 L196.8 335.22 L197.2 335.26 L197.6 335.31 L198 335.36 L198.4 335.4 L198.8 335.45 L199.2 335.49 L199.6 335.54 L200 335.58 L200.4 335.63 L200.8 335.67 L201.2 335.72 L201.6 335.76 L202 335.8 L202.4 335.85 L202.8 335.89 L203.2 335.93 L203.6 335.97 L204 336.02 L204.4 336.06 L204.8 336.1 L205.2 336.14 L205.6 336.18 L206 336.22 L206.4 336.26 L206.8 336.3 L207.2 336.34 L207.6 336.38 L208 336.42 L208.4 336.45 L208.8 336.49 L209.2 336.53 L209.6 336.56 L210 336.6" fill="none" stroke="#cc6a1e" stroke-width="1.9" stroke-linejoin="round" stroke-linecap="round" />
<path d="M18 373.2 L18.4 373.2 L18.8 373.19 L19.2 373.19 L19.6 373.18 L20 373.18 L20.4 373.17 L20.8 373.16 L21.2 373.16 L21.6 373.15 L22 373.14 L22.4 373.14 L22.8 373.13 L23.2 373.12 L23.6 373.11 L24 373.1 L24.4 373.09 L24.8 373.09 L25.2 373.08 L25.6 373.07 L26 373.06 L26.4 373.05 L26.8 373.04 L27.2 373.03 L27.6 373.02 L28 373 L28.4 372.99 L28.8 372.98 L29.2 372.97 L29.6 372.96 L30 372.95 L30.4 372.93 L30.8 372.92 L31.2 372.91 L31.6 372.9 L32 372.88 L32.4 372.87 L32.8 372.86 L33.2 372.84 L33.6 372.83 L34 372.82 L34.4 372.8 L34.8 372.79 L35.2 372.78 L35.6 372.76 L36 372.75 L36.4 372.73 L36.8 372.72 L37.2 372.7 L37.6 372.69 L38 372.67 L38.4 372.66 L38.8 372.64 L39.2 372.63 L39.6 372.62 L40 372.6 L40.4 372.58 L40.8 372.57 L41.2 372.55 L41.6 372.54 L42 372.52 L42.4 372.51 L42.8 372.49 L43.2 372.48 L43.6 372.46 L44 372.45 L44.4 372.43 L44.8 372.41 L45.2 372.4 L45.6 372.38 L46 372.36 L46.4 372.34 L46.8 372.32 L47.2 372.31 L47.6 372.29 L48 372.27 L48.4 372.25 L48.8 372.23 L49.2 372.21 L49.6 372.19 L50 372.17 L50.4 372.14 L50.8 372.12 L51.2 372.1 L51.6 372.07 L52 372.05 L52.4 372.02 L52.8 372 L53.2 371.97 L53.6 371.94 L54 371.92 L54.4 371.89 L54.8 371.86 L55.2 371.83 L55.6 371.8 L56 371.77 L56.4 371.73 L56.8 371.7 L57.2 371.67 L57.6 371.63 L58 371.59 L58.4 371.56 L58.8 371.52 L59.2 371.48 L59.6 371.44 L60 371.4 L60.4 371.36 L60.8 371.31 L61.2 371.25 L61.6 371.19 L62 371.12 L62.4 371.05 L62.8 370.97 L63.2 370.89 L63.6 370.8 L64 370.71 L64.4 370.61 L64.8 370.51 L65.2 370.4 L65.6 370.29 L66 370.17 L66.4 370.05 L66.8 369.93 L67.2 369.8 L67.6 369.66 L68 369.53 L68.4 369.38 L68.8 369.24 L69.2 369.09 L69.6 368.94 L70 368.78 L70.4 368.62 L70.8 368.46 L71.2 368.3 L71.6 368.13 L72 367.96 L72.4 367.78 L72.8 367.6 L73.2 367.43 L73.6 367.24 L74 367.06 L74.4 366.87 L74.8 366.68 L75.2 366.49 L75.6 366.3 L76 366.1 L76.4 365.9 L76.8 365.7 L77.2 365.5 L77.6 365.3 L78 365.1 L78.4 364.88 L78.8 364.65 L79.2 364.41 L79.6 364.16 L80 363.9 L80.4 363.62 L80.8 363.34 L81.2 363.04 L81.6 362.73 L82 362.42 L82.4 362.09 L82.8 361.75 L83.2 361.41 L83.6 361.05 L84 360.68 L84.4 360.31 L84.8 359.93 L85.2 359.53 L85.6 359.13 L86 358.73 L86.4 358.31 L86.8 357.89 L87.2 357.44 L87.6 356.97 L88 356.48 L88.4 355.98 L88.8 355.45 L89.2 354.9 L89.6 354.33 L90 353.74 L90.4 353.14 L90.8 352.51 L91.2 351.87 L91.6 351.21 L92 350.54 L92.4 349.85 L92.8 349.14 L93.2 348.42 L93.6 347.69 L94 346.92 L94.4 346.07 L94.8 345.17 L95.2 344.21 L95.6 343.22 L96 342.2 L96.4 341.18 L96.8 340.15 L97.2 339.15 L97.6 338.18 L98 337.24 L98.4 336.36 L98.8 335.44 L99.2 334.51 L99.6 333.56 L100 332.63 L100.4 331.72 L100.8 330.85 L101.2 330.04 L101.6 329.3 L102 328.66 L102.4 328.12 L102.8 327.7 L103.2 327.32 L103.6 326.98 L104 326.67 L104.4 326.4 L104.8 326.15 L105.2 325.94 L105.6 325.76 L106 325.57 L106.4 325.4 L106.8 325.23 L107.2 325.09 L107.6 324.98 L108 324.92 L108.4 324.91 L108.8 325.03 L109.2 325.28 L109.6 325.61 L110 326 L110.4 326.4 L110.8 326.81 L111.2 327.29 L111.6 327.84 L112 328.44 L112.4 329.08 L112.8 329.75 L113.2 330.43 L113.6 331.13 L114 331.9 L114.4 332.71 L114.8 333.57 L115.2 334.46 L115.6 335.38 L116 336.31 L116.4 337.25 L116.8 338.18 L117.2 339.1 L117.6 340 L118 340.87 L118.4 341.7 L118.8 342.49 L119.2 343.28 L119.6 344.07 L120 344.86 L120.4 345.66 L120.8 346.44 L121.2 347.22 L121.6 347.99 L122 348.74 L122.4 349.48 L122.8 350.2 L123.2 350.9 L123.6 351.58 L124 352.22 L124.4 352.84 L124.8 353.42 L125.2 353.97 L125.6 354.48 L126 354.96 L126.4 355.42 L126.8 355.88 L127.2 356.32 L127.6 356.76 L128 357.18 L128.4 357.59 L128.8 357.99 L129.2 358.39 L129.6 358.77 L130 359.13 L130.4 359.49 L130.8 359.83 L131.2 360.17 L131.6 360.49 L132 360.8 L132.4 361.09 L132.8 361.38 L133.2 361.65 L133.6 361.91 L134 362.16 L134.4 362.39 L134.8 362.61 L135.2 362.83 L135.6 363.04 L136 363.25 L136.4 363.45 L136.8 363.65 L137.2 363.85 L137.6 364.04 L138 364.23 L138.4 364.41 L138.8 364.59 L139.2 364.77 L139.6 364.94 L140 365.11 L140.4 365.28 L140.8 365.44 L141.2 365.6 L141.6 365.75 L142 365.91 L142.4 366.05 L142.8 366.2 L143.2 366.34 L143.6 366.47 L144 366.6 L144.4 366.73 L144.8 366.86 L145.2 366.98 L145.6 367.09 L146 367.21 L146.4 367.32 L146.8 367.42 L147.2 367.53 L147.6 367.63 L148 367.72 L148.4 367.81 L148.8 367.9 L149.2 367.99 L149.6 368.07 L150 368.15 L150.4 368.23 L150.8 368.31 L151.2 368.39 L151.6 368.47 L152 368.54 L152.4 368.62 L152.8 368.69 L153.2 368.76 L153.6 368.83 L154 368.9 L154.4 368.97 L154.8 369.04 L155.2 369.1 L155.6 369.17 L156 369.23 L156.4 369.29 L156.8 369.35 L157.2 369.41 L157.6 369.47 L158 369.53 L158.4 369.58 L158.8 369.64 L159.2 369.69 L159.6 369.74 L160 369.8 L160.4 369.85 L160.8 369.9 L161.2 369.95 L161.6 369.99 L162 370.04 L162.4 370.08 L162.8 370.13 L163.2 370.17 L163.6 370.22 L164 370.26 L164.4 370.3 L164.8 370.34 L165.2 370.38 L165.6 370.42 L166 370.45 L166.4 370.49 L166.8 370.53 L167.2 370.56 L167.6 370.6 L168 370.63 L168.4 370.66 L168.8 370.69 L169.2 370.73 L169.6 370.76 L170 370.79 L170.4 370.81 L170.8 370.84 L171.2 370.87 L171.6 370.9 L172 370.93 L172.4 370.95 L172.8 370.98 L173.2 371 L173.6 371.03 L174 371.05 L174.4 371.08 L174.8 371.1 L175.2 371.13 L175.6 371.15 L176 371.17 L176.4 371.2 L176.8 371.22 L177.2 371.24 L177.6 371.27 L178 371.29 L178.4 371.31 L178.8 371.33 L179.2 371.36 L179.6 371.38 L180 371.4 L180.4 371.42 L180.8 371.44 L181.2 371.47 L181.6 371.49 L182 371.51 L182.4 371.53 L182.8 371.56 L183.2 371.58 L183.6 371.6 L184 371.62 L184.4 371.64 L184.8 371.67 L185.2 371.69 L185.6 371.71 L186 371.73 L186.4 371.75 L186.8 371.77 L187.2 371.79 L187.6 371.81 L188 371.84 L188.4 371.86 L188.8 371.88 L189.2 371.9 L189.6 371.92 L190 371.94 L190.4 371.96 L190.8 371.98 L191.2 372 L191.6 372.02 L192 372.04 L192.4 372.06 L192.8 372.08 L193.2 372.1 L193.6 372.12 L194 372.14 L194.4 372.16 L194.8 372.18 L195.2 372.2 L195.6 372.22 L196 372.23 L196.4 372.25 L196.8 372.27 L197.2 372.29 L197.6 372.31 L198 372.33 L198.4 372.34 L198.8 372.36 L199.2 372.38 L199.6 372.4 L200 372.42 L200.4 372.43 L200.8 372.45 L201.2 372.47 L201.6 372.48 L202 372.5 L202.4 372.52 L202.8 372.53 L203.2 372.55 L203.6 372.57 L204 372.58 L204.4 372.6 L204.8 372.61 L205.2 372.63 L205.6 372.64 L206 372.66 L206.4 372.67 L206.8 372.69 L207.2 372.7 L207.6 372.72 L208 372.73 L208.4 372.75 L208.8 372.76 L209.2 372.77 L209.6 372.79 L210 372.8" fill="none" stroke="#f59440" stroke-width="1.9" stroke-linejoin="round" stroke-linecap="round" />
<path d="M18 482.2 L18.4 482.17 L18.8 482.13 L19.2 482.1 L19.6 482.07 L20 482.03 L20.4 481.99 L20.8 481.96 L21.2 481.92 L21.6 481.88 L22 481.84 L22.4 481.8 L22.8 481.76 L23.2 481.72 L23.6 481.68 L24 481.64 L24.4 481.59 L24.8 481.55 L25.2 481.51 L25.6 481.46 L26 481.42 L26.4 481.37 L26.8 481.32 L27.2 481.28 L27.6 481.23 L28 481.18 L28.4 481.13 L28.8 481.08 L29.2 481.03 L29.6 480.98 L30 480.93 L30.4 480.88 L30.8 480.82 L31.2 480.77 L31.6 480.72 L32 480.66 L32.4 480.61 L32.8 480.55 L33.2 480.5 L33.6 480.44 L34 480.39 L34.4 480.33 L34.8 480.27 L35.2 480.22 L35.6 480.16 L36 480.1 L36.4 480.04 L36.8 479.98 L37.2 479.92 L37.6 479.86 L38 479.8 L38.4 479.74 L38.8 479.68 L39.2 479.62 L39.6 479.56 L40 479.5 L40.4 479.44 L40.8 479.38 L41.2 479.31 L41.6 479.25 L42 479.19 L42.4 479.13 L42.8 479.06 L43.2 479 L43.6 478.94 L44 478.87 L44.4 478.81 L44.8 478.74 L45.2 478.67 L45.6 478.61 L46 478.54 L46.4 478.47 L46.8 478.4 L47.2 478.33 L47.6 478.26 L48 478.19 L48.4 478.12 L48.8 478.04 L49.2 477.97 L49.6 477.89 L50 477.81 L50.4 477.74 L50.8 477.66 L51.2 477.58 L51.6 477.49 L52 477.41 L52.4 477.33 L52.8 477.24 L53.2 477.15 L53.6 477.06 L54 476.97 L54.4 476.88 L54.8 476.79 L55.2 476.69 L55.6 476.59 L56 476.5 L56.4 476.39 L56.8 476.29 L57.2 476.19 L57.6 476.08 L58 475.97 L58.4 475.86 L58.8 475.75 L59.2 475.64 L59.6 475.52 L60 475.4 L60.4 475.28 L60.8 475.15 L61.2 475.01 L61.6 474.87 L62 474.72 L62.4 474.56 L62.8 474.4 L63.2 474.23 L63.6 474.06 L64 473.88 L64.4 473.7 L64.8 473.51 L65.2 473.32 L65.6 473.12 L66 472.92 L66.4 472.72 L66.8 472.51 L67.2 472.29 L67.6 472.08 L68 471.85 L68.4 471.63 L68.8 471.4 L69.2 471.17 L69.6 470.94 L70 470.7 L70.4 470.46 L70.8 470.22 L71.2 469.98 L71.6 469.73 L72 469.49 L72.4 469.24 L72.8 468.98 L73.2 468.73 L73.6 468.46 L74 468.19 L74.4 467.92 L74.8 467.64 L75.2 467.35 L75.6 467.06 L76 466.76 L76.4 466.46 L76.8 466.15 L77.2 465.84 L77.6 465.52 L78 465.19 L78.4 464.86 L78.8 464.53 L79.2 464.18 L79.6 463.84 L80 463.48 L80.4 463.12 L80.8 462.76 L81.2 462.39 L81.6 462.01 L82 461.63 L82.4 461.24 L82.8 460.84 L83.2 460.44 L83.6 460.04 L84 459.62 L84.4 459.21 L84.8 458.78 L85.2 458.33 L85.6 457.86 L86 457.37 L86.4 456.86 L86.8 456.34 L87.2 455.8 L87.6 455.25 L88 454.69 L88.4 454.12 L88.8 453.54 L89.2 452.96 L89.6 452.37 L90 451.78 L90.4 451.18 L90.8 450.59 L91.2 449.99 L91.6 449.4 L92 448.81 L92.4 448.23 L92.8 447.66 L93.2 447.08 L93.6 446.49 L94 445.89 L94.4 445.29 L94.8 444.69 L95.2 444.08 L95.6 443.46 L96 442.85 L96.4 442.23 L96.8 441.62 L97.2 441 L97.6 440.39 L98 439.79 L98.4 439.18 L98.8 438.59 L99.2 438 L99.6 437.42 L100 436.85 L100.4 436.28 L100.8 435.74 L101.2 435.19 L101.6 434.64 L102 434.08 L102.4 433.51 L102.8 432.95 L103.2 432.39 L103.6 431.83 L104 431.29 L104.4 430.77 L104.8 430.26 L105.2 429.78 L105.6 429.32 L106 428.9 L106.4 428.51 L106.8 428.16 L107.2 427.85 L107.6 427.55 L108 427.28 L108.4 427.03 L108.8 426.8 L109.2 426.62 L109.6 426.47 L110 426.32 L110.4 426.19 L110.8 426.09 L111.2 426.02 L111.6 426 L112 426.1 L112.4 426.29 L112.8 426.56 L113.2 426.87 L113.6 427.19 L114 427.5 L114.4 427.8 L114.8 428.11 L115.2 428.45 L115.6 428.8 L116 429.17 L116.4 429.56 L116.8 429.97 L117.2 430.4 L117.6 430.85 L118 431.34 L118.4 431.86 L118.8 432.4 L119.2 432.97 L119.6 433.56 L120 434.17 L120.4 434.79 L120.8 435.43 L121.2 436.07 L121.6 436.72 L122 437.38 L122.4 438.04 L122.8 438.69 L123.2 439.34 L123.6 439.98 L124 440.62 L124.4 441.23 L124.8 441.84 L125.2 442.42 L125.6 442.98 L126 443.54 L126.4 444.09 L126.8 444.64 L127.2 445.19 L127.6 445.74 L128 446.29 L128.4 446.83 L128.8 447.37 L129.2 447.9 L129.6 448.43 L130 448.96 L130.4 449.49 L130.8 450.01 L131.2 450.53 L131.6 451.05 L132 451.56 L132.4 452.07 L132.8 452.58 L133.2 453.08 L133.6 453.57 L134 454.07 L134.4 454.56 L134.8 455.04 L135.2 455.52 L135.6 456 L136 456.48 L136.4 456.96 L136.8 457.44 L137.2 457.93 L137.6 458.41 L138 458.9 L138.4 459.38 L138.8 459.87 L139.2 460.35 L139.6 460.83 L140 461.3 L140.4 461.77 L140.8 462.23 L141.2 462.69 L141.6 463.13 L142 463.57 L142.4 464 L142.8 464.42 L143.2 464.83 L143.6 465.22 L144 465.6 L144.4 465.97 L144.8 466.32 L145.2 466.65 L145.6 466.97 L146 467.27 L146.4 467.57 L146.8 467.86 L147.2 468.14 L147.6 468.42 L148 468.7 L148.4 468.97 L148.8 469.24 L149.2 469.51 L149.6 469.77 L150 470.02 L150.4 470.28 L150.8 470.52 L151.2 470.77 L151.6 471.01 L152 471.24 L152.4 471.47 L152.8 471.7 L153.2 471.92 L153.6 472.13 L154 472.35 L154.4 472.55 L154.8 472.76 L155.2 472.95 L155.6 473.15 L156 473.33 L156.4 473.52 L156.8 473.69 L157.2 473.87 L157.6 474.04 L158 474.2 L158.4 474.36 L158.8 474.51 L159.2 474.66 L159.6 474.8 L160 474.93 L160.4 475.07 L160.8 475.2 L161.2 475.32 L161.6 475.45 L162 475.58 L162.4 475.7 L162.8 475.82 L163.2 475.94 L163.6 476.06 L164 476.18 L164.4 476.3 L164.8 476.41 L165.2 476.53 L165.6 476.64 L166 476.75 L166.4 476.86 L166.8 476.97 L167.2 477.07 L167.6 477.18 L168 477.28 L168.4 477.38 L168.8 477.48 L169.2 477.57 L169.6 477.67 L170 477.76 L170.4 477.86 L170.8 477.95 L171.2 478.03 L171.6 478.12 L172 478.21 L172.4 478.29 L172.8 478.37 L173.2 478.45 L173.6 478.53 L174 478.6 L174.4 478.68 L174.8 478.75 L175.2 478.82 L175.6 478.89 L176 478.95 L176.4 479.02 L176.8 479.08 L177.2 479.14 L177.6 479.2 L178 479.25 L178.4 479.31 L178.8 479.36 L179.2 479.41 L179.6 479.45 L180 479.5 L180.4 479.54 L180.8 479.59 L181.2 479.63 L181.6 479.68 L182 479.72 L182.4 479.76 L182.8 479.81 L183.2 479.85 L183.6 479.89 L184 479.94 L184.4 479.98 L184.8 480.02 L185.2 480.06 L185.6 480.1 L186 480.14 L186.4 480.19 L186.8 480.23 L187.2 480.27 L187.6 480.31 L188 480.35 L188.4 480.39 L188.8 480.42 L189.2 480.46 L189.6 480.5 L190 480.54 L190.4 480.58 L190.8 480.61 L191.2 480.65 L191.6 480.68 L192 480.72 L192.4 480.75 L192.8 480.79 L193.2 480.82 L193.6 480.85 L194 480.89 L194.4 480.92 L194.8 480.95 L195.2 480.98 L195.6 481.01 L196 481.04 L196.4 481.07 L196.8 481.1 L197.2 481.13 L197.6 481.15 L198 481.18 L198.4 481.21 L198.8 481.23 L199.2 481.26 L199.6 481.28 L200 481.3 L200.4 481.32 L200.8 481.35 L201.2 481.37 L201.6 481.39 L202 481.41 L202.4 481.42 L202.8 481.44 L203.2 481.46 L203.6 481.47 L204 481.49 L204.4 481.5 L204.8 481.52 L205.2 481.53 L205.6 481.54 L206 481.55 L206.4 481.56 L206.8 481.57 L207.2 481.57 L207.6 481.58 L208 481.59 L208.4 481.59 L208.8 481.6 L209.2 481.6 L209.6 481.6 L210 481.6" fill="none" stroke="#3f3f3f" stroke-width="1.9" stroke-linejoin="round" stroke-linecap="round" />
<path d="M18 517.2 L18.4 517.18 L18.8 517.15 L19.2 517.13 L19.6 517.11 L20 517.08 L20.4 517.06 L20.8 517.03 L21.2 517.01 L21.6 516.98 L22 516.95 L22.4 516.93 L22.8 516.9 L23.2 516.87 L23.6 516.85 L24 516.82 L24.4 516.79 L24.8 516.76 L25.2 516.73 L25.6 516.7 L26 516.67 L26.4 516.64 L26.8 516.62 L27.2 516.59 L27.6 516.55 L28 516.52 L28.4 516.49 L28.8 516.46 L29.2 516.43 L29.6 516.4 L30 516.37 L30.4 516.34 L30.8 516.3 L31.2 516.27 L31.6 516.24 L32 516.2 L32.4 516.17 L32.8 516.14 L33.2 516.1 L33.6 516.07 L34 516.04 L34.4 516 L34.8 515.97 L35.2 515.93 L35.6 515.9 L36 515.86 L36.4 515.83 L36.8 515.79 L37.2 515.76 L37.6 515.72 L38 515.68 L38.4 515.65 L38.8 515.61 L39.2 515.57 L39.6 515.54 L40 515.5 L40.4 515.46 L40.8 515.43 L41.2 515.39 L41.6 515.35 L42 515.32 L42.4 515.28 L42.8 515.25 L43.2 515.21 L43.6 515.18 L44 515.14 L44.4 515.11 L44.8 515.07 L45.2 515.04 L45.6 515 L46 514.97 L46.4 514.93 L46.8 514.89 L47.2 514.86 L47.6 514.82 L48 514.78 L48.4 514.74 L48.8 514.7 L49.2 514.67 L49.6 514.63 L50 514.58 L50.4 514.54 L50.8 514.5 L51.2 514.46 L51.6 514.41 L52 514.37 L52.4 514.32 L52.8 514.28 L53.2 514.23 L53.6 514.18 L54 514.13 L54.4 514.08 L54.8 514.02 L55.2 513.97 L55.6 513.91 L56 513.86 L56.4 513.8 L56.8 513.74 L57.2 513.68 L57.6 513.61 L58 513.55 L58.4 513.48 L58.8 513.42 L59.2 513.35 L59.6 513.27 L60 513.2 L60.4 513.12 L60.8 513.04 L61.2 512.95 L61.6 512.85 L62 512.74 L62.4 512.63 L62.8 512.52 L63.2 512.39 L63.6 512.26 L64 512.13 L64.4 511.99 L64.8 511.84 L65.2 511.69 L65.6 511.53 L66 511.37 L66.4 511.21 L66.8 511.03 L67.2 510.86 L67.6 510.67 L68 510.49 L68.4 510.3 L68.8 510.1 L69.2 509.9 L69.6 509.7 L70 509.49 L70.4 509.28 L70.8 509.06 L71.2 508.84 L71.6 508.62 L72 508.39 L72.4 508.16 L72.8 507.92 L73.2 507.69 L73.6 507.45 L74 507.2 L74.4 506.96 L74.8 506.71 L75.2 506.46 L75.6 506.2 L76 505.95 L76.4 505.69 L76.8 505.43 L77.2 505.16 L77.6 504.9 L78 504.63 L78.4 504.36 L78.8 504.09 L79.2 503.82 L79.6 503.55 L80 503.28 L80.4 503 L80.8 502.72 L81.2 502.42 L81.6 502.12 L82 501.8 L82.4 501.47 L82.8 501.14 L83.2 500.79 L83.6 500.43 L84 500.06 L84.4 499.68 L84.8 499.3 L85.2 498.9 L85.6 498.5 L86 498.09 L86.4 497.67 L86.8 497.24 L87.2 496.81 L87.6 496.37 L88 495.93 L88.4 495.48 L88.8 495.02 L89.2 494.56 L89.6 494.1 L90 493.63 L90.4 493.16 L90.8 492.68 L91.2 492.19 L91.6 491.67 L92 491.14 L92.4 490.59 L92.8 490.03 L93.2 489.45 L93.6 488.85 L94 488.25 L94.4 487.63 L94.8 487.01 L95.2 486.38 L95.6 485.75 L96 485.11 L96.4 484.47 L96.8 483.82 L97.2 483.18 L97.6 482.54 L98 481.9 L98.4 481.27 L98.8 480.64 L99.2 480.02 L99.6 479.41 L100 478.81 L100.4 478.22 L100.8 477.64 L101.2 477.07 L101.6 476.49 L102 475.89 L102.4 475.29 L102.8 474.69 L103.2 474.09 L103.6 473.49 L104 472.91 L104.4 472.34 L104.8 471.79 L105.2 471.26 L105.6 470.77 L106 470.3 L106.4 469.87 L106.8 469.48 L107.2 469.13 L107.6 468.79 L108 468.46 L108.4 468.17 L108.8 467.91 L109.2 467.71 L109.6 467.57 L110 467.45 L110.4 467.35 L110.8 467.26 L111.2 467.21 L111.6 467.2 L112 467.28 L112.4 467.45 L112.8 467.68 L113.2 467.95 L113.6 468.23 L114 468.5 L114.4 468.77 L114.8 469.06 L115.2 469.38 L115.6 469.71 L116 470.07 L116.4 470.46 L116.8 470.87 L117.2 471.3 L117.6 471.77 L118 472.3 L118.4 472.88 L118.8 473.5 L119.2 474.16 L119.6 474.86 L120 475.59 L120.4 476.33 L120.8 477.1 L121.2 477.88 L121.6 478.67 L122 479.46 L122.4 480.25 L122.8 481.04 L123.2 481.81 L123.6 482.56 L124 483.29 L124.4 484 L124.8 484.67 L125.2 485.3 L125.6 485.89 L126 486.48 L126.4 487.07 L126.8 487.65 L127.2 488.23 L127.6 488.81 L128 489.39 L128.4 489.95 L128.8 490.52 L129.2 491.08 L129.6 491.64 L130 492.18 L130.4 492.73 L130.8 493.26 L131.2 493.79 L131.6 494.31 L132 494.83 L132.4 495.33 L132.8 495.83 L133.2 496.31 L133.6 496.79 L134 497.25 L134.4 497.71 L134.8 498.15 L135.2 498.59 L135.6 499.01 L136 499.42 L136.4 499.81 L136.8 500.19 L137.2 500.56 L137.6 500.91 L138 501.26 L138.4 501.59 L138.8 501.93 L139.2 502.26 L139.6 502.59 L140 502.91 L140.4 503.23 L140.8 503.55 L141.2 503.86 L141.6 504.17 L142 504.47 L142.4 504.77 L142.8 505.06 L143.2 505.35 L143.6 505.63 L144 505.91 L144.4 506.18 L144.8 506.45 L145.2 506.71 L145.6 506.97 L146 507.22 L146.4 507.47 L146.8 507.7 L147.2 507.94 L147.6 508.16 L148 508.38 L148.4 508.6 L148.8 508.8 L149.2 509 L149.6 509.2 L150 509.38 L150.4 509.56 L150.8 509.73 L151.2 509.9 L151.6 510.05 L152 510.2 L152.4 510.34 L152.8 510.48 L153.2 510.61 L153.6 510.75 L154 510.87 L154.4 510.99 L154.8 511.11 L155.2 511.23 L155.6 511.34 L156 511.45 L156.4 511.56 L156.8 511.67 L157.2 511.77 L157.6 511.87 L158 511.97 L158.4 512.06 L158.8 512.16 L159.2 512.25 L159.6 512.34 L160 512.43 L160.4 512.52 L160.8 512.61 L161.2 512.69 L161.6 512.78 L162 512.86 L162.4 512.95 L162.8 513.03 L163.2 513.12 L163.6 513.2 L164 513.29 L164.4 513.37 L164.8 513.46 L165.2 513.54 L165.6 513.63 L166 513.72 L166.4 513.81 L166.8 513.9 L167.2 513.99 L167.6 514.08 L168 514.17 L168.4 514.26 L168.8 514.34 L169.2 514.43 L169.6 514.52 L170 514.61 L170.4 514.7 L170.8 514.79 L171.2 514.87 L171.6 514.96 L172 515.04 L172.4 515.13 L172.8 515.21 L173.2 515.29 L173.6 515.37 L174 515.44 L174.4 515.52 L174.8 515.59 L175.2 515.66 L175.6 515.73 L176 515.8 L176.4 515.86 L176.8 515.92 L177.2 515.98 L177.6 516.03 L178 516.09 L178.4 516.14 L178.8 516.18 L179.2 516.23 L179.6 516.26 L180 516.3 L180.4 516.33 L180.8 516.37 L181.2 516.4 L181.6 516.43 L182 516.47 L182.4 516.5 L182.8 516.53 L183.2 516.56 L183.6 516.59 L184 516.63 L184.4 516.66 L184.8 516.69 L185.2 516.72 L185.6 516.75 L186 516.78 L186.4 516.81 L186.8 516.84 L187.2 516.87 L187.6 516.9 L188 516.93 L188.4 516.95 L188.8 516.98 L189.2 517.01 L189.6 517.04 L190 517.06 L190.4 517.09 L190.8 517.12 L191.2 517.14 L191.6 517.17 L192 517.19 L192.4 517.22 L192.8 517.24 L193.2 517.26 L193.6 517.29 L194 517.31 L194.4 517.33 L194.8 517.36 L195.2 517.38 L195.6 517.4 L196 517.42 L196.4 517.44 L196.8 517.46 L197.2 517.48 L197.6 517.5 L198 517.51 L198.4 517.53 L198.8 517.55 L199.2 517.57 L199.6 517.58 L200 517.6 L200.4 517.61 L200.8 517.63 L201.2 517.64 L201.6 517.66 L202 517.67 L202.4 517.68 L202.8 517.69 L203.2 517.7 L203.6 517.71 L204 517.72 L204.4 517.73 L204.8 517.74 L205.2 517.75 L205.6 517.76 L206 517.77 L206.4 517.77 L206.8 517.78 L207.2 517.78 L207.6 517.79 L208 517.79 L208.4 517.79 L208.8 517.8 L209.2 517.8 L209.6 517.8 L210 517.8" fill="none" stroke="#8a8a8a" stroke-width="1.9" stroke-linejoin="round" stroke-linecap="round" />
<rect x="18" y="233.5" width="192.5" height="294.5" fill="none" stroke="#8c8c8c" stroke-width="1"/>
<line x1="18" y1="381" x2="210.5" y2="381" stroke="#a8a8a8" stroke-width="1.6" />
<line x1="18" y1="528" x2="18" y2="530.5" stroke="#777" stroke-width="0.8" />
<line x1="42.12" y1="528" x2="42.12" y2="529.5" stroke="#777" stroke-width="0.8" />
<line x1="66.25" y1="528" x2="66.25" y2="530.5" stroke="#777" stroke-width="0.8" />
<line x1="90.38" y1="528" x2="90.38" y2="529.5" stroke="#777" stroke-width="0.8" />
<line x1="114.5" y1="528" x2="114.5" y2="530.5" stroke="#777" stroke-width="0.8" />
<line x1="138.62" y1="528" x2="138.62" y2="529.5" stroke="#777" stroke-width="0.8" />
<line x1="162.75" y1="528" x2="162.75" y2="530.5" stroke="#777" stroke-width="0.8" />
<line x1="186.88" y1="528" x2="186.88" y2="529.5" stroke="#777" stroke-width="0.8" />
<line x1="211" y1="528" x2="211" y2="530.5" stroke="#777" stroke-width="0.8" />
<text x="18" y="540.1" font-size="9.2" font-weight="bold" fill="#000" text-anchor="middle" ><tspan>100</tspan></text>
<text x="66.25" y="540.1" font-size="9.2" font-weight="bold" fill="#000" text-anchor="middle" ><tspan>120</tspan></text>
<text x="114.5" y="540.1" font-size="9.2" font-weight="bold" fill="#000" text-anchor="middle" ><tspan>140</tspan></text>
<text x="162.75" y="540.1" font-size="9.2" font-weight="bold" fill="#000" text-anchor="middle" ><tspan>160</tspan></text>
<text x="211" y="540.1" font-size="9.2" font-weight="bold" fill="#000" text-anchor="middle" ><tspan>180</tspan></text>
<text x="58.9" y="560.8" font-size="12.5" font-weight="bold" fill="#000">Raman shift (cm<tspan dy="-4.5" font-size="8.5">-1</tspan><tspan dy="4.5">)</tspan></text>
<text x="11.8" y="391" font-size="12.4" font-weight="bold" fill="#000" text-anchor="middle" transform="rotate(-90 11.8 391)"><tspan>Intensity (a.u.)</tspan></text>
<text x="22.5" y="247" font-size="9.6" font-weight="bold" fill="#000" text-anchor="start" ><tspan>250 °C</tspan></text>
<text x="209" y="244" font-size="9.85" font-weight="bold" fill="#e0701e" text-anchor="end" ><tspan>0.3Pt/(TiO</tspan><tspan dy="2.95" font-size="6.89">2</tspan><tspan dy="-2.95">-T-500)</tspan></text>
<text x="92.6" y="263.5" font-size="9.6" font-weight="bold" fill="#e0701e" text-anchor="start" ><tspan>Blue shift</tspan></text>
<defs><marker id="ah_c" viewBox="0 0 10 10" refX="8" refY="5" markerWidth="4" markerHeight="4" orient="auto"><path d="M0 0 L10 5 L0 10 z" fill="#e07a2a"/></marker></defs>
<path d="M105.3 268 H121.5" stroke="#e07a2a" stroke-width="1.5" marker-end="url(#ah_c)"/>
<line x1="107.5" y1="271.4" x2="107.5" y2="312" stroke="#333" stroke-width="1.1" stroke-dasharray="5 2.8"/>
<line x1="119.5" y1="270" x2="119.5" y2="278" stroke="#333" stroke-width="1" stroke-dasharray="4 2.5"/>
<line x1="119.5" y1="291.5" x2="119.5" y2="297" stroke="#333" stroke-width="1" />
<line x1="108.2" y1="327.6" x2="108.2" y2="337.5" stroke="#333" stroke-width="1.1" stroke-dasharray="4.5 2.5"/>
<text x="110.8" y="284.3" font-size="9.6" font-weight="bold" fill="#000" text-anchor="start" ><tspan>143</tspan></text>
<text x="99.9" y="322.3" font-size="9.9" font-weight="bold" fill="#555" text-anchor="start" ><tspan>137</tspan></text>
<text x="20.6" y="332.2" font-size="9.6" font-weight="bold" fill="#cc6a1e" text-anchor="start" ><tspan>CO</tspan></text>
<text x="23.6" y="367.2" font-size="9.6" font-weight="bold" fill="#f59440" text-anchor="start" ><tspan>H</tspan><tspan dy="2.88" font-size="6.72">2</tspan></text>
<defs><linearGradient id="gO" x1="0" y1="0" x2="0" y2="1"><stop offset="0" stop-color="#f38a30"/><stop offset="0.4" stop-color="#f59a50" stop-opacity="0.85"/><stop offset="1" stop-color="#f5a060" stop-opacity="0.15"/></linearGradient><linearGradient id="gG" x1="0" y1="0" x2="0" y2="1"><stop offset="0" stop-color="#444"/><stop offset="0.4" stop-color="#666" stop-opacity="0.85"/><stop offset="1" stop-color="#888" stop-opacity="0.12"/></linearGradient></defs>
<path d="M196 338.4 L200.2 345.8 L197.8 345.8 L197.8 363.4 L194.2 363.4 L194.2 345.8 L191.8 345.8 Z" fill="url(#gO)"/>
<path d="M193.1 486.4 L197.3 493.8 L194.9 493.8 L194.9 511.4 L191.3 511.4 L191.3 493.8 L188.9 493.8 Z" fill="url(#gG)"/>
<text x="207.6" y="394" font-size="9.6" font-weight="bold" fill="#444" text-anchor="end" ><tspan>0.3Pt/(TiO</tspan><tspan dy="2.88" font-size="6.72">2</tspan><tspan dy="-2.88">-A)</tspan></text>
<text x="95.2" y="406.9" font-size="9.6" font-weight="bold" fill="#555" text-anchor="start" ><tspan>No shift</tspan></text>
<text x="103.2" y="419.1" font-size="9.9" font-weight="bold" fill="#000" text-anchor="start" ><tspan>139</tspan></text>
<line x1="111.5" y1="421" x2="111.5" y2="470.5" stroke="#333" stroke-width="1.1" stroke-dasharray="5 2.8"/>
<text x="20.2" y="470.5" font-size="9.6" font-weight="bold" fill="#3f3f3f" text-anchor="start" ><tspan>CO</tspan></text>
<text x="22.2" y="510.5" font-size="9.6" font-weight="bold" fill="#999" text-anchor="start" ><tspan>H</tspan><tspan dy="2.88" font-size="6.72">2</tspan></text>
<text x="216.8" y="238.4" font-size="21" font-weight="normal" fill="#000" text-anchor="start" ><tspan>d</tspan></text>
<rect x="307.2" y="302.4" width="20.4" height="224.9" fill="#eefbf8" />
<defs><linearGradient id="pg" x1="0" y1="0" x2="0" y2="1"><stop offset="0" stop-color="#1f8a62"/><stop offset="0.45" stop-color="#86c0a8"/><stop offset="1" stop-color="#f0f4f2"/></linearGradient><linearGradient id="pr" x1="0" y1="0" x2="0" y2="1"><stop offset="0" stop-color="#d6502a"/><stop offset="0.45" stop-color="#e8a08a"/><stop offset="1" stop-color="#f8ebe7"/></linearGradient><linearGradient id="pp" x1="0" y1="0" x2="0" y2="1"><stop offset="0" stop-color="#6458b0"/><stop offset="0.45" stop-color="#a8a2d4"/><stop offset="1" stop-color="#eeedf6"/></linearGradient></defs>
<line x1="351.6" y1="258" x2="351.6" y2="516" stroke="#888" stroke-width="0.8" stroke-dasharray="3 2"/>
<line x1="363.9" y1="293" x2="363.9" y2="516" stroke="#888" stroke-width="0.8" stroke-dasharray="3 2"/>
<path d="M319.15 318 L319.15 317.18 L319.55 317.16 L319.95 317.14 L320.35 317.12 L320.75 317.1 L321.15 317.08 L321.55 317.06 L321.95 317.03 L322.35 317.01 L322.75 316.98 L323.15 316.95 L323.55 316.92 L323.95 316.89 L324.35 316.86 L324.75 316.83 L325.15 316.8 L325.55 316.76 L325.95 316.73 L326.35 316.69 L326.75 316.65 L327.15 316.61 L327.55 316.56 L327.95 316.52 L328.35 316.47 L328.75 316.42 L329.15 316.37 L329.55 316.31 L329.95 316.25 L330.35 316.19 L330.75 316.13 L331.15 316.06 L331.55 315.99 L331.95 315.91 L332.35 315.83 L332.75 315.75 L333.15 315.66 L333.55 315.56 L333.95 315.46 L334.35 315.36 L334.75 315.24 L335.15 315.12 L335.55 314.99 L335.95 314.86 L336.35 314.71 L336.75 314.55 L337.15 314.38 L337.55 314.2 L337.95 314 L338.35 313.79 L338.75 313.56 L339.15 313.31 L339.55 313.03 L339.95 312.73 L340.35 312.4 L340.75 312.03 L341.15 311.62 L341.55 311.16 L341.95 310.66 L342.35 310.09 L342.75 309.46 L343.15 308.75 L343.55 307.96 L343.95 307.07 L344.35 306.07 L344.75 304.96 L345.15 303.72 L345.55 302.34 L345.95 300.81 L346.35 299.13 L346.75 297.28 L347.15 295.26 L347.55 293.07 L347.95 290.72 L348.35 288.21 L348.75 285.57 L349.15 282.84 L349.55 280.05 L349.95 277.29 L350.35 274.64 L350.75 272.21 L351.15 270.12 L351.55 268.49 L351.95 267.43 L352.35 267.01 L352.75 267.26 L353.15 268.17 L353.55 269.67 L353.95 271.65 L354.35 274.01 L354.75 276.61 L355.15 279.36 L355.55 282.14 L355.95 284.9 L356.35 287.56 L356.75 290.11 L357.15 292.5 L357.55 294.73 L357.95 296.79 L358.35 298.68 L358.75 300.41 L359.15 301.97 L359.55 303.39 L359.95 304.66 L360.35 305.8 L360.75 306.83 L361.15 307.74 L361.55 308.56 L361.95 309.29 L362.35 309.94 L362.75 310.52 L363.15 311.04 L363.55 311.51 L363.95 311.93 L364.35 312.31 L364.75 312.65 L365.15 312.96 L365.55 313.24 L365.95 313.5 L366.35 313.74 L366.75 313.95 L367.15 314.15 L367.55 314.34 L367.95 314.51 L368.35 314.67 L368.75 314.82 L369.15 314.96 L369.55 315.09 L369.95 315.21 L370.35 315.33 L370.75 315.44 L371.15 315.54 L371.55 315.64 L371.95 315.73 L372.35 315.81 L372.75 315.89 L373.15 315.97 L373.55 316.04 L373.95 316.11 L374.35 316.17 L374.75 316.24 L375.15 316.3 L375.55 316.35 L375.95 316.41 L376.35 316.46 L376.75 316.5 L377.15 316.55 L377.55 316.59 L377.95 316.64 L378.35 316.68 L378.75 316.72 L379.15 316.75 L379.55 316.79 L379.95 316.82 L380.35 316.85 L380.75 316.89 L381.15 316.92 L381.55 316.94 L381.95 316.97 L382.35 317 L382.75 317.02 L383.15 317.05 L383.55 317.07 L383.95 317.1 L384.35 317.12 L384.75 317.14 L385.15 317.16 L385.55 317.18 L385.55 318 Z" fill="url(#pg)"/>
<path d="M331.65 318 L331.65 317.66 L332.05 317.65 L332.45 317.64 L332.85 317.63 L333.25 317.62 L333.65 317.61 L334.05 317.6 L334.45 317.59 L334.85 317.58 L335.25 317.57 L335.65 317.56 L336.05 317.55 L336.45 317.53 L336.85 317.52 L337.25 317.51 L337.65 317.49 L338.05 317.48 L338.45 317.46 L338.85 317.45 L339.25 317.43 L339.65 317.41 L340.05 317.39 L340.45 317.37 L340.85 317.35 L341.25 317.33 L341.65 317.3 L342.05 317.28 L342.45 317.26 L342.85 317.23 L343.25 317.2 L343.65 317.17 L344.05 317.14 L344.45 317.11 L344.85 317.07 L345.25 317.03 L345.65 316.99 L346.05 316.95 L346.45 316.91 L346.85 316.86 L347.25 316.81 L347.65 316.75 L348.05 316.69 L348.45 316.63 L348.85 316.57 L349.25 316.49 L349.65 316.42 L350.05 316.33 L350.45 316.24 L350.85 316.14 L351.25 316.03 L351.65 315.92 L352.05 315.79 L352.45 315.64 L352.85 315.48 L353.25 315.31 L353.65 315.11 L354.05 314.89 L354.45 314.64 L354.85 314.36 L355.25 314.05 L355.65 313.7 L356.05 313.31 L356.45 312.87 L356.85 312.38 L357.25 311.83 L357.65 311.21 L358.05 310.53 L358.45 309.79 L358.85 308.97 L359.25 308.07 L359.65 307.1 L360.05 306.06 L360.45 304.96 L360.85 303.81 L361.25 302.63 L361.65 301.44 L362.05 300.29 L362.45 299.21 L362.85 298.27 L363.25 297.5 L363.65 296.98 L364.05 296.72 L364.45 296.76 L364.85 297.08 L365.25 297.67 L365.65 298.49 L366.05 299.47 L366.45 300.57 L366.85 301.74 L367.25 302.92 L367.65 304.1 L368.05 305.24 L368.45 306.33 L368.85 307.35 L369.25 308.3 L369.65 309.18 L370.05 309.98 L370.45 310.71 L370.85 311.37 L371.25 311.97 L371.65 312.5 L372.05 312.98 L372.45 313.41 L372.85 313.79 L373.25 314.13 L373.65 314.44 L374.05 314.7 L374.45 314.94 L374.85 315.16 L375.25 315.35 L375.65 315.52 L376.05 315.68 L376.45 315.82 L376.85 315.95 L377.25 316.06 L377.65 316.17 L378.05 316.26 L378.45 316.35 L378.85 316.44 L379.25 316.51 L379.65 316.58 L380.05 316.65 L380.45 316.71 L380.85 316.77 L381.25 316.82 L381.65 316.87 L382.05 316.92 L382.45 316.96 L382.85 317 L383.25 317.04 L383.65 317.08 L384.05 317.11 L384.45 317.15 L384.85 317.18 L385.25 317.21 L385.65 317.24 L386.05 317.26 L386.45 317.29 L386.85 317.31 L387.25 317.33 L387.65 317.36 L388.05 317.38 L388.45 317.4 L388.85 317.41 L389.25 317.43 L389.65 317.45 L390.05 317.47 L390.45 317.48 L390.85 317.5 L391.25 317.51 L391.65 317.52 L392.05 317.54 L392.45 317.55 L392.85 317.56 L393.25 317.57 L393.65 317.59 L394.05 317.6 L394.45 317.61 L394.85 317.62 L395.25 317.63 L395.65 317.64 L396.05 317.64 L396.45 317.65 L396.45 318 Z" fill="url(#pr)"/>
<path d="M322.6 383.5 L322.6 383.34 L323 383.33 L323.4 383.33 L323.8 383.32 L324.2 383.32 L324.6 383.31 L325 383.3 L325.4 383.3 L325.8 383.29 L326.2 383.28 L326.6 383.28 L327 383.27 L327.4 383.26 L327.8 383.25 L328.2 383.25 L328.6 383.24 L329 383.23 L329.4 383.22 L329.8 383.21 L330.2 383.19 L330.6 383.18 L331 383.17 L331.4 383.16 L331.8 383.14 L332.2 383.13 L332.6 383.11 L333 383.1 L333.4 383.08 L333.8 383.06 L334.2 383.04 L334.6 383.02 L335 382.99 L335.4 382.97 L335.8 382.94 L336.2 382.91 L336.6 382.88 L337 382.84 L337.4 382.81 L337.8 382.77 L338.2 382.72 L338.6 382.67 L339 382.62 L339.4 382.56 L339.8 382.49 L340.2 382.42 L340.6 382.34 L341 382.24 L341.4 382.14 L341.8 382.02 L342.2 381.88 L342.6 381.72 L343 381.54 L343.4 381.34 L343.8 381.1 L344.2 380.84 L344.6 380.53 L345 380.19 L345.4 379.8 L345.8 379.36 L346.2 378.88 L346.6 378.35 L347 377.77 L347.4 377.15 L347.8 376.5 L348.2 375.84 L348.6 375.18 L349 374.55 L349.4 374 L349.8 373.57 L350.2 373.3 L350.6 373.2 L351 373.3 L351.4 373.57 L351.8 374 L352.2 374.55 L352.6 375.18 L353 375.84 L353.4 376.5 L353.8 377.15 L354.2 377.77 L354.6 378.35 L355 378.88 L355.4 379.36 L355.8 379.8 L356.2 380.19 L356.6 380.53 L357 380.84 L357.4 381.1 L357.8 381.34 L358.2 381.54 L358.6 381.72 L359 381.88 L359.4 382.02 L359.8 382.14 L360.2 382.24 L360.6 382.34 L361 382.42 L361.4 382.49 L361.8 382.56 L362.2 382.62 L362.6 382.67 L363 382.72 L363.4 382.77 L363.8 382.81 L364.2 382.84 L364.6 382.88 L365 382.91 L365.4 382.94 L365.8 382.97 L366.2 382.99 L366.6 383.02 L367 383.04 L367.4 383.06 L367.8 383.08 L368.2 383.1 L368.6 383.11 L369 383.13 L369.4 383.14 L369.8 383.16 L370.2 383.17 L370.6 383.18 L371 383.19 L371.4 383.21 L371.8 383.22 L372.2 383.23 L372.6 383.24 L373 383.25 L373.4 383.25 L373.8 383.26 L374.2 383.27 L374.6 383.28 L375 383.28 L375.4 383.29 L375.8 383.3 L376.2 383.3 L376.6 383.31 L377 383.32 L377.4 383.32 L377.8 383.33 L378.2 383.33 L378.6 383.34 L378.6 383.5 Z" fill="url(#pg)"/>
<path d="M328.35 383.5 L328.35 382.74 L328.75 382.72 L329.15 382.7 L329.55 382.69 L329.95 382.67 L330.35 382.65 L330.75 382.63 L331.15 382.61 L331.55 382.59 L331.95 382.57 L332.35 382.54 L332.75 382.52 L333.15 382.5 L333.55 382.47 L333.95 382.45 L334.35 382.42 L334.75 382.39 L335.15 382.36 L335.55 382.33 L335.95 382.3 L336.35 382.27 L336.75 382.23 L337.15 382.2 L337.55 382.16 L337.95 382.12 L338.35 382.08 L338.75 382.04 L339.15 382 L339.55 381.95 L339.95 381.91 L340.35 381.86 L340.75 381.8 L341.15 381.75 L341.55 381.69 L341.95 381.63 L342.35 381.57 L342.75 381.5 L343.15 381.44 L343.55 381.36 L343.95 381.29 L344.35 381.2 L344.75 381.12 L345.15 381.03 L345.55 380.93 L345.95 380.83 L346.35 380.72 L346.75 380.61 L347.15 380.49 L347.55 380.36 L347.95 380.22 L348.35 380.08 L348.75 379.92 L349.15 379.75 L349.55 379.57 L349.95 379.38 L350.35 379.17 L350.75 378.94 L351.15 378.69 L351.55 378.42 L351.95 378.13 L352.35 377.81 L352.75 377.45 L353.15 377.06 L353.55 376.63 L353.95 376.16 L354.35 375.63 L354.75 375.05 L355.15 374.4 L355.55 373.68 L355.95 372.89 L356.35 372.01 L356.75 371.04 L357.15 369.97 L357.55 368.79 L357.95 367.5 L358.35 366.08 L358.75 364.55 L359.15 362.88 L359.55 361.08 L359.95 359.16 L360.35 357.11 L360.75 354.95 L361.15 352.69 L361.55 350.36 L361.95 348.01 L362.35 345.67 L362.75 343.41 L363.15 341.3 L363.55 339.42 L363.95 337.86 L364.35 336.7 L364.75 336 L365.15 335.8 L365.55 336.13 L365.95 336.95 L366.35 338.21 L366.75 339.86 L367.15 341.81 L367.55 343.96 L367.95 346.25 L368.35 348.6 L368.75 350.95 L369.15 353.26 L369.55 355.5 L369.95 357.63 L370.35 359.65 L370.75 361.54 L371.15 363.31 L371.55 364.94 L371.95 366.45 L372.35 367.83 L372.75 369.09 L373.15 370.24 L373.55 371.29 L373.95 372.24 L374.35 373.09 L374.75 373.87 L375.15 374.57 L375.55 375.2 L375.95 375.77 L376.35 376.28 L376.75 376.74 L377.15 377.16 L377.55 377.55 L377.95 377.89 L378.35 378.21 L378.75 378.49 L379.15 378.76 L379.55 379 L379.95 379.22 L380.35 379.43 L380.75 379.62 L381.15 379.8 L381.55 379.96 L381.95 380.12 L382.35 380.26 L382.75 380.39 L383.15 380.52 L383.55 380.64 L383.95 380.75 L384.35 380.86 L384.75 380.96 L385.15 381.05 L385.55 381.14 L385.95 381.22 L386.35 381.3 L386.75 381.38 L387.15 381.45 L387.55 381.52 L387.95 381.59 L388.35 381.65 L388.75 381.71 L389.15 381.76 L389.55 381.82 L389.95 381.87 L390.35 381.92 L390.75 381.97 L391.15 382.01 L391.55 382.05 L391.95 382.09 L392.35 382.13 L392.75 382.17 L393.15 382.21 L393.55 382.24 L393.95 382.28 L394.35 382.31 L394.75 382.34 L395.15 382.37 L395.55 382.4 L395.95 382.43 L396.35 382.45 L396.75 382.48 L397.15 382.5 L397.55 382.53 L397.95 382.55 L398.35 382.57 L398.75 382.59 L399.15 382.61 L399.55 382.63 L399.95 382.65 L400.35 382.67 L400.75 382.69 L401.15 382.71 L401.55 382.72 L401.55 383.5 Z" fill="url(#pr)"/>
<path d="M340.4 383.5 L340.4 383.22 L340.8 383.21 L341.2 383.21 L341.6 383.2 L342 383.2 L342.4 383.19 L342.8 383.18 L343.2 383.18 L343.6 383.17 L344 383.16 L344.4 383.15 L344.8 383.15 L345.2 383.14 L345.6 383.13 L346 383.12 L346.4 383.11 L346.8 383.1 L347.2 383.09 L347.6 383.08 L348 383.07 L348.4 383.06 L348.8 383.05 L349.2 383.04 L349.6 383.02 L350 383.01 L350.4 383 L350.8 382.98 L351.2 382.97 L351.6 382.95 L352 382.94 L352.4 382.92 L352.8 382.9 L353.2 382.89 L353.6 382.87 L354 382.85 L354.4 382.83 L354.8 382.81 L355.2 382.78 L355.6 382.76 L356 382.74 L356.4 382.71 L356.8 382.68 L357.2 382.65 L357.6 382.62 L358 382.59 L358.4 382.56 L358.8 382.52 L359.2 382.49 L359.6 382.45 L360 382.41 L360.4 382.36 L360.8 382.31 L361.2 382.26 L361.6 382.21 L362 382.15 L362.4 382.09 L362.8 382.03 L363.2 381.96 L363.6 381.88 L364 381.8 L364.4 381.71 L364.8 381.61 L365.2 381.51 L365.6 381.39 L366 381.27 L366.4 381.13 L366.8 380.98 L367.2 380.81 L367.6 380.63 L368 380.43 L368.4 380.21 L368.8 379.96 L369.2 379.69 L369.6 379.39 L370 379.06 L370.4 378.7 L370.8 378.3 L371.2 377.87 L371.6 377.4 L372 376.89 L372.4 376.33 L372.8 375.73 L373.2 375.09 L373.6 374.4 L374 373.68 L374.4 372.91 L374.8 372.12 L375.2 371.3 L375.6 370.48 L376 369.66 L376.4 368.86 L376.8 368.12 L377.2 367.45 L377.6 366.87 L378 366.43 L378.4 366.13 L378.8 366.01 L379.2 366.05 L379.6 366.26 L380 366.63 L380.4 367.15 L380.8 367.77 L381.2 368.48 L381.6 369.26 L382 370.07 L382.4 370.89 L382.8 371.71 L383.2 372.52 L383.6 373.3 L384 374.04 L384.4 374.75 L384.8 375.41 L385.2 376.04 L385.6 376.61 L386 377.15 L386.4 377.64 L386.8 378.09 L387.2 378.51 L387.6 378.88 L388 379.23 L388.4 379.54 L388.8 379.83 L389.2 380.09 L389.6 380.32 L390 380.53 L390.4 380.72 L390.8 380.9 L391.2 381.06 L391.6 381.2 L392 381.33 L392.4 381.45 L392.8 381.56 L393.2 381.66 L393.6 381.76 L394 381.84 L394.4 381.92 L394.8 381.99 L395.2 382.06 L395.6 382.12 L396 382.18 L396.4 382.24 L396.8 382.29 L397.2 382.34 L397.6 382.38 L398 382.43 L398.4 382.47 L398.8 382.51 L399.2 382.54 L399.6 382.58 L400 382.61 L400.4 382.64 L400.8 382.67 L401.2 382.7 L401.6 382.72 L402 382.75 L402.4 382.77 L402.8 382.8 L403.2 382.82 L403.6 382.84 L404 382.86 L404.4 382.88 L404.8 382.9 L405.2 382.91 L405.6 382.93 L406 382.95 L406.4 382.96 L406.8 382.98 L407.2 382.99 L407.6 383 L408 383.02 L408.4 383.03 L408.8 383.04 L409.2 383.05 L409.6 383.06 L410 383.08 L410.4 383.09 L410.8 383.1 L411.2 383.11 L411.6 383.11 L412 383.12 L412.4 383.13 L412.8 383.14 L413.2 383.15 L413.6 383.16 L414 383.16 L414.4 383.17 L414.8 383.18 L415.2 383.19 L415.6 383.19 L416 383.2 L416.4 383.21 L416.8 383.21 L417.2 383.22 L417.2 383.5 Z" fill="url(#pp)"/>
<path d="M319.3 449.5 L319.3 448.71 L319.7 448.69 L320.1 448.67 L320.5 448.65 L320.9 448.62 L321.3 448.6 L321.7 448.58 L322.1 448.55 L322.5 448.53 L322.9 448.5 L323.3 448.47 L323.7 448.44 L324.1 448.41 L324.5 448.38 L324.9 448.35 L325.3 448.31 L325.7 448.28 L326.1 448.24 L326.5 448.2 L326.9 448.16 L327.3 448.12 L327.7 448.07 L328.1 448.02 L328.5 447.97 L328.9 447.92 L329.3 447.87 L329.7 447.81 L330.1 447.75 L330.5 447.68 L330.9 447.62 L331.3 447.54 L331.7 447.47 L332.1 447.39 L332.5 447.3 L332.9 447.21 L333.3 447.12 L333.7 447.02 L334.1 446.91 L334.5 446.79 L334.9 446.67 L335.3 446.54 L335.7 446.4 L336.1 446.25 L336.5 446.08 L336.9 445.91 L337.3 445.72 L337.7 445.51 L338.1 445.29 L338.5 445.05 L338.9 444.78 L339.3 444.49 L339.7 444.16 L340.1 443.8 L340.5 443.41 L340.9 442.96 L341.3 442.47 L341.7 441.91 L342.1 441.28 L342.5 440.58 L342.9 439.79 L343.3 438.91 L343.7 437.91 L344.1 436.79 L344.5 435.54 L344.9 434.15 L345.3 432.6 L345.7 430.88 L346.1 429 L346.5 426.94 L346.9 424.7 L347.3 422.29 L347.7 419.73 L348.1 417.05 L348.5 414.27 L348.9 411.48 L349.3 408.74 L349.7 406.17 L350.1 403.88 L350.5 402.01 L350.9 400.68 L351.3 399.99 L351.7 399.99 L352.1 400.68 L352.5 402.01 L352.9 403.88 L353.3 406.17 L353.7 408.74 L354.1 411.48 L354.5 414.27 L354.9 417.05 L355.3 419.73 L355.7 422.29 L356.1 424.7 L356.5 426.94 L356.9 429 L357.3 430.88 L357.7 432.6 L358.1 434.15 L358.5 435.54 L358.9 436.79 L359.3 437.91 L359.7 438.91 L360.1 439.79 L360.5 440.58 L360.9 441.28 L361.3 441.91 L361.7 442.47 L362.1 442.96 L362.5 443.41 L362.9 443.8 L363.3 444.16 L363.7 444.49 L364.1 444.78 L364.5 445.05 L364.9 445.29 L365.3 445.51 L365.7 445.72 L366.1 445.91 L366.5 446.08 L366.9 446.25 L367.3 446.4 L367.7 446.54 L368.1 446.67 L368.5 446.79 L368.9 446.91 L369.3 447.02 L369.7 447.12 L370.1 447.21 L370.5 447.3 L370.9 447.39 L371.3 447.47 L371.7 447.54 L372.1 447.62 L372.5 447.68 L372.9 447.75 L373.3 447.81 L373.7 447.87 L374.1 447.92 L374.5 447.97 L374.9 448.02 L375.3 448.07 L375.7 448.12 L376.1 448.16 L376.5 448.2 L376.9 448.24 L377.3 448.28 L377.7 448.31 L378.1 448.35 L378.5 448.38 L378.9 448.41 L379.3 448.44 L379.7 448.47 L380.1 448.5 L380.5 448.53 L380.9 448.55 L381.3 448.58 L381.7 448.6 L382.1 448.62 L382.5 448.65 L382.9 448.67 L383.3 448.69 L383.7 448.71 L383.7 449.5 Z" fill="url(#pg)"/>
<path d="M330.9 449.5 L330.9 449.29 L331.3 449.29 L331.7 449.28 L332.1 449.28 L332.5 449.27 L332.9 449.27 L333.3 449.26 L333.7 449.25 L334.1 449.25 L334.5 449.24 L334.9 449.23 L335.3 449.22 L335.7 449.22 L336.1 449.21 L336.5 449.2 L336.9 449.19 L337.3 449.18 L337.7 449.17 L338.1 449.16 L338.5 449.15 L338.9 449.14 L339.3 449.13 L339.7 449.12 L340.1 449.1 L340.5 449.09 L340.9 449.08 L341.3 449.06 L341.7 449.04 L342.1 449.03 L342.5 449.01 L342.9 448.99 L343.3 448.97 L343.7 448.95 L344.1 448.93 L344.5 448.91 L344.9 448.88 L345.3 448.85 L345.7 448.83 L346.1 448.8 L346.5 448.76 L346.9 448.73 L347.3 448.69 L347.7 448.65 L348.1 448.61 L348.5 448.57 L348.9 448.52 L349.3 448.46 L349.7 448.4 L350.1 448.34 L350.5 448.27 L350.9 448.2 L351.3 448.11 L351.7 448.02 L352.1 447.91 L352.5 447.8 L352.9 447.67 L353.3 447.53 L353.7 447.36 L354.1 447.18 L354.5 446.98 L354.9 446.74 L355.3 446.49 L355.7 446.19 L356.1 445.87 L356.5 445.51 L356.9 445.1 L357.3 444.66 L357.7 444.17 L358.1 443.63 L358.5 443.05 L358.9 442.42 L359.3 441.76 L359.7 441.06 L360.1 440.34 L360.5 439.61 L360.9 438.9 L361.3 438.23 L361.7 437.64 L362.1 437.15 L362.5 436.8 L362.9 436.62 L363.3 436.62 L363.7 436.8 L364.1 437.15 L364.5 437.64 L364.9 438.23 L365.3 438.9 L365.7 439.61 L366.1 440.34 L366.5 441.06 L366.9 441.76 L367.3 442.42 L367.7 443.05 L368.1 443.63 L368.5 444.17 L368.9 444.66 L369.3 445.1 L369.7 445.51 L370.1 445.87 L370.5 446.19 L370.9 446.49 L371.3 446.74 L371.7 446.98 L372.1 447.18 L372.5 447.36 L372.9 447.53 L373.3 447.67 L373.7 447.8 L374.1 447.91 L374.5 448.02 L374.9 448.11 L375.3 448.2 L375.7 448.27 L376.1 448.34 L376.5 448.4 L376.9 448.46 L377.3 448.52 L377.7 448.57 L378.1 448.61 L378.5 448.65 L378.9 448.69 L379.3 448.73 L379.7 448.76 L380.1 448.8 L380.5 448.83 L380.9 448.85 L381.3 448.88 L381.7 448.91 L382.1 448.93 L382.5 448.95 L382.9 448.97 L383.3 448.99 L383.7 449.01 L384.1 449.03 L384.5 449.04 L384.9 449.06 L385.3 449.08 L385.7 449.09 L386.1 449.1 L386.5 449.12 L386.9 449.13 L387.3 449.14 L387.7 449.15 L388.1 449.16 L388.5 449.17 L388.9 449.18 L389.3 449.19 L389.7 449.2 L390.1 449.21 L390.5 449.22 L390.9 449.22 L391.3 449.23 L391.7 449.24 L392.1 449.25 L392.5 449.25 L392.9 449.26 L393.3 449.27 L393.7 449.27 L394.1 449.28 L394.5 449.28 L394.9 449.29 L395.3 449.29 L395.3 449.5 Z" fill="url(#pr)"/>
<path d="M319.7 519.8 L319.7 519.01 L320.1 518.99 L320.5 518.97 L320.9 518.95 L321.3 518.93 L321.7 518.91 L322.1 518.88 L322.5 518.86 L322.9 518.83 L323.3 518.81 L323.7 518.78 L324.1 518.75 L324.5 518.72 L324.9 518.69 L325.3 518.65 L325.7 518.62 L326.1 518.58 L326.5 518.55 L326.9 518.51 L327.3 518.47 L327.7 518.42 L328.1 518.38 L328.5 518.33 L328.9 518.28 L329.3 518.23 L329.7 518.18 L330.1 518.12 L330.5 518.06 L330.9 517.99 L331.3 517.93 L331.7 517.86 L332.1 517.78 L332.5 517.7 L332.9 517.62 L333.3 517.53 L333.7 517.43 L334.1 517.33 L334.5 517.22 L334.9 517.11 L335.3 516.99 L335.7 516.86 L336.1 516.72 L336.5 516.57 L336.9 516.4 L337.3 516.23 L337.7 516.04 L338.1 515.84 L338.5 515.61 L338.9 515.37 L339.3 515.11 L339.7 514.82 L340.1 514.49 L340.5 514.14 L340.9 513.74 L341.3 513.3 L341.7 512.81 L342.1 512.26 L342.5 511.63 L342.9 510.94 L343.3 510.15 L343.7 509.27 L344.1 508.28 L344.5 507.17 L344.9 505.92 L345.3 504.54 L345.7 503 L346.1 501.3 L346.5 499.42 L346.9 497.37 L347.3 495.15 L347.7 492.76 L348.1 490.21 L348.5 487.54 L348.9 484.79 L349.3 482.01 L349.7 479.29 L350.1 476.73 L350.5 474.46 L350.9 472.6 L351.3 471.28 L351.7 470.59 L352.1 470.59 L352.5 471.28 L352.9 472.6 L353.3 474.46 L353.7 476.73 L354.1 479.29 L354.5 482.01 L354.9 484.79 L355.3 487.54 L355.7 490.21 L356.1 492.76 L356.5 495.15 L356.9 497.37 L357.3 499.42 L357.7 501.3 L358.1 503 L358.5 504.54 L358.9 505.92 L359.3 507.17 L359.7 508.28 L360.1 509.27 L360.5 510.15 L360.9 510.94 L361.3 511.63 L361.7 512.26 L362.1 512.81 L362.5 513.3 L362.9 513.74 L363.3 514.14 L363.7 514.49 L364.1 514.82 L364.5 515.11 L364.9 515.37 L365.3 515.61 L365.7 515.84 L366.1 516.04 L366.5 516.23 L366.9 516.4 L367.3 516.57 L367.7 516.72 L368.1 516.86 L368.5 516.99 L368.9 517.11 L369.3 517.22 L369.7 517.33 L370.1 517.43 L370.5 517.53 L370.9 517.62 L371.3 517.7 L371.7 517.78 L372.1 517.86 L372.5 517.93 L372.9 517.99 L373.3 518.06 L373.7 518.12 L374.1 518.18 L374.5 518.23 L374.9 518.28 L375.3 518.33 L375.7 518.38 L376.1 518.42 L376.5 518.47 L376.9 518.51 L377.3 518.55 L377.7 518.58 L378.1 518.62 L378.5 518.65 L378.9 518.69 L379.3 518.72 L379.7 518.75 L380.1 518.78 L380.5 518.81 L380.9 518.83 L381.3 518.86 L381.7 518.88 L382.1 518.91 L382.5 518.93 L382.9 518.95 L383.3 518.97 L383.7 518.99 L384.1 519.01 L384.1 519.8 Z" fill="url(#pg)"/>
<path d="M329.5 519.8 L329.5 519.54 L329.9 519.53 L330.3 519.53 L330.7 519.52 L331.1 519.51 L331.5 519.5 L331.9 519.5 L332.3 519.49 L332.7 519.48 L333.1 519.47 L333.5 519.47 L333.9 519.46 L334.3 519.45 L334.7 519.44 L335.1 519.43 L335.5 519.42 L335.9 519.41 L336.3 519.4 L336.7 519.38 L337.1 519.37 L337.5 519.36 L337.9 519.35 L338.3 519.33 L338.7 519.32 L339.1 519.3 L339.5 519.29 L339.9 519.27 L340.3 519.25 L340.7 519.24 L341.1 519.22 L341.5 519.2 L341.9 519.17 L342.3 519.15 L342.7 519.13 L343.1 519.1 L343.5 519.08 L343.9 519.05 L344.3 519.02 L344.7 518.99 L345.1 518.96 L345.5 518.92 L345.9 518.89 L346.3 518.85 L346.7 518.8 L347.1 518.76 L347.5 518.71 L347.9 518.66 L348.3 518.6 L348.7 518.55 L349.1 518.48 L349.5 518.41 L349.9 518.34 L350.3 518.26 L350.7 518.17 L351.1 518.07 L351.5 517.96 L351.9 517.84 L352.3 517.71 L352.7 517.57 L353.1 517.41 L353.5 517.23 L353.9 517.02 L354.3 516.8 L354.7 516.55 L355.1 516.27 L355.5 515.96 L355.9 515.61 L356.3 515.23 L356.7 514.8 L357.1 514.33 L357.5 513.81 L357.9 513.24 L358.3 512.62 L358.7 511.95 L359.1 511.23 L359.5 510.46 L359.9 509.65 L360.3 508.81 L360.7 507.94 L361.1 507.08 L361.5 506.23 L361.9 505.44 L362.3 504.73 L362.7 504.14 L363.1 503.71 L363.5 503.46 L363.9 503.41 L364.3 503.56 L364.7 503.9 L365.1 504.42 L365.5 505.07 L365.9 505.83 L366.3 506.65 L366.7 507.51 L367.1 508.38 L367.5 509.24 L367.9 510.06 L368.3 510.85 L368.7 511.6 L369.1 512.3 L369.5 512.94 L369.9 513.53 L370.3 514.08 L370.7 514.57 L371.1 515.02 L371.5 515.43 L371.9 515.79 L372.3 516.12 L372.7 516.41 L373.1 516.68 L373.5 516.92 L373.9 517.13 L374.3 517.32 L374.7 517.49 L375.1 517.64 L375.5 517.78 L375.9 517.9 L376.3 518.02 L376.7 518.12 L377.1 518.21 L377.5 518.3 L377.9 518.38 L378.3 518.45 L378.7 518.51 L379.1 518.58 L379.5 518.63 L379.9 518.69 L380.3 518.74 L380.7 518.78 L381.1 518.83 L381.5 518.87 L381.9 518.9 L382.3 518.94 L382.7 518.97 L383.1 519.01 L383.5 519.04 L383.9 519.06 L384.3 519.09 L384.7 519.12 L385.1 519.14 L385.5 519.16 L385.9 519.19 L386.3 519.21 L386.7 519.23 L387.1 519.24 L387.5 519.26 L387.9 519.28 L388.3 519.3 L388.7 519.31 L389.1 519.33 L389.5 519.34 L389.9 519.35 L390.3 519.37 L390.7 519.38 L391.1 519.39 L391.5 519.4 L391.9 519.41 L392.3 519.42 L392.7 519.43 L393.1 519.44 L393.5 519.45 L393.9 519.46 L394.3 519.47 L394.7 519.48 L395.1 519.49 L395.5 519.49 L395.9 519.5 L396.3 519.51 L396.7 519.52 L397.1 519.52 L397.5 519.53 L397.9 519.53 L397.9 519.8 Z" fill="url(#pr)"/>
<path d="M301.4 318 L301.8 317.98 L302.2 317.96 L302.6 317.94 L303 317.93 L303.4 317.91 L303.8 317.89 L304.2 317.88 L304.6 317.86 L305 317.85 L305.4 317.83 L305.8 317.82 L306.2 317.81 L306.6 317.79 L307 317.78 L307.4 317.77 L307.8 317.76 L308.2 317.75 L308.6 317.74 L309 317.73 L309.4 317.72 L309.8 317.71 L310.2 317.7 L310.6 317.69 L311 317.68 L311.4 317.67 L311.8 317.67 L312.2 317.66 L312.6 317.65 L313 317.65 L313.4 317.64 L313.8 317.64 L314.2 317.63 L314.6 317.63 L315 317.62 L315.4 317.62 L315.8 317.62 L316.2 317.61 L316.6 317.61 L317 317.61 L317.4 317.61 L317.8 317.6 L318.2 317.6 L318.6 317.6 L319 317.6 L319.4 317.6 L319.8 317.6 L320.2 317.6 L320.6 317.6 L321 317.61 L321.4 317.61 L321.8 317.62 L322.2 317.62 L322.6 317.63 L323 317.64 L323.4 317.65 L323.8 317.66 L324.2 317.68 L324.6 317.69 L325 317.7 L325.4 317.71 L325.8 317.72 L326.2 317.74 L326.6 317.75 L327 317.76 L327.4 317.77 L327.8 317.78 L328.2 317.78 L328.6 317.79 L329 317.79 L329.4 317.8 L329.8 317.8 L330.2 317.8 L330.6 317.78 L331 317.73 L331.4 317.67 L331.8 317.59 L332.2 317.5 L332.6 317.39 L333 317.26 L333.4 317.13 L333.8 316.99 L334.2 316.83 L334.6 316.67 L335 316.51 L335.4 316.34 L335.8 316.17 L336.2 316 L336.6 315.82 L337 315.62 L337.4 315.4 L337.8 315.16 L338.2 314.9 L338.6 314.61 L339 314.31 L339.4 313.98 L339.8 313.62 L340.2 313.25 L340.6 312.85 L341 312.42 L341.4 311.97 L341.8 311.44 L342.2 310.85 L342.6 310.18 L343 309.44 L343.4 308.61 L343.8 307.71 L344.2 306.73 L344.6 305.66 L345 304.49 L345.4 303.02 L345.8 301.2 L346.2 299.14 L346.6 296.92 L347 294.61 L347.4 292.3 L347.8 289.91 L348.2 287.33 L348.6 284.65 L349 281.92 L349.4 279.21 L349.8 276.12 L350.2 272.88 L350.6 269.99 L351 267.93 L351.4 266.77 L351.8 265.84 L352.2 265.28 L352.6 265.27 L353 265.73 L353.4 266.43 L353.8 267.2 L354.2 268.21 L354.6 269.5 L355 271.44 L355.4 273.99 L355.8 276.51 L356.2 278.4 L356.6 279.95 L357 281.39 L357.4 282.69 L357.8 283.84 L358.2 284.82 L358.6 285.6 L359 286.24 L359.4 286.8 L359.8 287.29 L360.2 287.74 L360.6 288.15 L361 288.53 L361.4 288.91 L361.8 289.29 L362.2 289.69 L362.6 290.11 L363 290.49 L363.4 290.86 L363.8 291.22 L364.2 291.6 L364.6 291.99 L365 292.42 L365.4 292.9 L365.8 293.44 L366.2 294.05 L366.6 294.71 L367 295.41 L367.4 296.15 L367.8 296.92 L368.2 297.7 L368.6 298.5 L369 299.35 L369.4 300.29 L369.8 301.28 L370.2 302.31 L370.6 303.35 L371 304.36 L371.4 305.33 L371.8 306.22 L372.2 307.02 L372.6 307.73 L373 308.43 L373.4 309.11 L373.8 309.79 L374.2 310.43 L374.6 311.06 L375 311.64 L375.4 312.19 L375.8 312.7 L376.2 313.15 L376.6 313.55 L377 313.89 L377.4 314.16 L377.8 314.41 L378.2 314.64 L378.6 314.86 L379 315.07 L379.4 315.26 L379.8 315.45 L380.2 315.62 L380.6 315.78 L381 315.92 L381.4 316.06 L381.8 316.19 L382.2 316.3 L382.6 316.41 L383 316.5 L383.4 316.58 L383.8 316.66 L384.2 316.73 L384.6 316.8 L385 316.87 L385.4 316.94 L385.8 317 L386.2 317.07 L386.6 317.13 L387 317.18 L387.4 317.24 L387.8 317.29 L388.2 317.34 L388.6 317.38 L389 317.42 L389.4 317.46 L389.8 317.49 L390.2 317.52 L390.6 317.55 L391 317.57 L391.4 317.59 L391.8 317.6 L392.2 317.6 L392.6 317.61 L393 317.62 L393.4 317.62 L393.8 317.63 L394.2 317.63 L394.6 317.64 L395 317.64 L395.4 317.65 L395.8 317.65 L396.2 317.66 L396.6 317.66 L397 317.67 L397.4 317.67 L397.8 317.68 L398.2 317.68 L398.6 317.69 L399 317.69 L399.4 317.7 L399.8 317.7 L400.2 317.7 L400.6 317.71 L401 317.71 L401.4 317.72 L401.8 317.72 L402.2 317.72 L402.6 317.73 L403 317.73 L403.4 317.73 L403.8 317.74 L404.2 317.74 L404.6 317.74 L405 317.75 L405.4 317.75 L405.8 317.75 L406.2 317.75 L406.6 317.76 L407 317.76 L407.4 317.76 L407.8 317.76 L408.2 317.77 L408.6 317.77 L409 317.77 L409.4 317.77 L409.8 317.77 L410.2 317.78 L410.6 317.78 L411 317.78 L411.4 317.78 L411.8 317.78 L412.2 317.78 L412.6 317.79 L413 317.79 L413.4 317.79 L413.8 317.79 L414.2 317.79 L414.6 317.79 L415 317.79 L415.4 317.79 L415.8 317.79 L416.2 317.8 L416.6 317.8 L417 317.8 L417.4 317.8 L417.8 317.8 L418.2 317.8 L418.6 317.8 L419 317.8 L419.4 317.8 L419.8 317.8 L420.2 317.8 L420.6 317.8 L421 317.8" fill="none" stroke="#e3701b" stroke-width="1.3" stroke-linejoin="round" stroke-linecap="round" />
<path d="M301.4 383.6 L301.8 383.6 L302.2 383.61 L302.6 383.61 L303 383.62 L303.4 383.62 L303.8 383.63 L304.2 383.63 L304.6 383.64 L305 383.64 L305.4 383.64 L305.8 383.65 L306.2 383.65 L306.6 383.65 L307 383.66 L307.4 383.66 L307.8 383.66 L308.2 383.66 L308.6 383.67 L309 383.67 L309.4 383.67 L309.8 383.67 L310.2 383.68 L310.6 383.68 L311 383.68 L311.4 383.68 L311.8 383.68 L312.2 383.68 L312.6 383.69 L313 383.69 L313.4 383.69 L313.8 383.69 L314.2 383.69 L314.6 383.69 L315 383.69 L315.4 383.69 L315.8 383.69 L316.2 383.69 L316.6 383.7 L317 383.7 L317.4 383.7 L317.8 383.7 L318.2 383.7 L318.6 383.7 L319 383.7 L319.4 383.7 L319.8 383.7 L320.2 383.7 L320.6 383.7 L321 383.7 L321.4 383.7 L321.8 383.7 L322.2 383.7 L322.6 383.7 L323 383.7 L323.4 383.7 L323.8 383.7 L324.2 383.7 L324.6 383.7 L325 383.7 L325.4 383.7 L325.8 383.69 L326.2 383.68 L326.6 383.67 L327 383.66 L327.4 383.64 L327.8 383.62 L328.2 383.59 L328.6 383.56 L329 383.53 L329.4 383.5 L329.8 383.46 L330.2 383.42 L330.6 383.38 L331 383.34 L331.4 383.29 L331.8 383.24 L332.2 383.19 L332.6 383.14 L333 383.09 L333.4 383.02 L333.8 382.92 L334.2 382.81 L334.6 382.68 L335 382.53 L335.4 382.36 L335.8 382.17 L336.2 381.96 L336.6 381.73 L337 381.48 L337.4 381.21 L337.8 380.93 L338.2 380.62 L338.6 380.16 L339 379.53 L339.4 378.76 L339.8 377.89 L340.2 376.95 L340.6 375.97 L341 375 L341.4 374.06 L341.8 373.19 L342.2 372.41 L342.6 371.65 L343 370.85 L343.4 370.05 L343.8 369.26 L344.2 368.5 L344.6 367.79 L345 367.16 L345.4 366.61 L345.8 366.17 L346.2 365.85 L346.6 365.59 L347 365.37 L347.4 365.17 L347.8 365 L348.2 364.84 L348.6 364.68 L349 364.51 L349.4 364.33 L349.8 364.12 L350.2 363.88 L350.6 363.63 L351 363.36 L351.4 363.08 L351.8 362.76 L352.2 362.4 L352.6 362 L353 361.52 L353.4 360.94 L353.8 360.28 L354.2 359.53 L354.6 358.72 L355 357.85 L355.4 356.93 L355.8 355.97 L356.2 354.97 L356.6 353.94 L357 352.75 L357.4 351.4 L357.8 349.92 L358.2 348.35 L358.6 346.73 L359 345.11 L359.4 343.53 L359.8 342.02 L360.2 340.64 L360.6 339.4 L361 338.19 L361.4 336.97 L361.8 335.81 L362.2 334.76 L362.6 333.88 L363 333.22 L363.4 332.76 L363.8 332.34 L364.2 331.99 L364.6 331.73 L365 331.61 L365.4 331.65 L365.8 331.85 L366.2 332.18 L366.6 332.62 L367 333.13 L367.4 333.68 L367.8 334.26 L368.2 334.83 L368.6 335.38 L369 335.98 L369.4 336.64 L369.8 337.35 L370.2 338.1 L370.6 338.89 L371 339.7 L371.4 340.53 L371.8 341.36 L372.2 342.2 L372.6 343.03 L373 343.84 L373.4 344.62 L373.8 345.37 L374.2 346.12 L374.6 346.86 L375 347.6 L375.4 348.34 L375.8 349.07 L376.2 349.81 L376.6 350.54 L377 351.28 L377.4 352.01 L377.8 352.75 L378.2 353.49 L378.6 354.24 L379 354.99 L379.4 355.75 L379.8 356.53 L380.2 357.31 L380.6 358.1 L381 358.89 L381.4 359.69 L381.8 360.47 L382.2 361.25 L382.6 362.01 L383 362.76 L383.4 363.49 L383.8 364.19 L384.2 364.87 L384.6 365.53 L385 366.19 L385.4 366.84 L385.8 367.49 L386.2 368.12 L386.6 368.74 L387 369.34 L387.4 369.93 L387.8 370.51 L388.2 371.06 L388.6 371.6 L389 372.11 L389.4 372.6 L389.8 373.08 L390.2 373.55 L390.6 374.01 L391 374.46 L391.4 374.9 L391.8 375.33 L392.2 375.74 L392.6 376.14 L393 376.52 L393.4 376.87 L393.8 377.21 L394.2 377.52 L394.6 377.8 L395 378.07 L395.4 378.32 L395.8 378.57 L396.2 378.81 L396.6 379.04 L397 379.26 L397.4 379.47 L397.8 379.68 L398.2 379.87 L398.6 380.06 L399 380.24 L399.4 380.42 L399.8 380.58 L400.2 380.74 L400.6 380.89 L401 381.03 L401.4 381.17 L401.8 381.3 L402.2 381.44 L402.6 381.58 L403 381.71 L403.4 381.84 L403.8 381.97 L404.2 382.09 L404.6 382.21 L405 382.33 L405.4 382.44 L405.8 382.55 L406.2 382.65 L406.6 382.74 L407 382.82 L407.4 382.89 L407.8 382.96 L408.2 383.01 L408.6 383.06 L409 383.09 L409.4 383.12 L409.8 383.14 L410.2 383.17 L410.6 383.19 L411 383.21 L411.4 383.23 L411.8 383.25 L412.2 383.27 L412.6 383.29 L413 383.31 L413.4 383.33 L413.8 383.35 L414.2 383.36 L414.6 383.38 L415 383.39 L415.4 383.4 L415.8 383.42 L416.2 383.43 L416.6 383.44 L417 383.45 L417.4 383.46 L417.8 383.47 L418.2 383.48 L418.6 383.48 L419 383.49 L419.4 383.49 L419.8 383.5 L420.2 383.5 L420.6 383.5 L421 383.5" fill="none" stroke="#22a07a" stroke-width="1.3" stroke-linejoin="round" stroke-linecap="round" />
<path d="M301.4 449.5 L301.8 449.5 L302.2 449.5 L302.6 449.5 L303 449.5 L303.4 449.49 L303.8 449.49 L304.2 449.49 L304.6 449.48 L305 449.48 L305.4 449.47 L305.8 449.47 L306.2 449.46 L306.6 449.46 L307 449.45 L307.4 449.44 L307.8 449.43 L308.2 449.42 L308.6 449.42 L309 449.41 L309.4 449.4 L309.8 449.39 L310.2 449.37 L310.6 449.36 L311 449.35 L311.4 449.34 L311.8 449.32 L312.2 449.31 L312.6 449.3 L313 449.28 L313.4 449.27 L313.8 449.25 L314.2 449.23 L314.6 449.22 L315 449.2 L315.4 449.17 L315.8 449.12 L316.2 449.05 L316.6 448.97 L317 448.89 L317.4 448.8 L317.8 448.7 L318.2 448.62 L318.6 448.54 L319 448.48 L319.4 448.43 L319.8 448.4 L320.2 448.4 L320.6 448.4 L321 448.41 L321.4 448.42 L321.8 448.43 L322.2 448.44 L322.6 448.45 L323 448.46 L323.4 448.48 L323.8 448.49 L324.2 448.49 L324.6 448.5 L325 448.5 L325.4 448.49 L325.8 448.48 L326.2 448.45 L326.6 448.42 L327 448.37 L327.4 448.32 L327.8 448.27 L328.2 448.2 L328.6 448.13 L329 448.06 L329.4 447.98 L329.8 447.9 L330.2 447.82 L330.6 447.73 L331 447.62 L331.4 447.49 L331.8 447.34 L332.2 447.17 L332.6 446.98 L333 446.77 L333.4 446.56 L333.8 446.32 L334.2 446.08 L334.6 445.82 L335 445.55 L335.4 445.27 L335.8 444.98 L336.2 444.65 L336.6 444.3 L337 443.91 L337.4 443.49 L337.8 443.04 L338.2 442.56 L338.6 442.04 L339 441.49 L339.4 440.91 L339.8 440.29 L340.2 439.64 L340.6 438.96 L341 438.22 L341.4 437.37 L341.8 436.41 L342.2 435.33 L342.6 434.16 L343 432.9 L343.4 431.56 L343.8 430.15 L344.2 428.69 L344.6 427.18 L345 425.58 L345.4 423.78 L345.8 421.81 L346.2 419.72 L346.6 417.55 L347 415.35 L347.4 413.14 L347.8 410.74 L348.2 408.2 L348.6 405.68 L349 403.34 L349.4 401.32 L349.8 399.42 L350.2 397.74 L350.6 396.6 L351 395.86 L351.4 395.42 L351.8 395.58 L352.2 396.22 L352.6 397 L353 398.07 L353.4 399.4 L353.8 400.84 L354.2 402.35 L354.6 404.09 L355 405.95 L355.4 407.84 L355.8 409.65 L356.2 411.27 L356.6 412.61 L357 413.77 L357.4 414.85 L357.8 415.86 L358.2 416.8 L358.6 417.69 L359 418.55 L359.4 419.38 L359.8 420.2 L360.2 420.99 L360.6 421.74 L361 422.46 L361.4 423.15 L361.8 423.84 L362.2 424.52 L362.6 425.21 L363 425.92 L363.4 426.65 L363.8 427.41 L364.2 428.18 L364.6 428.96 L365 429.74 L365.4 430.51 L365.8 431.27 L366.2 432 L366.6 432.72 L367 433.4 L367.4 434.06 L367.8 434.72 L368.2 435.38 L368.6 436.03 L369 436.67 L369.4 437.29 L369.8 437.9 L370.2 438.49 L370.6 439.06 L371 439.61 L371.4 440.13 L371.8 440.63 L372.2 441.09 L372.6 441.52 L373 441.95 L373.4 442.36 L373.8 442.77 L374.2 443.15 L374.6 443.53 L375 443.89 L375.4 444.24 L375.8 444.56 L376.2 444.87 L376.6 445.16 L377 445.43 L377.4 445.68 L377.8 445.91 L378.2 446.13 L378.6 446.35 L379 446.56 L379.4 446.76 L379.8 446.96 L380.2 447.15 L380.6 447.33 L381 447.5 L381.4 447.66 L381.8 447.82 L382.2 447.96 L382.6 448.09 L383 448.22 L383.4 448.33 L383.8 448.43 L384.2 448.52 L384.6 448.61 L385 448.69 L385.4 448.78 L385.8 448.86 L386.2 448.94 L386.6 449.02 L387 449.1 L387.4 449.18 L387.8 449.25 L388.2 449.32 L388.6 449.38 L389 449.45 L389.4 449.5 L389.8 449.56 L390.2 449.61 L390.6 449.65 L391 449.69 L391.4 449.72 L391.8 449.75 L392.2 449.77 L392.6 449.79 L393 449.8 L393.4 449.8 L393.8 449.8 L394.2 449.8 L394.6 449.8 L395 449.8 L395.4 449.8 L395.8 449.8 L396.2 449.8 L396.6 449.8 L397 449.8 L397.4 449.8 L397.8 449.8 L398.2 449.8 L398.6 449.8 L399 449.8 L399.4 449.79 L399.8 449.79 L400.2 449.79 L400.6 449.79 L401 449.79 L401.4 449.79 L401.8 449.79 L402.2 449.78 L402.6 449.78 L403 449.78 L403.4 449.78 L403.8 449.77 L404.2 449.77 L404.6 449.77 L405 449.76 L405.4 449.76 L405.8 449.75 L406.2 449.75 L406.6 449.74 L407 449.74 L407.4 449.73 L407.8 449.73 L408.2 449.72 L408.6 449.72 L409 449.71 L409.4 449.7 L409.8 449.69 L410.2 449.69 L410.6 449.68 L411 449.67 L411.4 449.66 L411.8 449.65 L412.2 449.64 L412.6 449.63 L413 449.62 L413.4 449.61 L413.8 449.6 L414.2 449.59 L414.6 449.57 L415 449.56 L415.4 449.55 L415.8 449.53 L416.2 449.52 L416.6 449.5 L417 449.49 L417.4 449.47 L417.8 449.45 L418.2 449.44 L418.6 449.42 L419 449.4 L419.4 449.38 L419.8 449.36 L420.2 449.34 L420.6 449.32 L421 449.3" fill="none" stroke="#e3701b" stroke-width="1.3" stroke-linejoin="round" stroke-linecap="round" />
<path d="M301.4 519.8 L301.8 519.8 L302.2 519.8 L302.6 519.8 L303 519.8 L303.4 519.8 L303.8 519.8 L304.2 519.8 L304.6 519.8 L305 519.8 L305.4 519.8 L305.8 519.8 L306.2 519.8 L306.6 519.8 L307 519.8 L307.4 519.8 L307.8 519.8 L308.2 519.8 L308.6 519.8 L309 519.8 L309.4 519.8 L309.8 519.8 L310.2 519.8 L310.6 519.8 L311 519.8 L311.4 519.8 L311.8 519.8 L312.2 519.8 L312.6 519.8 L313 519.8 L313.4 519.8 L313.8 519.8 L314.2 519.8 L314.6 519.8 L315 519.8 L315.4 519.8 L315.8 519.8 L316.2 519.8 L316.6 519.8 L317 519.8 L317.4 519.8 L317.8 519.8 L318.2 519.8 L318.6 519.8 L319 519.8 L319.4 519.8 L319.8 519.8 L320.2 519.8 L320.6 519.8 L321 519.8 L321.4 519.8 L321.8 519.8 L322.2 519.8 L322.6 519.8 L323 519.8 L323.4 519.8 L323.8 519.8 L324.2 519.8 L324.6 519.8 L325 519.8 L325.4 519.8 L325.8 519.78 L326.2 519.76 L326.6 519.73 L327 519.69 L327.4 519.65 L327.8 519.6 L328.2 519.54 L328.6 519.48 L329 519.41 L329.4 519.34 L329.8 519.27 L330.2 519.19 L330.6 519.11 L331 519.03 L331.4 518.94 L331.8 518.86 L332.2 518.75 L332.6 518.64 L333 518.5 L333.4 518.36 L333.8 518.2 L334.2 518.02 L334.6 517.82 L335 517.62 L335.4 517.4 L335.8 517.16 L336.2 516.91 L336.6 516.64 L337 516.35 L337.4 516.01 L337.8 515.61 L338.2 515.16 L338.6 514.65 L339 514.1 L339.4 513.51 L339.8 512.87 L340.2 512.2 L340.6 511.49 L341 510.76 L341.4 509.99 L341.8 509.2 L342.2 508.39 L342.6 507.52 L343 506.55 L343.4 505.5 L343.8 504.37 L344.2 503.17 L344.6 501.88 L345 500.52 L345.4 499.08 L345.8 497.58 L346.2 495.97 L346.6 494.11 L347 492.02 L347.4 489.78 L347.8 487.45 L348.2 485.12 L348.6 482.85 L349 480.55 L349.4 478 L349.8 475.5 L350.2 473.33 L350.6 471.8 L351 470.7 L351.4 469.8 L351.8 469.32 L352.2 469.44 L352.6 469.99 L353 470.78 L353.4 471.97 L353.8 473.76 L354.2 475.56 L354.6 477.58 L355 479.71 L355.4 481.81 L355.8 483.74 L356.2 485.37 L356.6 486.56 L357 487.51 L357.4 488.36 L357.8 489.11 L358.2 489.79 L358.6 490.41 L359 491.01 L359.4 491.6 L359.8 492.2 L360.2 492.79 L360.6 493.34 L361 493.85 L361.4 494.35 L361.8 494.84 L362.2 495.33 L362.6 495.83 L363 496.35 L363.4 496.9 L363.8 497.5 L364.2 498.16 L364.6 498.87 L365 499.63 L365.4 500.41 L365.8 501.2 L366.2 501.97 L366.6 502.71 L367 503.4 L367.4 504.06 L367.8 504.72 L368.2 505.38 L368.6 506.02 L369 506.66 L369.4 507.29 L369.8 507.9 L370.2 508.49 L370.6 509.06 L371 509.61 L371.4 510.13 L371.8 510.63 L372.2 511.09 L372.6 511.53 L373 511.95 L373.4 512.37 L373.8 512.77 L374.2 513.16 L374.6 513.54 L375 513.9 L375.4 514.24 L375.8 514.57 L376.2 514.88 L376.6 515.17 L377 515.44 L377.4 515.69 L377.8 515.91 L378.2 516.13 L378.6 516.35 L379 516.56 L379.4 516.77 L379.8 516.98 L380.2 517.18 L380.6 517.37 L381 517.55 L381.4 517.73 L381.8 517.9 L382.2 518.05 L382.6 518.2 L383 518.34 L383.4 518.47 L383.8 518.58 L384.2 518.68 L384.6 518.77 L385 518.84 L385.4 518.9 L385.8 518.95 L386.2 519 L386.6 519.05 L387 519.09 L387.4 519.14 L387.8 519.18 L388.2 519.22 L388.6 519.26 L389 519.3 L389.4 519.34 L389.8 519.37 L390.2 519.4 L390.6 519.43 L391 519.46 L391.4 519.49 L391.8 519.51 L392.2 519.53 L392.6 519.55 L393 519.56 L393.4 519.58 L393.8 519.59 L394.2 519.59 L394.6 519.6 L395 519.6 L395.4 519.6 L395.8 519.6 L396.2 519.6 L396.6 519.6 L397 519.6 L397.4 519.6 L397.8 519.6 L398.2 519.6 L398.6 519.6 L399 519.6 L399.4 519.6 L399.8 519.6 L400.2 519.6 L400.6 519.6 L401 519.6 L401.4 519.6 L401.8 519.6 L402.2 519.6 L402.6 519.6 L403 519.6 L403.4 519.6 L403.8 519.6 L404.2 519.6 L404.6 519.6 L405 519.6 L405.4 519.6 L405.8 519.6 L406.2 519.6 L406.6 519.6 L407 519.6 L407.4 519.6 L407.8 519.6 L408.2 519.6 L408.6 519.6 L409 519.6 L409.4 519.6 L409.8 519.6 L410.2 519.6 L410.6 519.6 L411 519.6 L411.4 519.6 L411.8 519.6 L412.2 519.6 L412.6 519.6 L413 519.6 L413.4 519.6 L413.8 519.6 L414.2 519.6 L414.6 519.6 L415 519.6 L415.4 519.6 L415.8 519.6 L416.2 519.6 L416.6 519.6 L417 519.6 L417.4 519.6 L417.8 519.6 L418.2 519.6 L418.6 519.6 L419 519.6 L419.4 519.6 L419.8 519.6 L420.2 519.6 L420.6 519.6 L421 519.6" fill="none" stroke="#6a60c0" stroke-width="1.3" stroke-linejoin="round" stroke-linecap="round" />
<rect x="242.8" y="304.5" width="56.4" height="186.9" fill="#fff" stroke="#cdcdcd" stroke-width="1"/>
<rect x="257" y="314" width="31.2" height="173.4" fill="#eefbf8" />
<path d="M243.3 363.2 L243.7 363.13 L244.1 363.06 L244.5 362.98 L244.9 362.91 L245.3 362.84 L245.7 362.77 L246.1 362.7 L246.5 362.63 L246.9 362.55 L247.3 362.48 L247.7 362.41 L248.1 362.34 L248.5 362.27 L248.9 362.2 L249.3 362.13 L249.7 362.05 L250.1 361.98 L250.5 361.92 L250.9 361.86 L251.3 361.8 L251.7 361.75 L252.1 361.69 L252.5 361.64 L252.9 361.58 L253.3 361.52 L253.7 361.45 L254.1 361.38 L254.5 361.3 L254.9 361.2 L255.3 361.09 L255.7 360.97 L256.1 360.77 L256.5 360.49 L256.9 360.13 L257.3 359.71 L257.7 359.24 L258.1 358.72 L258.5 358.17 L258.9 357.6 L259.3 357.02 L259.7 356.43 L260.1 355.85 L260.5 355.23 L260.9 354.54 L261.3 353.81 L261.7 353.03 L262.1 352.23 L262.5 351.41 L262.9 350.58 L263.3 349.77 L263.7 348.97 L264.1 348.2 L264.5 347.43 L264.9 346.64 L265.3 345.83 L265.7 345.02 L266.1 344.22 L266.5 343.45 L266.9 342.71 L267.3 342.03 L267.7 341.41 L268.1 340.87 L268.5 340.34 L268.9 339.82 L269.3 339.3 L269.7 338.81 L270.1 338.36 L270.5 337.94 L270.9 337.59 L271.3 337.3 L271.7 337.1 L272.1 336.98 L272.5 336.89 L272.9 336.81 L273.3 336.73 L273.7 336.67 L274.1 336.61 L274.5 336.57 L274.9 336.53 L275.3 336.51 L275.7 336.5 L276.1 336.53 L276.5 336.67 L276.9 336.88 L277.3 337.16 L277.7 337.47 L278.1 337.8 L278.5 338.13 L278.9 338.43 L279.3 338.7 L279.7 338.98 L280.1 339.27 L280.5 339.56 L280.9 339.85 L281.3 340.15 L281.7 340.44 L282.1 340.73 L282.5 341.02 L282.9 341.35 L283.3 341.69 L283.7 342.04 L284.1 342.38 L284.5 342.7 L284.9 342.99 L285.3 343.23 L285.7 343.41 L286.1 343.52 L286.5 343.61 L286.9 343.69 L287.3 343.77 L287.7 343.83 L288.1 343.89 L288.5 343.94 L288.9 343.97 L289.3 343.99 L289.7 344 L290.1 343.95 L290.5 343.83 L290.9 343.63 L291.3 343.38 L291.7 343.09 L292.1 342.76 L292.5 342.43 L292.9 342.08 L293.3 341.73 L293.7 341.31 L294.1 340.84 L294.5 340.32 L294.9 339.75 L295.3 339.14 L295.7 338.5 L296.1 337.83 L296.5 337.1 L296.9 336.31 L297.3 335.45 L297.7 334.53 L298.1 333.56 L298.5 332.54 L298.9 331.47" fill="none" stroke="#e3701b" stroke-width="1.5" stroke-linejoin="round" stroke-linecap="round" />
<path d="M243.3 385.5 L243.7 385.54 L244.1 385.58 L244.5 385.62 L244.9 385.66 L245.3 385.69 L245.7 385.72 L246.1 385.75 L246.5 385.78 L246.9 385.8 L247.3 385.82 L247.7 385.85 L248.1 385.87 L248.5 385.88 L248.9 385.9 L249.3 385.91 L249.7 385.93 L250.1 385.94 L250.5 385.95 L250.9 385.96 L251.3 385.97 L251.7 385.98 L252.1 385.98 L252.5 385.99 L252.9 385.99 L253.3 385.99 L253.7 386 L254.1 386 L254.5 386 L254.9 386 L255.3 386 L255.7 385.99 L256.1 385.98 L256.5 385.97 L256.9 385.95 L257.3 385.93 L257.7 385.91 L258.1 385.88 L258.5 385.85 L258.9 385.82 L259.3 385.78 L259.7 385.75 L260.1 385.71 L260.5 385.67 L260.9 385.63 L261.3 385.59 L261.7 385.55 L262.1 385.5 L262.5 385.46 L262.9 385.42 L263.3 385.37 L263.7 385.33 L264.1 385.29 L264.5 385.25 L264.9 385.21 L265.3 385.17 L265.7 385.13 L266.1 385.09 L266.5 385.05 L266.9 385.01 L267.3 384.97 L267.7 384.93 L268.1 384.88 L268.5 384.84 L268.9 384.79 L269.3 384.75 L269.7 384.7 L270.1 384.66 L270.5 384.61 L270.9 384.56 L271.3 384.51 L271.7 384.46 L272.1 384.41 L272.5 384.35 L272.9 384.3 L273.3 384.24 L273.7 384.19 L274.1 384.13 L274.5 384.07 L274.9 384.01 L275.3 383.95 L275.7 383.89 L276.1 383.82 L276.5 383.76 L276.9 383.68 L277.3 383.61 L277.7 383.54 L278.1 383.46 L278.5 383.38 L278.9 383.3 L279.3 383.22 L279.7 383.13 L280.1 383.05 L280.5 382.97 L280.9 382.88 L281.3 382.79 L281.7 382.71 L282.1 382.62 L282.5 382.53 L282.9 382.45 L283.3 382.36 L283.7 382.27 L284.1 382.19 L284.5 382.1 L284.9 382.02 L285.3 381.94 L285.7 381.86 L286.1 381.77 L286.5 381.69 L286.9 381.61 L287.3 381.53 L287.7 381.45 L288.1 381.37 L288.5 381.28 L288.9 381.2 L289.3 381.11 L289.7 381.03 L290.1 380.94 L290.5 380.85 L290.9 380.76 L291.3 380.67 L291.7 380.57 L292.1 380.48 L292.5 380.38 L292.9 380.27 L293.3 380.17 L293.7 380.07 L294.1 379.96 L294.5 379.85 L294.9 379.74 L295.3 379.62 L295.7 379.51 L296.1 379.39 L296.5 379.27 L296.9 379.15 L297.3 379.03 L297.7 378.91 L298.1 378.79 L298.5 378.66 L298.9 378.53" fill="none" stroke="#22a07a" stroke-width="1.5" stroke-linejoin="round" stroke-linecap="round" />
<path d="M243.3 455.3 L243.7 455.05 L244.1 454.8 L244.5 454.55 L244.9 454.3 L245.3 454.05 L245.7 453.8 L246.1 453.54 L246.5 453.29 L246.9 453.03 L247.3 452.77 L247.7 452.51 L248.1 452.25 L248.5 451.99 L248.9 451.73 L249.3 451.46 L249.7 451.2 L250.1 450.93 L250.5 450.68 L250.9 450.45 L251.3 450.21 L251.7 449.98 L252.1 449.74 L252.5 449.49 L252.9 449.22 L253.3 448.91 L253.7 448.58 L254.1 448.2 L254.5 447.74 L254.9 447.17 L255.3 446.5 L255.7 445.76 L256.1 444.97 L256.5 444.14 L256.9 443.29 L257.3 442.43 L257.7 441.6 L258.1 440.8 L258.5 439.99 L258.9 439.14 L259.3 438.27 L259.7 437.39 L260.1 436.49 L260.5 435.6 L260.9 434.72 L261.3 433.86 L261.7 433.02 L262.1 432.22 L262.5 431.46 L262.9 430.74 L263.3 430.03 L263.7 429.31 L264.1 428.6 L264.5 427.9 L264.9 427.23 L265.3 426.6 L265.7 426.01 L266.1 425.47 L266.5 425 L266.9 424.59 L267.3 424.24 L267.7 423.89 L268.1 423.55 L268.5 423.22 L268.9 422.9 L269.3 422.59 L269.7 422.31 L270.1 422.05 L270.5 421.82 L270.9 421.62 L271.3 421.45 L271.7 421.32 L272.1 421.24 L272.5 421.2 L272.9 421.22 L273.3 421.28 L273.7 421.4 L274.1 421.54 L274.5 421.72 L274.9 421.92 L275.3 422.13 L275.7 422.34 L276.1 422.55 L276.5 422.81 L276.9 423.11 L277.3 423.45 L277.7 423.81 L278.1 424.18 L278.5 424.55 L278.9 424.9 L279.3 425.22 L279.7 425.5 L280.1 425.75 L280.5 426.02 L280.9 426.29 L281.3 426.55 L281.7 426.82 L282.1 427.07 L282.5 427.31 L282.9 427.54 L283.3 427.74 L283.7 427.92 L284.1 428.07 L284.5 428.19 L284.9 428.26 L285.3 428.3 L285.7 428.28 L286.1 428.18 L286.5 428.02 L286.9 427.8 L287.3 427.53 L287.7 427.24 L288.1 426.91 L288.5 426.4 L288.9 425.68 L289.3 424.78 L289.7 423.76 L290.1 422.65 L290.5 421.51 L290.9 420.36 L291.3 419.24 L291.7 418.03 L292.1 416.75 L292.5 415.4 L292.9 414 L293.3 412.56 L293.7 411.1 L294.1 409.63 L294.5 408.16 L294.9 406.67 L295.3 405.15 L295.7 403.58 L296.1 401.96 L296.5 400.25 L296.9 398.46 L297.3 396.56 L297.7 394.51 L298.1 392.34 L298.5 390.06 L298.9 387.7" fill="none" stroke="#e3701b" stroke-width="1.5" stroke-linejoin="round" stroke-linecap="round" />
<path d="M243.3 479.4 L243.7 479.25 L244.1 479.11 L244.5 478.99 L244.9 478.89 L245.3 478.8 L245.7 478.73 L246.1 478.67 L246.5 478.62 L246.9 478.58 L247.3 478.56 L247.7 478.53 L248.1 478.52 L248.5 478.51 L248.9 478.5 L249.3 478.5 L249.7 478.5 L250.1 478.51 L250.5 478.58 L250.9 478.72 L251.3 478.9 L251.7 479.12 L252.1 479.37 L252.5 479.63 L252.9 479.89 L253.3 480.13 L253.7 480.36 L254.1 480.54 L254.5 480.73 L254.9 480.93 L255.3 481.14 L255.7 481.35 L256.1 481.56 L256.5 481.77 L256.9 481.97 L257.3 482.16 L257.7 482.33 L258.1 482.48 L258.5 482.6 L258.9 482.7 L259.3 482.77 L259.7 482.8 L260.1 482.79 L260.5 482.74 L260.9 482.66 L261.3 482.55 L261.7 482.42 L262.1 482.26 L262.5 482.1 L262.9 481.92 L263.3 481.73 L263.7 481.55 L264.1 481.37 L264.5 481.2 L264.9 481.04 L265.3 480.89 L265.7 480.73 L266.1 480.57 L266.5 480.41 L266.9 480.24 L267.3 480.07 L267.7 479.9 L268.1 479.73 L268.5 479.56 L268.9 479.39 L269.3 479.22 L269.7 479.05 L270.1 478.89 L270.5 478.73 L270.9 478.57 L271.3 478.43 L271.7 478.29 L272.1 478.15 L272.5 478.03 L272.9 477.91 L273.3 477.8 L273.7 477.7 L274.1 477.59 L274.5 477.49 L274.9 477.4 L275.3 477.3 L275.7 477.21 L276.1 477.12 L276.5 477.04 L276.9 476.95 L277.3 476.86 L277.7 476.78 L278.1 476.69 L278.5 476.61 L278.9 476.52 L279.3 476.44 L279.7 476.36 L280.1 476.29 L280.5 476.22 L280.9 476.15 L281.3 476.09 L281.7 476.03 L282.1 475.96 L282.5 475.9 L282.9 475.82 L283.3 475.75 L283.7 475.66 L284.1 475.57 L284.5 475.47 L284.9 475.36 L285.3 475.23 L285.7 475.08 L286.1 474.88 L286.5 474.64 L286.9 474.36 L287.3 474.04 L287.7 473.7 L288.1 473.35 L288.5 472.97 L288.9 472.59 L289.3 472.21 L289.7 471.79 L290.1 471.35 L290.5 470.87 L290.9 470.36 L291.3 469.82 L291.7 469.25 L292.1 468.64 L292.5 468 L292.9 467.3 L293.3 466.53 L293.7 465.69 L294.1 464.8 L294.5 463.85 L294.9 462.86 L295.3 461.84 L295.7 460.8 L296.1 459.73 L296.5 458.62 L296.9 457.45 L297.3 456.22 L297.7 454.95 L298.1 453.62 L298.5 452.26 L298.9 450.86" fill="none" stroke="#6a60c0" stroke-width="1.5" stroke-linejoin="round" stroke-linecap="round" />
<line x1="249.9" y1="491.4" x2="249.9" y2="489" stroke="#999" stroke-width="0.8" />
<line x1="271.2" y1="491.4" x2="271.2" y2="489" stroke="#999" stroke-width="0.8" />
<line x1="291.1" y1="491.4" x2="291.1" y2="489" stroke="#999" stroke-width="0.8" />
<path d="M242.8 304.5 V491.4 H299.2 V304.5 Z" fill="none" stroke="#cdcdcd" stroke-width="1"/>
<rect x="236.5" y="232.5" width="185.1" height="294.8" fill="none" stroke="#777" stroke-width="1"/>
<line x1="236.8" y1="527.3" x2="236.8" y2="528.8" stroke="#777" stroke-width="0.8" />
<line x1="266.6" y1="527.3" x2="266.6" y2="529.8" stroke="#777" stroke-width="0.8" />
<line x1="296.4" y1="527.3" x2="296.4" y2="528.8" stroke="#777" stroke-width="0.8" />
<line x1="326.2" y1="527.3" x2="326.2" y2="529.8" stroke="#777" stroke-width="0.8" />
<line x1="356" y1="527.3" x2="356" y2="528.8" stroke="#777" stroke-width="0.8" />
<line x1="385.8" y1="527.3" x2="385.8" y2="529.8" stroke="#777" stroke-width="0.8" />
<line x1="415.6" y1="527.3" x2="415.6" y2="528.8" stroke="#777" stroke-width="0.8" />
<text x="266.6" y="537.9" font-size="9.7" font-weight="bold" fill="#000" text-anchor="middle" ><tspan>2250</tspan></text>
<text x="326.2" y="537.9" font-size="9.7" font-weight="bold" fill="#000" text-anchor="middle" ><tspan>2200</tspan></text>
<text x="385.8" y="537.9" font-size="9.7" font-weight="bold" fill="#000" text-anchor="middle" ><tspan>2150</tspan></text>
<text x="271" y="558" font-size="12.5" font-weight="bold" fill="#000">Wavenumber (cm<tspan dy="-4.5" font-size="8.5">-1</tspan><tspan dy="4.5">)</tspan></text>
<text x="231.3" y="386.8" font-size="12.4" font-weight="bold" fill="#000" text-anchor="middle" transform="rotate(-90 231.3 386.8)"><tspan>Intensity (a.u.)</tspan></text>
<defs><linearGradient id="lg" x1="0" y1="0" x2="0" y2="1"><stop offset="0" stop-color="#2a9d78"/><stop offset="1" stop-color="#2a9d78" stop-opacity="0.05"/></linearGradient><linearGradient id="lr" x1="0" y1="0" x2="0" y2="1"><stop offset="0" stop-color="#e0602a"/><stop offset="1" stop-color="#e0602a" stop-opacity="0.05"/></linearGradient><linearGradient id="lp" x1="0" y1="0" x2="0" y2="1"><stop offset="0" stop-color="#7a70c8"/><stop offset="1" stop-color="#7a70c8" stop-opacity="0.05"/></linearGradient></defs>
<rect x="239.9" y="241.1" width="13.5" height="5" fill="url(#lg)" />
<rect x="239.9" y="255.6" width="13.5" height="4.6" fill="url(#lr)" />
<rect x="239.9" y="267" width="13.5" height="4.6" fill="url(#lp)" />
<text x="254.9" y="245.8" font-size="9.75" font-weight="bold" fill="#2a9d78" text-anchor="start" ><tspan>Unsaturated Ti</tspan><tspan dy="2.92" font-size="6.82" font-style="italic">5C</tspan></text>
<text x="254.9" y="260.1" font-size="9.75" font-weight="bold" fill="#e0702a" text-anchor="start" ><tspan>Pt-O(H)-Ti interface</tspan></text>
<text x="254.9" y="272.1" font-size="9.75" font-weight="bold" fill="#7a70c8" text-anchor="start" ><tspan>Saturated Ti</tspan><tspan dy="2.92" font-size="6.82" font-style="italic">5C</tspan></text>
<defs><marker id="ah_dg" viewBox="0 0 10 10" refX="8" refY="5" markerWidth="4" markerHeight="4" orient="auto"><path d="M0 0 L10 5 L0 10 z" fill="#2a9d78"/></marker></defs>
<path d="M319.6 296.8 Q296 282 273 299" fill="none" stroke="#2a9d78" stroke-width="1" stroke-dasharray="2 1.5" marker-end="url(#ah_dg)"/>
<text x="268.2" y="322.6" font-size="9" font-weight="bold" fill="#000" text-anchor="start" ><tspan>Ti</tspan><tspan dy="2.7" font-size="6.3" font-style="italic">4C</tspan></text>
<text x="264.4" y="333.3" font-size="9" font-weight="bold" fill="#000" text-anchor="start" ><tspan>2203</tspan></text>
<text x="244.4" y="356.8" font-size="9" font-weight="bold" fill="#e3701b" text-anchor="start" ><tspan>CO</tspan></text>
<text x="243.8" y="381.7" font-size="9" font-weight="bold" fill="#22a07a" text-anchor="start" ><tspan>WGS</tspan></text>
<text x="243.5" y="443" font-size="9" font-weight="bold" fill="#e3701b" text-anchor="start" ><tspan>CO</tspan></text>
<text x="244.7" y="472.3" font-size="9" font-weight="bold" fill="#7a70c8" text-anchor="start" ><tspan>H</tspan><tspan dy="2.7" font-size="6.3">2</tspan></text>
<text x="260.6" y="504.4" font-size="8.6" font-weight="bold" fill="#000" text-anchor="start" ><tspan>2205</tspan></text>
<circle cx="270.6" cy="511.3" r="0.5" fill="#333"/>
<text x="350" y="255.3" font-size="9.6" font-weight="bold" fill="#2a9d78" text-anchor="start" ><tspan>Ti</tspan><tspan dy="2.88" font-size="6.72">1</tspan></text>
<text x="365.3" y="289" font-size="9.6" font-weight="bold" fill="#e0702a" text-anchor="start" ><tspan>Ti</tspan><tspan dy="2.88" font-size="6.72">2</tspan></text>
<text x="391.9" y="294.2" font-size="9.2" font-weight="bold" fill="#000" text-anchor="start" ><tspan>Ti</tspan><tspan dy="2.76" font-size="6.44">2</tspan><tspan dy="-2.76">/Ti</tspan><tspan dy="2.76" font-size="6.44">1</tspan></text>
<line x1="405.6" y1="299.3" x2="405.6" y2="303.8" stroke="#000" stroke-width="0.9" />
<line x1="407.2" y1="299.3" x2="407.2" y2="303.8" stroke="#000" stroke-width="0.9" />
<text x="398.9" y="314.2" font-size="9.6" font-weight="bold" fill="#e3701b" text-anchor="start" ><tspan>0.53</tspan></text>
<text x="426.8" y="319.2" font-size="9.6" font-weight="bold" fill="#e3701b" text-anchor="start" ><tspan>CO</tspan></text>
<text x="381.6" y="359" font-size="9.6" font-weight="bold" fill="#7a70c8" text-anchor="start" ><tspan>Ti</tspan><tspan dy="2.88" font-size="6.72">3</tspan></text>
<text x="399.9" y="375.1" font-size="9.6" font-weight="bold" fill="#22a07a" text-anchor="start" ><tspan>6.53</tspan></text>
<text x="423.3" y="387" font-size="9.6" font-weight="bold" fill="#22a07a" text-anchor="start" ><tspan>WGS</tspan></text>
<text x="400" y="444.8" font-size="9.6" font-weight="bold" fill="#e3701b" text-anchor="start" ><tspan>0.31</tspan></text>
<text x="425" y="452.3" font-size="9.6" font-weight="bold" fill="#e3701b" text-anchor="start" ><tspan>CO</tspan></text>
<text x="400" y="513.8" font-size="9.6" font-weight="bold" fill="#7a70c8" text-anchor="start" ><tspan>0.43</tspan></text>
<text x="427.6" y="520" font-size="9.6" font-weight="bold" fill="#7a70c8" text-anchor="start" ><tspan>H</tspan><tspan dy="2.88" font-size="6.72">2</tspan></text>
<defs><marker id="ah_k" viewBox="0 0 10 10" refX="8" refY="5" markerWidth="4" markerHeight="4" orient="auto"><path d="M0 0 L10 5 L0 10 z" fill="#555"/></marker></defs>
<path d="M432.7 371 V329" stroke="#555" stroke-width="1.2" marker-end="url(#ah_k)"/>
<path d="M432.7 504.4 V462.5" stroke="#555" stroke-width="1.2" marker-end="url(#ah_k)"/>
<text x="443" y="238.9" font-size="21" font-weight="normal" fill="#000" text-anchor="start" ><tspan>e</tspan></text>
<rect x="518.6" y="262.3" width="59.6" height="102" fill="#fef3ec" />
<path d="M462.5 320.33 L463 320.04 L463.5 319.54 L464 320.13 L464.5 320.36 L465 319.67 L465.5 320.36 L466 320.83 L466.5 320.76 L467 319.44 L467.5 319.76 L468 319.46 L468.5 320.81 L469 320.6 L469.5 320.66 L470 319.88 L470.5 319.75 L471 320.38 L471.5 320.41 L472 319.94 L472.5 320.45 L473 320.71 L473.5 320.52 L474 319.89 L474.5 319.37 L475 320.3 L475.5 320.52 L476 320.32 L476.5 320.24 L477 320.12 L477.5 320.83 L478 320.45 L478.5 320.55 L479 320 L479.5 320.19 L480 320.58 L480.5 320 L481 319.88 L481.5 320.35 L482 321.12 L482.5 320.61 L483 321.25 L483.5 320.46 L484 320.37 L484.5 319.83 L485 320.24 L485.5 321.25 L486 320.7 L486.5 320.91 L487 320.89 L487.5 320.54 L488 320.44 L488.5 320.61 L489 320.88 L489.5 320.78 L490 320.8 L490.5 320.63 L491 320.17 L491.5 320.43 L492 320.09 L492.5 321.06 L493 319.51 L493.5 320.46 L494 321.76 L494.5 320.4 L495 320 L495.5 320.56 L496 321.22 L496.5 320.5 L497 320.89 L497.5 320.63 L498 320.4 L498.5 322.16 L499 320.63 L499.5 320.33 L500 320.36 L500.5 320.79 L501 320.81 L501.5 321 L502 320.69 L502.5 319.91 L503 320.9 L503.5 320.49 L504 320.51 L504.5 319.92 L505 320.39 L505.5 320.32 L506 320.68 L506.5 319.98 L507 320.74 L507.5 320.79 L508 320.18 L508.5 320.44 L509 320.33 L509.5 321.23 L510 319.52 L510.5 320.62 L511 319.98 L511.5 320.6 L512 321.25 L512.5 320.52 L513 320.92 L513.5 320.43 L514 321.83 L514.5 321.33 L515 321.44 L515.5 320.22 L516 320.34 L516.5 321.43 L517 320.8 L517.5 320.77 L518 321.07 L518.5 320.27 L519 321.28 L519.5 320.88 L520 321.09 L520.5 320.48 L521 321.03 L521.5 320.37 L522 321.14 L522.5 321.16 L523 320.99 L523.5 320.71 L524 320.69 L524.5 318.94 L525 320.62 L525.5 319.97 L526 320.06 L526.5 319.78 L527 319.12 L527.5 319.45 L528 319.95 L528.5 320.23 L529 319.11 L529.5 318.87 L530 319.95 L530.5 318.69 L531 320.07 L531.5 318.97 L532 318.42 L532.5 319.27 L533 319.55 L533.5 317.91 L534 319.34 L534.5 318.35 L535 319.17 L535.5 318.18 L536 317.52 L536.5 318.5 L537 318.65 L537.5 319.18 L538 318.93 L538.5 318.35 L539 317.82 L539.5 317.61 L540 317.65 L540.5 317.3 L541 317.5 L541.5 316.28 L542 317.55 L542.5 317.34 L543 318.53 L543.5 317.5 L544 316.68 L544.5 316.96 L545 315.78 L545.5 315.8 L546 314.87 L546.5 316.25 L547 315.6 L547.5 314.53 L548 314.99 L548.5 315.51 L549 315.63 L549.5 316.23 L550 316.48 L550.5 317.59 L551 318.98 L551.5 320.36 L552 320.57 L552.5 321.78 L553 324.39 L553.5 324.83 L554 327.16 L554.5 327.79 L555 328.73 L555.5 329.22 L556 328.13 L556.5 327.25 L557 325.37 L557.5 324.61 L558 324.84 L558.5 326.21 L559 328.7 L559.5 330.99 L560 330 L560.5 329.74 L561 329.83 L561.5 328.93 L562 328.45 L562.5 327.5 L563 328.1 L563.5 326.6 L564 326.81 L564.5 325.2 L565 325.78 L565.5 324.07 L566 324.41 L566.5 322.71 L567 322.94 L567.5 323.59 L568 322.6 L568.5 323.04 L569 322.78 L569.5 321.88 L570 323.21 L570.5 323.3 L571 322.55 L571.5 323.42 L572 322.77 L572.5 322.7 L573 323.24 L573.5 322.93 L574 324.45 L574.5 322.56 L575 323.74 L575.5 323.9 L576 322.45 L576.5 322.6 L577 323.78 L577.5 323.28 L578 323.74 L578.5 324.14 L579 323.4 L579.5 323.06 L580 322.24 L580.5 323.71 L581 323.14 L581.5 323.77 L582 323.73 L582.5 322.93 L583 324.48 L583.5 324.17 L584 324.05 L584.5 323.04 L585 323.43 L585.5 323.36 L586 323.43 L586.5 323.08 L587 323.87 L587.5 323.77 L588 323.84 L588.5 323.4 L589 324.31 L589.5 323.76 L590 322.3 L590.5 323.35 L591 323.64 L591.5 324.16 L592 323.53 L592.5 323.55 L593 323.35 L593.5 324.02 L594 323.46 L594.5 323.39 L595 323.32 L595.5 323.97 L596 323.43 L596.5 322.86 L597 324.01 L597.5 323.35 L598 323.89 L598.5 323.9 L599 324.31 L599.5 324.24 L600 323.43 L600.5 323.64 L601 323.08 L601.5 324.56 L602 323.95 L602.5 324.42 L603 323.57 L603.5 322.71 L604 324.5 L604.5 323.78 L605 323.8 L605.5 323.77 L606 324.06 L606.5 324.01 L607 322.95 L607.5 324.29 L608 323.48 L608.5 323.52 L609 324.61 L609.5 324.21 L610 323.58 L610.5 322.83 L611 323.84 L611.5 324.03 L612 323.72 L612.5 323.14 L613 323.37 L613.5 323.14 L614 323.87 L614.5 324.18 L615 324.28 L615.5 323.4 L616 323.89 L616.5 324.05 L617 323.52 L617.5 323.7 L618 324.84 L618.5 323.88 L619 324.22 L619.5 323.56 L620 323.8 L620.5 322.92 L621 323.77 L621.5 324.38 L622 324.83 L622.5 324.38 L623 324.13 L623.5 323.81 L624 323.49 L624.5 323.71 L625 324.09 L625.5 323.4 L626 324.26 L626.5 323.3 L627 322.9 L627.5 323.28 L628 322.96 L628.5 323.11 L629 324.36 L629.5 323.69 L630 323.9 L630.5 324.37 L631 324.42 L631.5 323.54 L632 324.46 L632.5 323.99 L633 323.8 L633.5 324.02 L634 323.08 L634.5 323.4 L635 323.74 L635.5 324.1 L636 323.61 L636.5 323.73 L637 324.28 L637.5 324.5 L638 324.18 L638.5 324.43 L639 323.6 L639.5 323.65 L640 323.96 L640.5 323.65 L641 323.55 L641.5 324.63 L642 323.7 L642.5 323.32 L643 324.04" fill="none" stroke="#666" stroke-width="1.6" stroke-linejoin="round" stroke-linecap="round" />
<path d="M462.5 319.7 L462.9 319.68 L463.3 319.66 L463.7 319.63 L464.1 319.61 L464.5 319.59 L464.9 319.56 L465.3 319.54 L465.7 319.51 L466.1 319.49 L466.5 319.46 L466.9 319.44 L467.3 319.41 L467.7 319.38 L468.1 319.36 L468.5 319.33 L468.9 319.3 L469.3 319.27 L469.7 319.25 L470.1 319.22 L470.5 319.19 L470.9 319.16 L471.3 319.13 L471.7 319.1 L472.1 319.07 L472.5 319.04 L472.9 319.01 L473.3 318.99 L473.7 318.96 L474.1 318.93 L474.5 318.91 L474.9 318.88 L475.3 318.85 L475.7 318.82 L476.1 318.79 L476.5 318.76 L476.9 318.73 L477.3 318.7 L477.7 318.67 L478.1 318.63 L478.5 318.6 L478.9 318.56 L479.3 318.52 L479.7 318.48 L480.1 318.43 L480.5 318.39 L480.9 318.34 L481.3 318.28 L481.7 318.23 L482.1 318.17 L482.5 318.09 L482.9 318.01 L483.3 317.9 L483.7 317.79 L484.1 317.67 L484.5 317.54 L484.9 317.4 L485.3 317.26 L485.7 317.11 L486.1 316.96 L486.5 316.76 L486.9 316.51 L487.3 316.25 L487.7 316.03 L488.1 315.86 L488.5 315.8 L488.9 315.86 L489.3 316.01 L489.7 316.24 L490.1 316.49 L490.5 316.75 L490.9 316.99 L491.3 317.17 L491.7 317.29 L492.1 317.4 L492.5 317.52 L492.9 317.63 L493.3 317.73 L493.7 317.83 L494.1 317.92 L494.5 318 L494.9 318.07 L495.3 318.12 L495.7 318.16 L496.1 318.19 L496.5 318.2 L496.9 318.14 L497.3 317.97 L497.7 317.74 L498.1 317.47 L498.5 317.21 L498.9 316.98 L499.3 316.82 L499.7 316.74 L500.1 316.66 L500.5 316.59 L500.9 316.52 L501.3 316.46 L501.7 316.4 L502.1 316.35 L502.5 316.3 L502.9 316.25 L503.3 316.2 L503.7 316.16 L504.1 316.12 L504.5 316.08 L504.9 316.05 L505.3 316.01 L505.7 315.98 L506.1 315.94 L506.5 315.91 L506.9 315.88 L507.3 315.85 L507.7 315.82 L508.1 315.78 L508.5 315.75 L508.9 315.72 L509.3 315.68 L509.7 315.64 L510.1 315.61 L510.5 315.57 L510.9 315.52 L511.3 315.48 L511.7 315.43 L512.1 315.39 L512.5 315.35 L512.9 315.31 L513.3 315.28 L513.7 315.24 L514.1 315.2 L514.5 315.17 L514.9 315.13 L515.3 315.1 L515.7 315.06 L516.1 315.02 L516.5 314.98 L516.9 314.94 L517.3 314.9 L517.7 314.85 L518.1 314.8 L518.5 314.75 L518.9 314.7 L519.3 314.64 L519.7 314.58 L520.1 314.52 L520.5 314.45 L520.9 314.38 L521.3 314.3 L521.7 314.21 L522.1 314.1 L522.5 313.97 L522.9 313.82 L523.3 313.65 L523.7 313.47 L524.1 313.28 L524.5 313.07 L524.9 312.85 L525.3 312.62 L525.7 312.37 L526.1 312.12 L526.5 311.87 L526.9 311.6 L527.3 311.33 L527.7 311.04 L528.1 310.72 L528.5 310.37 L528.9 309.99 L529.3 309.59 L529.7 309.17 L530.1 308.72 L530.5 308.25 L530.9 307.77 L531.3 307.26 L531.7 306.73 L532.1 306.17 L532.5 305.56 L532.9 304.92 L533.3 304.23 L533.7 303.5 L534.1 302.73 L534.5 301.92 L534.9 301.07 L535.3 300.17 L535.7 299.2 L536.1 298.15 L536.5 297.01 L536.9 295.79 L537.3 294.5 L537.7 293.14 L538.1 291.7 L538.5 290.08 L538.9 288.24 L539.3 286.29 L539.7 284.36 L540.1 282.56 L540.5 280.75 L540.9 278.95 L541.3 277.26 L541.7 275.81 L542.1 274.55 L542.5 273.29 L542.9 272.26 L543.3 271.73 L543.7 271.78 L544.1 272.12 L544.5 272.65 L544.9 273.32 L545.3 274.28 L545.7 275.9 L546.1 277.93 L546.5 280.15 L546.9 282.85 L547.3 285.96 L547.7 289.34 L548.1 292.85 L548.5 296.38 L548.9 300.14 L549.3 304.11 L549.7 308.2 L550.1 312.36 L550.5 316.5 L550.9 320.77 L551.3 325.25 L551.7 329.74 L552.1 334.08 L552.5 338.08 L552.9 341.68 L553.3 345.39 L553.7 349.07 L554.1 352.51 L554.5 355.47 L554.9 357.71 L555.3 359 L555.7 359.69 L556.1 360.22 L556.5 360.49 L556.9 360.39 L557.3 359.93 L557.7 359.18 L558.1 358.23 L558.5 357.16 L558.9 356.03 L559.3 354.92 L559.7 353.57 L560.1 351.95 L560.5 350.16 L560.9 348.29 L561.3 346.44 L561.7 344.72 L562.1 343.23 L562.5 341.95 L562.9 340.71 L563.3 339.51 L563.7 338.35 L564.1 337.25 L564.5 336.21 L564.9 335.26 L565.3 334.4 L565.7 333.64 L566.1 333 L566.5 332.44 L566.9 331.9 L567.3 331.4 L567.7 330.93 L568.1 330.49 L568.5 330.09 L568.9 329.71 L569.3 329.37 L569.7 329.05 L570.1 328.77 L570.5 328.52 L570.9 328.29 L571.3 328.07 L571.7 327.86 L572.1 327.65 L572.5 327.45 L572.9 327.26 L573.3 327.08 L573.7 326.91 L574.1 326.76 L574.5 326.61 L574.9 326.48 L575.3 325.86 L575.7 325.78 L576.1 327.04 L576.5 325.19 L576.9 326.02 L577.3 326.64 L577.7 326.22 L578.1 325.66 L578.5 325.96 L578.9 326.27 L579.3 326.38 L579.7 325.51 L580.1 326.14 L580.5 325.91 L580.9 326.23 L581.3 326.32 L581.7 325.6 L582.1 325.14 L582.5 325.85 L582.9 326.39 L583.3 325.93 L583.7 325.73 L584.1 326.58 L584.5 325.19 L584.9 325.95 L585.3 325.35 L585.7 325.58 L586.1 325.59 L586.5 326.15 L586.9 325.16 L587.3 325.31 L587.7 324.88 L588.1 325.71 L588.5 325.32 L588.9 325.67 L589.3 325.07 L589.7 325.36 L590.1 325.92 L590.5 325.43 L590.9 325.76 L591.3 325.73 L591.7 325.39 L592.1 324.92 L592.5 325.95 L592.9 325.65 L593.3 325.99 L593.7 324.82 L594.1 324.99 L594.5 324.82 L594.9 325.35 L595.3 326.15 L595.7 325.99 L596.1 325.78 L596.5 325.88 L596.9 326.17 L597.3 325.77 L597.7 326.09 L598.1 326.02 L598.5 325.12 L598.9 325.88 L599.3 326.61 L599.7 325.94 L600.1 326.07 L600.5 325.92 L600.9 326 L601.3 326.67 L601.7 326.14 L602.1 325.86 L602.5 325.05 L602.9 326.09 L603.3 325.55 L603.7 325.62 L604.1 326.69 L604.5 326.66 L604.9 325.62 L605.3 326.74 L605.7 326.58 L606.1 326.09 L606.5 326.68 L606.9 325.71 L607.3 325.85 L607.7 325.71 L608.1 325.79 L608.5 326.53 L608.9 325.59 L609.3 325.59 L609.7 325.6 L610.1 325.99 L610.5 325.71 L610.9 326.11 L611.3 325.41 L611.7 325.11 L612.1 325.36 L612.5 325.52 L612.9 325.08 L613.3 325.51 L613.7 326.09 L614.1 325.09 L614.5 325.32 L614.9 325.84 L615.3 325.04 L615.7 324.96 L616.1 324.86 L616.5 325.45 L616.9 325.5 L617.3 325.23 L617.7 325.31 L618.1 325.8 L618.5 325.64 L618.9 324.73 L619.3 325.29 L619.7 325.33 L620.1 325.58 L620.5 325.2 L620.9 325.03 L621.3 325.11 L621.7 324.58 L622.1 325.28 L622.5 325.05 L622.9 325.48 L623.3 324.88 L623.7 325.11 L624.1 324.9 L624.5 324.86 L624.9 325.57 L625.3 325.1 L625.7 325.46 L626.1 324.84 L626.5 325.32 L626.9 324.61 L627.3 325.09 L627.7 325.08 L628.1 325.52 L628.5 325.36 L628.9 325.21 L629.3 325.62 L629.7 325.36 L630.1 325.5 L630.5 325.59 L630.9 325.26 L631.3 325.17 L631.7 325.41 L632.1 325.12 L632.5 325.44 L632.9 325.73 L633.3 325.62 L633.7 325.13 L634.1 324.77 L634.5 325.26 L634.9 325.23 L635.3 325.72 L635.7 325.13 L636.1 325.2 L636.5 325.58 L636.9 325.09 L637.3 325.22 L637.7 325.97 L638.1 325.88 L638.5 325.53 L638.9 325.39 L639.3 324.89 L639.7 325.5 L640.1 325.3 L640.5 325.37 L640.9 325.07 L641.3 325.28 L641.7 325.21 L642.1 325.41 L642.5 325.85 L642.9 325.43" fill="none" stroke="#e06a10" stroke-width="1.7" stroke-linejoin="round" stroke-linecap="round" />
<path d="M462.5 232.6 H643.3 V364.3 H462.5 Z" fill="none" stroke="#555" stroke-width="1"/>
<line x1="462.45" y1="364.3" x2="462.45" y2="365.8" stroke="#555" stroke-width="0.8" />
<line x1="492.8" y1="364.3" x2="492.8" y2="366.8" stroke="#555" stroke-width="0.8" />
<line x1="523.15" y1="364.3" x2="523.15" y2="365.8" stroke="#555" stroke-width="0.8" />
<line x1="553.5" y1="364.3" x2="553.5" y2="366.8" stroke="#555" stroke-width="0.8" />
<line x1="583.85" y1="364.3" x2="583.85" y2="365.8" stroke="#555" stroke-width="0.8" />
<line x1="614.2" y1="364.3" x2="614.2" y2="366.8" stroke="#555" stroke-width="0.8" />
<text x="492.8" y="376.7" font-size="9.3" font-weight="bold" fill="#000" text-anchor="middle" ><tspan>2.02</tspan></text>
<text x="553.5" y="376.7" font-size="9.3" font-weight="bold" fill="#000" text-anchor="middle" ><tspan>2.00</tspan></text>
<text x="614.2" y="376.7" font-size="9.3" font-weight="bold" fill="#000" text-anchor="middle" ><tspan>1.98</tspan></text>
<text x="552.9" y="388" font-size="12.4" font-weight="bold" fill="#000" text-anchor="middle" ><tspan>g</tspan></text>
<text x="455.5" y="297.5" font-size="12.4" font-weight="bold" fill="#000" text-anchor="middle" transform="rotate(-90 455.5 297.5)"><tspan>Intensity (a.u.)</tspan></text>
<line x1="464.2" y1="240.1" x2="482" y2="240.1" stroke="#e06a10" stroke-width="1.8" />
<line x1="464.2" y1="254.5" x2="482" y2="254.5" stroke="#666" stroke-width="1.8" />
<text x="483.5" y="243.3" font-size="9.8" font-weight="bold" fill="#000" text-anchor="start" ><tspan>0.3Pt/(TiO</tspan><tspan dy="2.94" font-size="6.86">2</tspan><tspan dy="-2.94">-T-500)</tspan></text>
<text x="483.5" y="257.7" font-size="9.8" font-weight="bold" fill="#000" text-anchor="start" ><tspan>0.3Pt/(TiO</tspan><tspan dy="2.94" font-size="6.86">2</tspan><tspan dy="-2.94">-A)</tspan></text>
<text x="541.1" y="270" font-size="9.6" font-weight="bold" fill="#000" text-anchor="start" ><tspan>O</tspan><tspan dy="2.88" font-size="6.72">v</tspan></text>
<text x="447.5" y="403.5" font-size="20" font-weight="normal" fill="#000" text-anchor="start" ><tspan>f</tspan></text>
<ellipse cx="550.05" cy="437.75" rx="90.54" ry="8.6" fill="#fdeee3" transform="rotate(-23.95 550.05 437.75)"/>
<ellipse cx="586.8" cy="483.75" rx="48.98" ry="6.2" fill="#e0f5ef" transform="rotate(-33.8 586.8 483.75)"/>
<line x1="471" y1="474.7" x2="622.9" y2="401.7" stroke="#e3701b" stroke-width="1.5" stroke-dasharray="5 3.5"/>
<line x1="549.9" y1="509.7" x2="623.8" y2="460" stroke="#444" stroke-width="1.5" stroke-dasharray="5 3.5"/>
<line x1="474.9" y1="468.8" x2="474.9" y2="477" stroke="#e3701b" stroke-width="1" />
<line x1="472.9" y1="468.8" x2="476.9" y2="468.8" stroke="#e3701b" stroke-width="1" />
<line x1="472.9" y1="477" x2="476.9" y2="477" stroke="#e3701b" stroke-width="1" />
<circle cx="474.9" cy="473.2" r="2.2" fill="none" stroke="#e3701b" stroke-width="1"/>
<line x1="548.4" y1="430" x2="548.4" y2="437.2" stroke="#e3701b" stroke-width="1" />
<line x1="546.4" y1="430" x2="550.4" y2="430" stroke="#e3701b" stroke-width="1" />
<line x1="546.4" y1="437.2" x2="550.4" y2="437.2" stroke="#e3701b" stroke-width="1" />
<circle cx="548.4" cy="433.8" r="2.2" fill="none" stroke="#e3701b" stroke-width="1"/>
<line x1="591" y1="412.5" x2="591" y2="423" stroke="#e3701b" stroke-width="1" />
<line x1="589" y1="412.5" x2="593" y2="412.5" stroke="#e3701b" stroke-width="1" />
<line x1="589" y1="423" x2="593" y2="423" stroke="#e3701b" stroke-width="1" />
<circle cx="591" cy="417.7" r="2.2" fill="none" stroke="#e3701b" stroke-width="1"/>
<line x1="622" y1="400.2" x2="622" y2="405.2" stroke="#e3701b" stroke-width="1" />
<line x1="620" y1="400.2" x2="624" y2="400.2" stroke="#e3701b" stroke-width="1" />
<line x1="620" y1="405.2" x2="624" y2="405.2" stroke="#e3701b" stroke-width="1" />
<circle cx="622" cy="402.6" r="2.2" fill="none" stroke="#e3701b" stroke-width="1"/>
<line x1="548.4" y1="502.4" x2="548.4" y2="514.1" stroke="#444" stroke-width="1" />
<line x1="546.4" y1="502.4" x2="550.4" y2="502.4" stroke="#444" stroke-width="1" />
<line x1="546.4" y1="514.1" x2="550.4" y2="514.1" stroke="#444" stroke-width="1" />
<path d="M548.4 505.7 L550.8 509.9 L546 509.9 Z" fill="none" stroke="#444" stroke-width="1"/>
<line x1="591" y1="477" x2="591" y2="486.9" stroke="#444" stroke-width="1" />
<line x1="589" y1="477" x2="593" y2="477" stroke="#444" stroke-width="1" />
<line x1="589" y1="486.9" x2="593" y2="486.9" stroke="#444" stroke-width="1" />
<path d="M591 479.5 L593.4 483.7 L588.6 483.7 Z" fill="none" stroke="#444" stroke-width="1"/>
<line x1="622" y1="453.6" x2="622" y2="463.6" stroke="#444" stroke-width="1" />
<line x1="620" y1="453.6" x2="624" y2="453.6" stroke="#444" stroke-width="1" />
<line x1="620" y1="463.6" x2="624" y2="463.6" stroke="#444" stroke-width="1" />
<path d="M622 456.1 L624.4 460.3 L619.6 460.3 Z" fill="none" stroke="#444" stroke-width="1"/>
<path d="M462.5 393.3 H644.5 V525 H462.5" fill="none" stroke="#9a9a9a" stroke-width="1.2"/>
<line x1="462.5" y1="393" x2="462.5" y2="525.5" stroke="#555" stroke-width="1" />
<line x1="462.9" y1="524.8" x2="462.9" y2="526.3" stroke="#666" stroke-width="0.8" />
<line x1="484.2" y1="524.8" x2="484.2" y2="527.3" stroke="#666" stroke-width="0.8" />
<line x1="505.5" y1="524.8" x2="505.5" y2="526.3" stroke="#666" stroke-width="0.8" />
<line x1="526.8" y1="524.8" x2="526.8" y2="527.3" stroke="#666" stroke-width="0.8" />
<line x1="548.1" y1="524.8" x2="548.1" y2="526.3" stroke="#666" stroke-width="0.8" />
<line x1="569.4" y1="524.8" x2="569.4" y2="527.3" stroke="#666" stroke-width="0.8" />
<line x1="590.7" y1="524.8" x2="590.7" y2="526.3" stroke="#666" stroke-width="0.8" />
<line x1="612" y1="524.8" x2="612" y2="527.3" stroke="#666" stroke-width="0.8" />
<line x1="633.3" y1="524.8" x2="633.3" y2="526.3" stroke="#666" stroke-width="0.8" />
<text x="484.2" y="537" font-size="8.3" font-weight="bold" fill="#000" text-anchor="middle" ><tspan>−3.6</tspan></text>
<text x="526.8" y="537" font-size="8.3" font-weight="bold" fill="#000" text-anchor="middle" ><tspan>−3.2</tspan></text>
<text x="569.4" y="537" font-size="8.3" font-weight="bold" fill="#000" text-anchor="middle" ><tspan>−2.8</tspan></text>
<text x="612" y="537" font-size="8.3" font-weight="bold" fill="#000" text-anchor="middle" ><tspan>−2.4</tspan></text>
<line x1="644.5" y1="401.7" x2="647.5" y2="401.7" stroke="#555" stroke-width="0.8" />
<line x1="644.5" y1="420.55" x2="646.3" y2="420.55" stroke="#555" stroke-width="0.8" />
<line x1="644.5" y1="439.4" x2="647.5" y2="439.4" stroke="#555" stroke-width="0.8" />
<line x1="644.5" y1="458.25" x2="646.3" y2="458.25" stroke="#555" stroke-width="0.8" />
<line x1="644.5" y1="477.1" x2="647.5" y2="477.1" stroke="#555" stroke-width="0.8" />
<line x1="644.5" y1="495.95" x2="646.3" y2="495.95" stroke="#555" stroke-width="0.8" />
<line x1="644.5" y1="514.8" x2="647.5" y2="514.8" stroke="#555" stroke-width="0.8" />
<text x="650" y="404.5" font-size="8" font-weight="bold" fill="#000" text-anchor="start" ><tspan>−10.8</tspan></text>
<text x="650" y="442.2" font-size="8" font-weight="bold" fill="#000" text-anchor="start" ><tspan>−11.2</tspan></text>
<text x="650" y="479.9" font-size="8" font-weight="bold" fill="#000" text-anchor="start" ><tspan>−11.6</tspan></text>
<text x="650" y="517.6" font-size="8" font-weight="bold" fill="#000" text-anchor="start" ><tspan>−12.0</tspan></text>
<text x="529.4" y="554.4" font-size="12.4" font-weight="bold" fill="#000">ln P<tspan dy="3" font-size="8">H</tspan><tspan font-size="5">2</tspan><tspan font-size="8">O</tspan><tspan dy="-3"> (atm)</tspan></text>
<text transform="translate(674.5 461) rotate(90)" text-anchor="middle" font-size="12.4" font-weight="bold" fill="#000">ln rate (μmol·g<tspan dy="3" font-size="8.5">cat</tspan><tspan dy="-7.5" font-size="8.5">-1</tspan><tspan dy="4.5">·s</tspan><tspan dy="-4.5" font-size="8.5">-1</tspan><tspan dy="4.5">)</tspan></text>
<text x="465.3" y="404.1" font-size="9.6" font-weight="bold" fill="#000" text-anchor="start" ><tspan>250 °C</tspan></text>
<text x="478.6" y="417.4" font-size="9.6" font-weight="bold" fill="#e3701b" text-anchor="start" ><tspan>0.3Pt/(TiO</tspan><tspan dy="2.88" font-size="6.72">2</tspan><tspan dy="-2.88">-T-500)</tspan></text>
<text x="496" y="432.1" font-size="9.6" font-weight="bold" fill="#e3701b" text-anchor="start" ><tspan>k = 0.52</tspan></text>
<text x="490.4" y="487.8" font-size="9.6" font-weight="bold" fill="#444" text-anchor="start" ><tspan>0.3Pt/(TiO</tspan><tspan dy="2.88" font-size="6.72">2</tspan><tspan dy="-2.88">-A)</tspan></text>
<text x="501" y="501.5" font-size="9.6" font-weight="bold" fill="#444" text-anchor="start" ><tspan>k = 0.75</tspan></text>
</svg></body></html>
